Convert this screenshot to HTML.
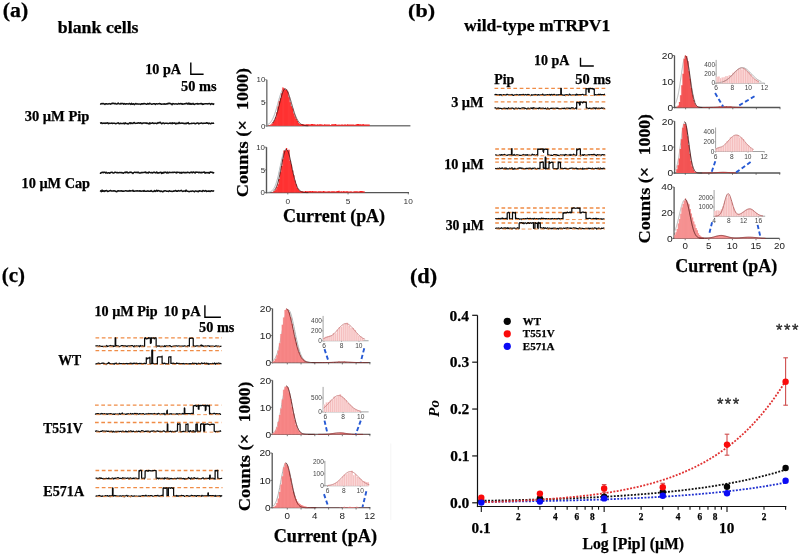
<!DOCTYPE html>
<html><head><meta charset="utf-8"><style>
html,body{margin:0;padding:0;background:#fff;}
svg{display:block;will-change:transform;}
.b{stroke:#000;stroke-width:0.25px;}
.a{stroke:#2a2a2a;stroke-width:0.35px;}
</style></head><body>
<svg width="800" height="555" viewBox="0 0 800 555">
<rect width="800" height="555" fill="#fff"/>
<text class="b" x="2.74" y="17.4" font-family='"Liberation Serif", serif' font-size="20" font-weight="bold" font-style="normal" fill="#000" textLength="25.42" lengthAdjust="spacingAndGlyphs">(a)</text>
<text class="b" x="57.87" y="32.7" font-family='"Liberation Serif", serif' font-size="17.6" font-weight="bold" font-style="normal" fill="#000" textLength="80.66" lengthAdjust="spacingAndGlyphs">blank cells</text>
<text class="b" x="145.16" y="73.5" font-family='"Liberation Serif", serif' font-size="14.2" font-weight="bold" font-style="normal" fill="#000" textLength="35.94" lengthAdjust="spacingAndGlyphs">10 pA</text>
<text class="b" x="181.02" y="91" font-family='"Liberation Serif", serif' font-size="14.2" font-weight="bold" font-style="normal" fill="#000" textLength="35.53" lengthAdjust="spacingAndGlyphs">50 ms</text>
<path d="M190.8 62.6 L190.8 74.2 L203.6 74.2" stroke="#000" stroke-width="1.4" fill="none"/>
<text class="b" x="24.65" y="120.7" font-family='"Liberation Serif", serif' font-size="14.3" font-weight="bold" font-style="normal" fill="#000" textLength="64.73" lengthAdjust="spacingAndGlyphs">30 µM Pip</text>
<text class="b" x="21.56" y="188.4" font-family='"Liberation Serif", serif' font-size="14.3" font-weight="bold" font-style="normal" fill="#000" textLength="68.52" lengthAdjust="spacingAndGlyphs">10 µM Cap</text>
<path d="M100 103.9 L100.7 104 L101.4 103.8 L102.1 103.59 L102.8 103.74 L103.5 103.55 L104.2 103.92 L104.9 104.37 L105.6 103.73 L106.3 103.68 L107 104.07 L107.7 104.02 L108.4 103.94 L109.1 103.57 L109.8 103.89 L110.5 104.14 L111.2 103.43 L111.9 103.74 L112.6 103.23 L113.3 103.45 L114 103.26 L114.7 103.82 L115.4 103.46 L116.1 103.99 L116.8 103.95 L117.5 103.83 L118.2 103.02 L118.9 103.71 L119.6 103.88 L120.3 103.94 L121 103.36 L121.7 103.73 L122.4 103.56 L123.1 103.62 L123.8 104.27 L124.5 103.62 L125.2 103.89 L125.9 104.21 L126.6 103.7 L127.3 103.86 L128 103.94 L128.7 103.92 L129.4 103.47 L130.1 103.93 L130.8 104.38 L131.5 103.36 L132.2 104.2 L132.9 103.94 L133.6 103.68 L134.3 104.6 L135 104.17 L135.7 103.48 L136.4 103.93 L137.1 104.1 L137.8 103.83 L138.5 104.14 L139.2 103.88 L139.9 104.13 L140.6 104.4 L141.3 103.66 L142 103.97 L142.7 103.74 L143.4 103.94 L144.1 103.48 L144.8 103.7 L145.5 103.83 L146.2 104.21 L146.9 104.3 L147.6 103.44 L148.3 103.62 L149 104.13 L149.7 103.2 L150.4 103.74 L151.1 103.87 L151.8 104.34 L152.5 104.14 L153.2 103.79 L153.9 103.77 L154.6 103.81 L155.3 104.43 L156 103.75 L156.7 103.79 L157.4 104.02 L158.1 103.86 L158.8 103.83 L159.5 103.51 L160.2 103.9 L160.9 103.74 L161.6 104.31 L162.3 104.13 L163 103.89 L163.7 104.13 L164.4 103.78 L165.1 104.27 L165.8 103.9 L166.5 104.1 L167.2 103.45 L167.9 104.02 L168.6 103.31 L169.3 103.19 L170 103.79 L170.7 103.59 L171.4 103.96 L172.1 104.69 L172.8 103.61 L173.5 103.68 L174.2 103.97 L174.9 104.07 L175.6 103.84 L176.3 103.83 L177 104.15 L177.7 104.08 L178.4 103.54 L179.1 103.87 L179.8 103.91 L180.5 103.53 L181.2 103.99 L181.9 103.6 L182.6 104.24 L183.3 103.97 L184 103.93 L184.7 103.69 L185.4 103.86 L186.1 103.2 L186.8 103.5 L187.5 104.03 L188.2 103.16 L188.9 104.2 L189.6 103.29 L190.3 104.16 L191 103.6 L191.7 104.17 L192.4 103.95 L193.1 103.36 L193.8 104.34 L194.5 104.4 L195.2 103.88 L195.9 103.8 L196.6 103.84 L197.3 103.56 L198 104.28 L198.7 103.71 L199.4 103.88 L200.1 103.62 L200.8 103.68 L201.5 103.45 L202.2 104.34 L202.9 103.85 L203.6 104.24 L204.3 103.9 L205 103.66 L205.7 103.79 L206.4 103.7 L207.1 103.9 L207.8 103.77 L208.5 103.8 L209.2 103.42 L209.9 103.62 L210.6 104.48 L211.3 103.67 L212 103.53 L212.7 104.02 L213.4 104.39 L214.1 103.39" stroke="#111" stroke-width="1.5" fill="none" stroke-linejoin="round"/>
<path d="M100 123.23 L100.7 123.08 L101.4 122.68 L102.1 123.56 L102.8 123.29 L103.5 123.33 L104.2 123.04 L104.9 123.46 L105.6 123.11 L106.3 123.25 L107 122.91 L107.7 122.87 L108.4 123.77 L109.1 123.12 L109.8 123.4 L110.5 123.29 L111.2 123.15 L111.9 123.12 L112.6 123.52 L113.3 123.19 L114 123.25 L114.7 123.31 L115.4 123.71 L116.1 123.54 L116.8 123.43 L117.5 123.1 L118.2 122.82 L118.9 123.63 L119.6 123.64 L120.3 123.25 L121 123.49 L121.7 123.57 L122.4 123.59 L123.1 123.62 L123.8 123.14 L124.5 123.83 L125.2 122.86 L125.9 123.6 L126.6 123.47 L127.3 123.61 L128 123.96 L128.7 123.82 L129.4 122.9 L130.1 122.71 L130.8 123.59 L131.5 122.94 L132.2 123.3 L132.9 123.59 L133.6 122.72 L134.3 122.56 L135 123.39 L135.7 123.32 L136.4 123.21 L137.1 123.31 L137.8 123 L138.5 122.77 L139.2 123.24 L139.9 122.96 L140.6 122.72 L141.3 123.48 L142 123.28 L142.7 123.44 L143.4 122.95 L144.1 123.07 L144.8 122.95 L145.5 122.99 L146.2 123.37 L146.9 123.03 L147.6 123.42 L148.3 123.42 L149 124.01 L149.7 122.81 L150.4 123.61 L151.1 123.27 L151.8 123.3 L152.5 122.79 L153.2 123.14 L153.9 123.56 L154.6 123.27 L155.3 123.33 L156 123.2 L156.7 123.7 L157.4 123.29 L158.1 122.53 L158.8 123.06 L159.5 122.61 L160.2 122.16 L160.9 123.11 L161.6 123.77 L162.3 123.32 L163 122.89 L163.7 122.97 L164.4 123.7 L165.1 123.36 L165.8 123.32 L166.5 123.28 L167.2 123.31 L167.9 123.58 L168.6 123.49 L169.3 123.38 L170 122.93 L170.7 123.48 L171.4 123.06 L172.1 123.68 L172.8 122.86 L173.5 123.25 L174.2 123.3 L174.9 122.84 L175.6 123.9 L176.3 123.81 L177 123.14 L177.7 123.57 L178.4 123.43 L179.1 122.39 L179.8 123.39 L180.5 123.28 L181.2 123.33 L181.9 122.92 L182.6 123.21 L183.3 123.24 L184 123.72 L184.7 123.42 L185.4 123.3 L186.1 123.84 L186.8 123.11 L187.5 123.16 L188.2 122.66 L188.9 123.85 L189.6 123.64 L190.3 123.62 L191 123.53 L191.7 123.34 L192.4 123.38 L193.1 123.21 L193.8 123.23 L194.5 123.32 L195.2 123.83 L195.9 123.49 L196.6 123.28 L197.3 123.1 L198 123.08 L198.7 123.86 L199.4 123.48 L200.1 123.32 L200.8 123.18 L201.5 122.91 L202.2 123.28 L202.9 123.61 L203.6 123.16 L204.3 123.22 L205 123.22 L205.7 123.34 L206.4 122.74 L207.1 123.22 L207.8 123 L208.5 123.61 L209.2 123.03 L209.9 123.5 L210.6 123.83 L211.3 123.19 L212 123.09 L212.7 123.37 L213.4 123.3 L214.1 122.95" stroke="#111" stroke-width="1.5" fill="none" stroke-linejoin="round"/>
<path d="M100 172.76 L100.7 173.31 L101.4 172.51 L102.1 172.53 L102.8 172.23 L103.5 172.71 L104.2 172.16 L104.9 172.21 L105.6 173.05 L106.3 172.28 L107 172.98 L107.7 173.13 L108.4 172.69 L109.1 172.79 L109.8 173.28 L110.5 172.53 L111.2 172.39 L111.9 172.13 L112.6 172.61 L113.3 173.12 L114 172.94 L114.7 172.27 L115.4 172.3 L116.1 172.42 L116.8 172.7 L117.5 172.53 L118.2 172.68 L118.9 172.7 L119.6 172.5 L120.3 172.59 L121 172.67 L121.7 172.57 L122.4 172.78 L123.1 173.25 L123.8 172.81 L124.5 172.62 L125.2 172.01 L125.9 172.74 L126.6 171.92 L127.3 172.11 L128 172.9 L128.7 172.85 L129.4 172.55 L130.1 172 L130.8 172.47 L131.5 172.36 L132.2 172.82 L132.9 173.39 L133.6 172.68 L134.3 172.33 L135 172.19 L135.7 172.58 L136.4 172.54 L137.1 172.2 L137.8 172.64 L138.5 172.2 L139.2 172.99 L139.9 172.97 L140.6 172.98 L141.3 172.43 L142 172.78 L142.7 172.55 L143.4 172.46 L144.1 172.48 L144.8 172.15 L145.5 172.09 L146.2 172.88 L146.9 172.53 L147.6 172.68 L148.3 172.95 L149 171.99 L149.7 172.33 L150.4 172.66 L151.1 172.74 L151.8 172.47 L152.5 172.96 L153.2 172.67 L153.9 172.18 L154.6 172.27 L155.3 172.88 L156 172.76 L156.7 171.94 L157.4 173.07 L158.1 172.81 L158.8 173.07 L159.5 172.47 L160.2 172.5 L160.9 172.21 L161.6 173.49 L162.3 172.54 L163 173.16 L163.7 172.37 L164.4 172.66 L165.1 172.02 L165.8 172.47 L166.5 172.94 L167.2 172.16 L167.9 172.98 L168.6 172.72 L169.3 172.23 L170 172.42 L170.7 172.44 L171.4 172.58 L172.1 172.41 L172.8 172.31 L173.5 172.49 L174.2 172.24 L174.9 172.15 L175.6 172.58 L176.3 172.91 L177 172.06 L177.7 172.6 L178.4 172.37 L179.1 172.26 L179.8 172.9 L180.5 172.42 L181.2 173.12 L181.9 172.33 L182.6 172.74 L183.3 172.52 L184 172.34 L184.7 172.81 L185.4 172.55 L186.1 172.81 L186.8 172.58 L187.5 172.22 L188.2 172.56 L188.9 172.62 L189.6 172.94 L190.3 172.28 L191 172.59 L191.7 172 L192.4 172.83 L193.1 172.22 L193.8 171.97 L194.5 172.58 L195.2 172.99 L195.9 172.07 L196.6 172.22 L197.3 172.34 L198 172.2 L198.7 172.73 L199.4 172.32 L200.1 172.35 L200.8 172.8 L201.5 172.34 L202.2 172.75 L202.9 172.26 L203.6 172.18 L204.3 171.96 L205 173.25 L205.7 172.49 L206.4 172.69 L207.1 172.59 L207.8 172.66 L208.5 172.62 L209.2 173.27 L209.9 172.24 L210.6 172.05 L211.3 172.25 L212 172.13 L212.7 172.86 L213.4 172.89 L214.1 172.26" stroke="#111" stroke-width="1.5" fill="none" stroke-linejoin="round"/>
<path d="M100 190.61 L100.7 190.98 L101.4 191.59 L102.1 190.11 L102.8 191.28 L103.5 190.72 L104.2 191.46 L104.9 190.72 L105.6 191 L106.3 190.57 L107 190.76 L107.7 191.59 L108.4 191.39 L109.1 190.96 L109.8 190.8 L110.5 190.44 L111.2 190.96 L111.9 191.09 L112.6 191.07 L113.3 191.07 L114 190.71 L114.7 191.08 L115.4 191.09 L116.1 191.55 L116.8 191.75 L117.5 191.05 L118.2 190.83 L118.9 191.08 L119.6 190.89 L120.3 190.84 L121 191.08 L121.7 190.73 L122.4 191.31 L123.1 191.06 L123.8 191.19 L124.5 191.04 L125.2 190.85 L125.9 190.77 L126.6 191.02 L127.3 190.91 L128 191.18 L128.7 191.1 L129.4 190.62 L130.1 191.12 L130.8 190.63 L131.5 190.88 L132.2 191 L132.9 190.37 L133.6 191.13 L134.3 191.15 L135 191.04 L135.7 190.95 L136.4 190.97 L137.1 190.76 L137.8 191.01 L138.5 190.91 L139.2 191.13 L139.9 190.68 L140.6 191.18 L141.3 191.15 L142 191.05 L142.7 190.95 L143.4 191.29 L144.1 190.52 L144.8 191.26 L145.5 191.19 L146.2 191.2 L146.9 191.23 L147.6 190.87 L148.3 191.01 L149 191.32 L149.7 191.25 L150.4 191.17 L151.1 190.57 L151.8 191.29 L152.5 191.51 L153.2 191.45 L153.9 191.18 L154.6 190.55 L155.3 191.43 L156 191.05 L156.7 190.21 L157.4 191.23 L158.1 190.58 L158.8 190.65 L159.5 190.88 L160.2 191.55 L160.9 190.97 L161.6 191.19 L162.3 191.71 L163 191.66 L163.7 191.06 L164.4 191.02 L165.1 190.66 L165.8 190.86 L166.5 191.25 L167.2 191.24 L167.9 191.14 L168.6 191.45 L169.3 190.83 L170 191.08 L170.7 191.36 L171.4 191.3 L172.1 191.47 L172.8 191.24 L173.5 190.99 L174.2 191.23 L174.9 190.75 L175.6 190.53 L176.3 191.3 L177 191.08 L177.7 191.21 L178.4 190.51 L179.1 190.97 L179.8 190.89 L180.5 190.8 L181.2 190.31 L181.9 190.98 L182.6 191.41 L183.3 191.23 L184 190.89 L184.7 191.09 L185.4 191.36 L186.1 190.13 L186.8 191.06 L187.5 191.29 L188.2 191.34 L188.9 191.7 L189.6 191.5 L190.3 191.21 L191 191.21 L191.7 191.38 L192.4 190.91 L193.1 191.09 L193.8 191.42 L194.5 191.79 L195.2 191.04 L195.9 191.08 L196.6 191.17 L197.3 191.57 L198 191.09 L198.7 191.61 L199.4 190.76 L200.1 191.03 L200.8 191.03 L201.5 191.38 L202.2 191.47 L202.9 190.57 L203.6 190.78 L204.3 191.22 L205 190.87 L205.7 190.57 L206.4 191.46 L207.1 191.27 L207.8 191.27 L208.5 190.93 L209.2 191.46 L209.9 191.02 L210.6 191.48 L211.3 190.78 L212 190.8 L212.7 191.17 L213.4 190.85 L214.1 191.34" stroke="#111" stroke-width="1.5" fill="none" stroke-linejoin="round"/>
<text class="b" transform="translate(247.9 197.29) rotate(-90)" x="0" y="0" font-family='"Liberation Serif", serif' font-size="17.5" font-weight="bold" fill="#000" textLength="77.14" lengthAdjust="spacingAndGlyphs">Counts (×</text>
<text class="b" transform="translate(247.9 110.04) rotate(-90)" x="0" y="0" font-family='"Liberation Serif", serif' font-size="17.5" font-weight="bold" fill="#000" textLength="42.03" lengthAdjust="spacingAndGlyphs">1000)</text>
<text class="b" x="283.13" y="221.8" font-family='"Liberation Serif", serif' font-size="17.8" font-weight="bold" font-style="normal" fill="#000" textLength="101.96" lengthAdjust="spacingAndGlyphs">Current (pA)</text>
<line x1="266.8" y1="79.7" x2="266.8" y2="126.55" stroke="#7a7a7a" stroke-width="1.5"/>
<line x1="266.05" y1="125.8" x2="410.4" y2="125.8" stroke="#7a7a7a" stroke-width="1.5"/>
<line x1="265" y1="79.7" x2="266.8" y2="79.7" stroke="#7a7a7a" stroke-width="0.8"/>
<text x="256.52" y="82.46" font-family='"Liberation Sans", sans-serif' font-size="7.9" font-weight="normal" font-style="normal" fill="#333">10</text>
<line x1="265" y1="102.75" x2="266.8" y2="102.75" stroke="#7a7a7a" stroke-width="0.8"/>
<text x="260.94" y="105.47" font-family='"Liberation Sans", sans-serif' font-size="7.9" font-weight="normal" font-style="normal" fill="#333">5</text>
<line x1="265" y1="125.8" x2="266.8" y2="125.8" stroke="#7a7a7a" stroke-width="0.8"/>
<text x="260.91" y="128.56" font-family='"Liberation Sans", sans-serif' font-size="7.9" font-weight="normal" font-style="normal" fill="#333">0</text>
<path d="M266.71 125.03 L266.99 124.93 L267.27 124.82 L267.55 124.7 L267.83 124.56 L268.1 124.41 L268.38 124.25 L268.66 124.06 L268.94 123.86 L269.22 123.65 L269.5 123.41 L269.78 123.15 L270.05 122.86 L270.33 122.56 L270.61 122.23 L270.89 121.87 L271.17 121.48 L271.45 121.07 L271.72 120.63 L272 120.16 L272.28 119.65 L272.56 119.12 L272.84 118.55 L273.12 117.95 L273.4 117.32 L273.67 116.66 L273.95 115.96 L274.23 115.23 L274.51 114.46 L274.79 113.67 L275.07 112.85 L275.34 112 L275.62 111.12 L275.9 110.21 L276.18 109.29 L276.46 108.34 L276.74 107.37 L277.02 106.39 L277.29 105.4 L277.57 104.4 L277.85 103.4 L278.13 102.39 L278.41 101.39 L278.69 100.39 L278.97 99.41 L279.24 98.44 L279.52 97.49 L279.8 96.57 L280.08 95.67 L280.36 94.81 L280.64 93.99 L280.91 93.21 L281.19 92.48 L281.47 91.8 L281.75 91.18 L282.03 90.61 L282.31 90.1 L282.59 89.66 L282.86 89.28 L283.14 88.97 L283.42 88.74 L283.7 88.57 L283.98 88.48 L284.26 88.46 L284.53 88.52 L284.81 88.65 L285.09 88.85 L285.37 89.12 L285.65 89.46 L285.93 89.87 L286.21 90.35 L286.48 90.89 L286.76 91.49 L287.04 92.14 L287.32 92.85 L287.6 93.61 L287.88 94.41 L288.15 95.25 L288.43 96.13 L288.71 97.03 L288.99 97.97 L289.27 98.93 L289.55 99.91 L289.83 100.9 L290.1 101.9 L290.38 102.9 L290.66 103.91 L290.94 104.91 L291.22 105.91 L291.5 106.9 L291.77 107.87 L292.05 108.82 L292.33 109.76 L292.61 110.68 L292.89 111.57 L293.17 112.43 L293.45 113.27 L293.72 114.08 L294 114.86 L294.28 115.6 L294.56 116.32 L294.84 117 L295.12 117.65 L295.39 118.26 L295.67 118.85 L295.95 119.4 L296.23 119.91 L296.51 120.4 L296.79 120.86 L297.07 121.29 L297.34 121.68 L297.62 122.05 L297.9 122.4 L298.18 122.72 L298.46 123.01 L298.74 123.28 L299.01 123.53 L299.29 123.76 L299.57 123.97 L299.85 124.16" stroke="#a9b3b8" stroke-width="1" fill="none"/>
<path d="M267.92 125.8 L267.92 125.45 L269.12 125.45 L269.12 125.16 L270.33 125.16 L270.33 124.55 L271.53 124.55 L271.53 123.65 L272.74 123.65 L272.74 121.96 L273.94 121.96 L273.94 120.14 L275.15 120.14 L275.15 117.15 L276.35 117.15 L276.35 112.34 L277.56 112.34 L277.56 106.56 L278.76 106.56 L278.76 101.15 L279.97 101.15 L279.97 98.16 L281.17 98.16 L281.17 93.28 L282.38 93.28 L282.38 87.4 L283.58 87.4 L283.58 88.47 L284.79 88.47 L284.79 90.02 L285.99 90.02 L285.99 89.39 L287.2 89.39 L287.2 91.52 L288.4 91.52 L288.4 97.17 L289.61 97.17 L289.61 102.3 L290.81 102.3 L290.81 106.18 L292.02 106.18 L292.02 108.46 L293.22 108.46 L293.22 113.47 L294.43 113.47 L294.43 116.44 L295.63 116.44 L295.63 119.06 L296.84 119.06 L296.84 121.12 L298.04 121.12 L298.04 122.88 L299.25 122.88 L299.25 123.88 L300.45 123.88 L300.45 124.71 L301.66 124.71 L301.66 125.15 L302.86 125.15 L302.86 125.45 L304.07 125.45 L304.07 125.59 L305.27 125.59 L305.27 125.7 L306.48 125.7 L306.48 125.75 L307.68 125.75 L307.68 125.78 L308.89 125.78 L308.89 125.79 L310.09 125.79 L310.09 125.79 L311.3 125.79 L311.3 125.8 L312.5 125.8 L312.5 125.8 L313.71 125.8 L313.71 125.8 L314.91 125.8 L314.91 125.8 L316.12 125.8 L316.12 125.8 L317.32 125.8 L317.32 125.8 Z" fill="#ff1f1f" fill-opacity="1" stroke="none"/>
<line x1="267.92" y1="125.8" x2="267.92" y2="125.45" stroke="#ff6a6a" stroke-width="0.35"/>
<line x1="269.12" y1="125.8" x2="269.12" y2="125.16" stroke="#ff6a6a" stroke-width="0.35"/>
<line x1="270.33" y1="125.8" x2="270.33" y2="124.55" stroke="#ff6a6a" stroke-width="0.35"/>
<line x1="271.53" y1="125.8" x2="271.53" y2="123.65" stroke="#ff6a6a" stroke-width="0.35"/>
<line x1="272.74" y1="125.8" x2="272.74" y2="121.96" stroke="#ff6a6a" stroke-width="0.35"/>
<line x1="273.94" y1="125.8" x2="273.94" y2="120.14" stroke="#ff6a6a" stroke-width="0.35"/>
<line x1="275.15" y1="125.8" x2="275.15" y2="117.15" stroke="#ff6a6a" stroke-width="0.35"/>
<line x1="276.35" y1="125.8" x2="276.35" y2="112.34" stroke="#ff6a6a" stroke-width="0.35"/>
<line x1="277.56" y1="125.8" x2="277.56" y2="106.56" stroke="#ff6a6a" stroke-width="0.35"/>
<line x1="278.76" y1="125.8" x2="278.76" y2="101.15" stroke="#ff6a6a" stroke-width="0.35"/>
<line x1="279.97" y1="125.8" x2="279.97" y2="98.16" stroke="#ff6a6a" stroke-width="0.35"/>
<line x1="281.17" y1="125.8" x2="281.17" y2="93.28" stroke="#ff6a6a" stroke-width="0.35"/>
<line x1="282.38" y1="125.8" x2="282.38" y2="87.4" stroke="#ff6a6a" stroke-width="0.35"/>
<line x1="283.58" y1="125.8" x2="283.58" y2="88.47" stroke="#ff6a6a" stroke-width="0.35"/>
<line x1="284.79" y1="125.8" x2="284.79" y2="90.02" stroke="#ff6a6a" stroke-width="0.35"/>
<line x1="285.99" y1="125.8" x2="285.99" y2="89.39" stroke="#ff6a6a" stroke-width="0.35"/>
<line x1="287.2" y1="125.8" x2="287.2" y2="91.52" stroke="#ff6a6a" stroke-width="0.35"/>
<line x1="288.4" y1="125.8" x2="288.4" y2="97.17" stroke="#ff6a6a" stroke-width="0.35"/>
<line x1="289.61" y1="125.8" x2="289.61" y2="102.3" stroke="#ff6a6a" stroke-width="0.35"/>
<line x1="290.81" y1="125.8" x2="290.81" y2="106.18" stroke="#ff6a6a" stroke-width="0.35"/>
<line x1="292.02" y1="125.8" x2="292.02" y2="108.46" stroke="#ff6a6a" stroke-width="0.35"/>
<line x1="293.22" y1="125.8" x2="293.22" y2="113.47" stroke="#ff6a6a" stroke-width="0.35"/>
<line x1="294.43" y1="125.8" x2="294.43" y2="116.44" stroke="#ff6a6a" stroke-width="0.35"/>
<line x1="295.63" y1="125.8" x2="295.63" y2="119.06" stroke="#ff6a6a" stroke-width="0.35"/>
<line x1="296.84" y1="125.8" x2="296.84" y2="121.12" stroke="#ff6a6a" stroke-width="0.35"/>
<line x1="298.04" y1="125.8" x2="298.04" y2="122.88" stroke="#ff6a6a" stroke-width="0.35"/>
<line x1="299.25" y1="125.8" x2="299.25" y2="123.88" stroke="#ff6a6a" stroke-width="0.35"/>
<line x1="300.45" y1="125.8" x2="300.45" y2="124.71" stroke="#ff6a6a" stroke-width="0.35"/>
<line x1="301.66" y1="125.8" x2="301.66" y2="125.15" stroke="#ff6a6a" stroke-width="0.35"/>
<line x1="302.86" y1="125.8" x2="302.86" y2="125.45" stroke="#ff6a6a" stroke-width="0.35"/>
<line x1="304.07" y1="125.8" x2="304.07" y2="125.59" stroke="#ff6a6a" stroke-width="0.35"/>
<line x1="305.27" y1="125.8" x2="305.27" y2="125.7" stroke="#ff6a6a" stroke-width="0.35"/>
<line x1="306.48" y1="125.8" x2="306.48" y2="125.75" stroke="#ff6a6a" stroke-width="0.35"/>
<line x1="307.68" y1="125.8" x2="307.68" y2="125.78" stroke="#ff6a6a" stroke-width="0.35"/>
<line x1="308.89" y1="125.8" x2="308.89" y2="125.79" stroke="#ff6a6a" stroke-width="0.35"/>
<line x1="310.09" y1="125.8" x2="310.09" y2="125.79" stroke="#ff6a6a" stroke-width="0.35"/>
<line x1="311.3" y1="125.8" x2="311.3" y2="125.8" stroke="#ff6a6a" stroke-width="0.35"/>
<line x1="312.5" y1="125.8" x2="312.5" y2="125.8" stroke="#ff6a6a" stroke-width="0.35"/>
<line x1="313.71" y1="125.8" x2="313.71" y2="125.8" stroke="#ff6a6a" stroke-width="0.35"/>
<line x1="314.91" y1="125.8" x2="314.91" y2="125.8" stroke="#ff6a6a" stroke-width="0.35"/>
<line x1="316.12" y1="125.8" x2="316.12" y2="125.8" stroke="#ff6a6a" stroke-width="0.35"/>
<path d="M299.85 125.8 L299.85 124.44 L301.06 124.44 L301.06 124.27 L302.26 124.27 L302.26 123.99 L303.47 123.99 L303.47 124.47 L304.67 124.47 L304.67 124.49 L305.88 124.49 L305.88 124.17 L307.08 124.17 L307.08 124.31 L308.29 124.31 L308.29 124.28 L309.49 124.28 L309.49 124.52 L310.7 124.52 L310.7 124.02 L311.9 124.02 L311.9 124.06 L313.11 124.06 L313.11 124.3 L314.31 124.3 L314.31 124.28 L315.52 124.28 L315.52 124.84 L316.72 124.84 L316.72 124.28 L317.93 124.28 L317.93 124.46 L319.13 124.46 L319.13 124.33 L320.34 124.33 L320.34 124.28 L321.54 124.28 L321.54 124.49 L322.75 124.49 L322.75 124.77 L323.95 124.77 L323.95 124.34 L325.16 124.34 L325.16 124.57 L326.36 124.57 L326.36 124.49 L327.57 124.49 L327.57 124.54 L328.77 124.54 L328.77 124.49 L329.98 124.49 L329.98 124.9 L331.18 124.9 L331.18 124.16 L332.39 124.16 L332.39 124.36 L333.59 124.36 L333.59 124.19 L334.8 124.19 L334.8 124.01 L336 124.01 L336 124.41 L337.21 124.41 L337.21 124.79 L338.41 124.79 L338.41 124.6 L339.62 124.6 L339.62 124.67 L340.82 124.67 L340.82 124.52 L342.03 124.52 L342.03 124.4 L343.23 124.4 L343.23 124.83 L344.44 124.83 L344.44 124.35 L345.64 124.35 L345.64 124.73 L346.85 124.73 L346.85 124.36 L348.05 124.36 L348.05 124.44 L349.26 124.44 L349.26 124.48 L350.46 124.48 L350.46 124.43 L351.67 124.43 L351.67 124.53 L352.87 124.53 L352.87 124.54 L354.08 124.54 L354.08 124.77 L355.28 124.77 L355.28 124.42 L356.49 124.42 L356.49 124.03 L357.69 124.03 L357.69 124.01 L358.9 124.01 L358.9 124.14 L360.1 124.14 L360.1 124.27 L361.31 124.27 L361.31 124.56 L362.51 124.56 L362.51 124.12 L363.72 124.12 L363.72 124.43 L364.92 124.43 L364.92 124.43 L366.13 124.43 L366.13 124.48 L367.33 124.48 L367.33 124.4 L368.54 124.4 L368.54 124.51 L369.74 124.51 L369.74 125.8 Z" fill="#ff1f1f" fill-opacity="1" stroke="none"/>
<path d="M272.13 123.46 L272.44 123.14 L272.74 122.79 L273.05 122.4 L273.35 121.97 L273.65 121.51 L273.96 121 L274.26 120.44 L274.57 119.84 L274.87 119.19 L275.17 118.5 L275.48 117.75 L275.78 116.96 L276.08 116.12 L276.39 115.22 L276.69 114.28 L277 113.3 L277.3 112.27 L277.6 111.2 L277.91 110.09 L278.21 108.95 L278.51 107.78 L278.82 106.59 L279.12 105.38 L279.43 104.16 L279.73 102.93 L280.03 101.71 L280.34 100.5 L280.64 99.31 L280.94 98.14 L281.25 97.01 L281.55 95.92 L281.86 94.89 L282.16 93.91 L282.46 93 L282.77 92.17 L283.07 91.42 L283.37 90.76 L283.68 90.19 L283.98 89.73 L284.29 89.36 L284.59 89.11 L284.89 88.96 L285.2 88.92 L285.5 88.98 L285.81 89.11 L286.11 89.33 L286.41 89.63 L286.72 90.01 L287.02 90.47 L287.32 91 L287.63 91.6 L287.93 92.26 L288.24 92.98 L288.54 93.77 L288.84 94.6 L289.15 95.48 L289.45 96.4 L289.75 97.36 L290.06 98.35 L290.36 99.37 L290.67 100.4 L290.97 101.45 L291.27 102.51 L291.58 103.58 L291.88 104.64 L292.18 105.7 L292.49 106.74 L292.79 107.78 L293.1 108.8 L293.4 109.79 L293.7 110.76 L294.01 111.71 L294.31 112.62 L294.61 113.5 L294.92 114.35 L295.22 115.17 L295.53 115.95 L295.83 116.69 L296.13 117.4 L296.44 118.07 L296.74 118.7 L297.05 119.29 L297.35 119.85 L297.65 120.37 L297.96 120.86 L298.26 121.32 L298.56 121.74 L298.87 122.13 L299.17 122.49 L299.48 122.82 L299.78 123.13 L300.08 123.4 L300.39 123.66 L300.69 123.89 L300.99 124.1 L301.3 124.29 L301.6 124.46 L301.91 124.62 L302.21 124.76 L302.51 124.88 L302.82 125 L303.12 125.1 L303.42 125.19 L303.73 125.26 L304.03 125.33 L304.34 125.4 L304.64 125.45 L304.94 125.5 L305.25 125.54 L305.55 125.58 L305.85 125.61 L306.16 125.64 L306.46 125.66 L306.77 125.68 L307.07 125.7 L307.37 125.71 L307.68 125.73 L307.98 125.74 L308.29 125.75" stroke="#3a1010" stroke-width="0.8" fill="none"/>
<line x1="266.5" y1="147.2" x2="266.5" y2="193.3" stroke="#555" stroke-width="1.4"/>
<line x1="265.8" y1="192.6" x2="409" y2="192.6" stroke="#555" stroke-width="1.4"/>
<line x1="264.7" y1="147.2" x2="266.5" y2="147.2" stroke="#555" stroke-width="0.8"/>
<text x="256.22" y="149.96" font-family='"Liberation Sans", sans-serif' font-size="7.9" font-weight="normal" font-style="normal" fill="#333">10</text>
<line x1="264.7" y1="169.9" x2="266.5" y2="169.9" stroke="#555" stroke-width="0.8"/>
<text x="260.64" y="172.62" font-family='"Liberation Sans", sans-serif' font-size="7.9" font-weight="normal" font-style="normal" fill="#333">5</text>
<line x1="264.7" y1="192.6" x2="266.5" y2="192.6" stroke="#555" stroke-width="0.8"/>
<text x="260.61" y="195.36" font-family='"Liberation Sans", sans-serif' font-size="7.9" font-weight="normal" font-style="normal" fill="#333">0</text>
<line x1="287.8" y1="192.6" x2="287.8" y2="194.4" stroke="#555" stroke-width="0.8"/>
<line x1="348.05" y1="192.6" x2="348.05" y2="194.4" stroke="#555" stroke-width="0.8"/>
<line x1="408.3" y1="192.6" x2="408.3" y2="194.4" stroke="#555" stroke-width="0.8"/>
<text x="285.49" y="203.76" font-family='"Liberation Sans", sans-serif' font-size="7.9" font-weight="normal" font-style="normal" fill="#333" textLength="4.61" lengthAdjust="spacingAndGlyphs">0</text>
<text x="345.75" y="203.72" font-family='"Liberation Sans", sans-serif' font-size="7.9" font-weight="normal" font-style="normal" fill="#333" textLength="4.61" lengthAdjust="spacingAndGlyphs">5</text>
<text x="403.53" y="203.76" font-family='"Liberation Sans", sans-serif' font-size="7.9" font-weight="normal" font-style="normal" fill="#333" textLength="9.23" lengthAdjust="spacingAndGlyphs">10</text>
<path d="M267.31 192.46 L267.59 192.43 L267.86 192.4 L268.14 192.36 L268.41 192.32 L268.68 192.27 L268.96 192.22 L269.23 192.16 L269.5 192.08 L269.78 192 L270.05 191.91 L270.32 191.8 L270.6 191.68 L270.87 191.54 L271.14 191.39 L271.42 191.21 L271.69 191.02 L271.96 190.8 L272.24 190.56 L272.51 190.29 L272.78 190 L273.06 189.67 L273.33 189.31 L273.6 188.92 L273.88 188.48 L274.15 188.01 L274.42 187.5 L274.7 186.95 L274.97 186.36 L275.24 185.71 L275.52 185.03 L275.79 184.29 L276.06 183.5 L276.34 182.67 L276.61 181.79 L276.88 180.86 L277.16 179.88 L277.43 178.85 L277.7 177.78 L277.98 176.67 L278.25 175.52 L278.52 174.33 L278.8 173.1 L279.07 171.85 L279.34 170.57 L279.62 169.28 L279.89 167.97 L280.16 166.65 L280.44 165.33 L280.71 164.02 L280.99 162.72 L281.26 161.44 L281.53 160.19 L281.81 158.97 L282.08 157.8 L282.35 156.68 L282.63 155.61 L282.9 154.61 L283.17 153.68 L283.45 152.83 L283.72 152.07 L283.99 151.39 L284.27 150.82 L284.54 150.34 L284.81 149.96 L285.09 149.69 L285.36 149.52 L285.63 149.47 L285.91 149.53 L286.18 149.69 L286.45 149.96 L286.73 150.34 L287 150.82 L287.27 151.4 L287.55 152.08 L287.82 152.85 L288.09 153.7 L288.37 154.63 L288.64 155.63 L288.91 156.69 L289.19 157.82 L289.46 158.99 L289.73 160.21 L290.01 161.46 L290.28 162.74 L290.55 164.04 L290.83 165.35 L291.1 166.67 L291.37 167.99 L291.65 169.3 L291.92 170.59 L292.19 171.87 L292.47 173.12 L292.74 174.34 L293.01 175.53 L293.29 176.69 L293.56 177.8 L293.84 178.87 L294.11 179.89 L294.38 180.87 L294.66 181.8 L294.93 182.68 L295.2 183.52 L295.48 184.3 L295.75 185.04 L296.02 185.72 L296.3 186.37 L296.57 186.96 L296.84 187.51 L297.12 188.02 L297.39 188.49 L297.66 188.92 L297.94 189.31 L298.21 189.67 L298.48 190 L298.76 190.3 L299.03 190.56 L299.3 190.8 L299.58 191.02 L299.85 191.21" stroke="#a9b3b8" stroke-width="1" fill="none"/>
<path d="M267.92 192.6 L267.92 192.57 L269.12 192.57 L269.12 192.53 L270.33 192.53 L270.33 192.43 L271.53 192.43 L271.53 192.16 L272.74 192.16 L272.74 191.77 L273.94 191.77 L273.94 190.96 L275.15 190.96 L275.15 189.41 L276.35 189.41 L276.35 186.98 L277.56 186.98 L277.56 184.21 L278.76 184.21 L278.76 179.12 L279.97 179.12 L279.97 172.14 L281.17 172.14 L281.17 165.95 L282.38 165.95 L282.38 159.3 L283.58 159.3 L283.58 150.56 L284.79 150.56 L284.79 151.01 L285.99 151.01 L285.99 147.92 L287.2 147.92 L287.2 150.42 L288.4 150.42 L288.4 149.69 L289.61 149.69 L289.61 161.12 L290.81 161.12 L290.81 164.7 L292.02 164.7 L292.02 170.57 L293.22 170.57 L293.22 175.24 L294.43 175.24 L294.43 180.42 L295.63 180.42 L295.63 184.17 L296.84 184.17 L296.84 188.01 L298.04 188.01 L298.04 189.51 L299.25 189.51 L299.25 190.94 L300.45 190.94 L300.45 191.72 L301.66 191.72 L301.66 192.13 L302.86 192.13 L302.86 192.39 L304.07 192.39 L304.07 192.51 L305.27 192.51 L305.27 192.56 L306.48 192.56 L306.48 192.58 L307.68 192.58 L307.68 192.59 L308.89 192.59 L308.89 192.6 L310.09 192.6 L310.09 192.6 L311.3 192.6 L311.3 192.6 L312.5 192.6 L312.5 192.6 L313.71 192.6 L313.71 192.6 L314.91 192.6 L314.91 192.6 L316.12 192.6 L316.12 192.6 L317.32 192.6 L317.32 192.6 Z" fill="#ff1f1f" fill-opacity="1" stroke="none"/>
<line x1="267.92" y1="192.6" x2="267.92" y2="192.57" stroke="#ff6a6a" stroke-width="0.35"/>
<line x1="269.12" y1="192.6" x2="269.12" y2="192.53" stroke="#ff6a6a" stroke-width="0.35"/>
<line x1="270.33" y1="192.6" x2="270.33" y2="192.43" stroke="#ff6a6a" stroke-width="0.35"/>
<line x1="271.53" y1="192.6" x2="271.53" y2="192.16" stroke="#ff6a6a" stroke-width="0.35"/>
<line x1="272.74" y1="192.6" x2="272.74" y2="191.77" stroke="#ff6a6a" stroke-width="0.35"/>
<line x1="273.94" y1="192.6" x2="273.94" y2="190.96" stroke="#ff6a6a" stroke-width="0.35"/>
<line x1="275.15" y1="192.6" x2="275.15" y2="189.41" stroke="#ff6a6a" stroke-width="0.35"/>
<line x1="276.35" y1="192.6" x2="276.35" y2="186.98" stroke="#ff6a6a" stroke-width="0.35"/>
<line x1="277.56" y1="192.6" x2="277.56" y2="184.21" stroke="#ff6a6a" stroke-width="0.35"/>
<line x1="278.76" y1="192.6" x2="278.76" y2="179.12" stroke="#ff6a6a" stroke-width="0.35"/>
<line x1="279.97" y1="192.6" x2="279.97" y2="172.14" stroke="#ff6a6a" stroke-width="0.35"/>
<line x1="281.17" y1="192.6" x2="281.17" y2="165.95" stroke="#ff6a6a" stroke-width="0.35"/>
<line x1="282.38" y1="192.6" x2="282.38" y2="159.3" stroke="#ff6a6a" stroke-width="0.35"/>
<line x1="283.58" y1="192.6" x2="283.58" y2="150.56" stroke="#ff6a6a" stroke-width="0.35"/>
<line x1="284.79" y1="192.6" x2="284.79" y2="151.01" stroke="#ff6a6a" stroke-width="0.35"/>
<line x1="285.99" y1="192.6" x2="285.99" y2="147.92" stroke="#ff6a6a" stroke-width="0.35"/>
<line x1="287.2" y1="192.6" x2="287.2" y2="150.42" stroke="#ff6a6a" stroke-width="0.35"/>
<line x1="288.4" y1="192.6" x2="288.4" y2="149.69" stroke="#ff6a6a" stroke-width="0.35"/>
<line x1="289.61" y1="192.6" x2="289.61" y2="161.12" stroke="#ff6a6a" stroke-width="0.35"/>
<line x1="290.81" y1="192.6" x2="290.81" y2="164.7" stroke="#ff6a6a" stroke-width="0.35"/>
<line x1="292.02" y1="192.6" x2="292.02" y2="170.57" stroke="#ff6a6a" stroke-width="0.35"/>
<line x1="293.22" y1="192.6" x2="293.22" y2="175.24" stroke="#ff6a6a" stroke-width="0.35"/>
<line x1="294.43" y1="192.6" x2="294.43" y2="180.42" stroke="#ff6a6a" stroke-width="0.35"/>
<line x1="295.63" y1="192.6" x2="295.63" y2="184.17" stroke="#ff6a6a" stroke-width="0.35"/>
<line x1="296.84" y1="192.6" x2="296.84" y2="188.01" stroke="#ff6a6a" stroke-width="0.35"/>
<line x1="298.04" y1="192.6" x2="298.04" y2="189.51" stroke="#ff6a6a" stroke-width="0.35"/>
<line x1="299.25" y1="192.6" x2="299.25" y2="190.94" stroke="#ff6a6a" stroke-width="0.35"/>
<line x1="300.45" y1="192.6" x2="300.45" y2="191.72" stroke="#ff6a6a" stroke-width="0.35"/>
<line x1="301.66" y1="192.6" x2="301.66" y2="192.13" stroke="#ff6a6a" stroke-width="0.35"/>
<line x1="302.86" y1="192.6" x2="302.86" y2="192.39" stroke="#ff6a6a" stroke-width="0.35"/>
<line x1="304.07" y1="192.6" x2="304.07" y2="192.51" stroke="#ff6a6a" stroke-width="0.35"/>
<line x1="305.27" y1="192.6" x2="305.27" y2="192.56" stroke="#ff6a6a" stroke-width="0.35"/>
<line x1="306.48" y1="192.6" x2="306.48" y2="192.58" stroke="#ff6a6a" stroke-width="0.35"/>
<line x1="307.68" y1="192.6" x2="307.68" y2="192.59" stroke="#ff6a6a" stroke-width="0.35"/>
<line x1="308.89" y1="192.6" x2="308.89" y2="192.6" stroke="#ff6a6a" stroke-width="0.35"/>
<line x1="310.09" y1="192.6" x2="310.09" y2="192.6" stroke="#ff6a6a" stroke-width="0.35"/>
<line x1="311.3" y1="192.6" x2="311.3" y2="192.6" stroke="#ff6a6a" stroke-width="0.35"/>
<line x1="312.5" y1="192.6" x2="312.5" y2="192.6" stroke="#ff6a6a" stroke-width="0.35"/>
<line x1="313.71" y1="192.6" x2="313.71" y2="192.6" stroke="#ff6a6a" stroke-width="0.35"/>
<line x1="314.91" y1="192.6" x2="314.91" y2="192.6" stroke="#ff6a6a" stroke-width="0.35"/>
<line x1="316.12" y1="192.6" x2="316.12" y2="192.6" stroke="#ff6a6a" stroke-width="0.35"/>
<path d="M299.85 192.6 L299.85 191.49 L301.06 191.49 L301.06 191.15 L302.26 191.15 L302.26 191.37 L303.47 191.37 L303.47 191.64 L304.67 191.64 L304.67 191.1 L305.88 191.1 L305.88 191.26 L307.08 191.26 L307.08 191.17 L308.29 191.17 L308.29 191.22 L309.49 191.22 L309.49 191.11 L310.7 191.11 L310.7 191.23 L311.9 191.23 L311.9 190.99 L313.11 190.99 L313.11 191.15 L314.31 191.15 L314.31 191.16 L315.52 191.16 L315.52 191.15 L316.72 191.15 L316.72 191.54 L317.93 191.54 L317.93 191.27 L319.13 191.27 L319.13 191.29 L320.34 191.29 L320.34 191.2 L321.54 191.2 L321.54 191.52 L322.75 191.52 L322.75 190.9 L323.95 190.9 L323.95 191.22 L325.16 191.22 L325.16 191.49 L326.36 191.49 L326.36 191.59 L327.57 191.59 L327.57 191.3 L328.77 191.3 L328.77 191.26 L329.98 191.26 L329.98 191.38 L331.18 191.38 L331.18 191.22 L332.39 191.22 L332.39 191.37 L333.59 191.37 L333.59 191.13 L334.8 191.13 L334.8 191.39 L336 191.39 L336 191.25 L337.21 191.25 L337.21 191.04 L338.41 191.04 L338.41 190.71 L339.62 190.71 L339.62 191.44 L340.82 191.44 L340.82 191.33 L342.03 191.33 L342.03 191.41 L343.23 191.41 L343.23 191.08 L344.44 191.08 L344.44 191.47 L345.64 191.47 L345.64 191.34 L346.85 191.34 L346.85 191.24 L348.05 191.24 L348.05 191.44 L349.26 191.44 L349.26 191.43 L350.46 191.43 L350.46 191.34 L351.67 191.34 L351.67 191.67 L352.87 191.67 L352.87 191.53 L354.08 191.53 L354.08 191.32 L355.28 191.32 L355.28 191.21 L356.49 191.21 L356.49 191.28 L357.69 191.28 L357.69 191.6 L358.9 191.6 L358.9 191.33 L360.1 191.33 L360.1 191.07 L361.31 191.07 L361.31 191.12 L362.51 191.12 L362.51 191.25 L363.72 191.25 L363.72 191.42 L364.92 191.42 L364.92 192.6 Z" fill="#ff1f1f" fill-opacity="1" stroke="none"/>
<path d="M273.34 191.26 L273.63 191.03 L273.93 190.78 L274.22 190.49 L274.51 190.16 L274.81 189.79 L275.1 189.38 L275.4 188.91 L275.69 188.4 L275.98 187.84 L276.28 187.21 L276.57 186.53 L276.86 185.78 L277.16 184.97 L277.45 184.1 L277.74 183.15 L278.04 182.14 L278.33 181.06 L278.63 179.91 L278.92 178.7 L279.21 177.42 L279.51 176.09 L279.8 174.71 L280.09 173.27 L280.39 171.8 L280.68 170.29 L280.98 168.76 L281.27 167.21 L281.56 165.65 L281.86 164.1 L282.15 162.57 L282.44 161.07 L282.74 159.61 L283.03 158.2 L283.32 156.86 L283.62 155.6 L283.91 154.43 L284.21 153.36 L284.5 152.41 L284.79 151.57 L285.09 150.87 L285.38 150.3 L285.67 149.88 L285.97 149.6 L286.26 149.48 L286.55 149.5 L286.85 149.65 L287.14 149.92 L287.44 150.32 L287.73 150.83 L288.02 151.46 L288.32 152.2 L288.61 153.05 L288.9 153.98 L289.2 155.01 L289.49 156.12 L289.78 157.29 L290.08 158.53 L290.37 159.82 L290.67 161.16 L290.96 162.53 L291.25 163.92 L291.55 165.33 L291.84 166.75 L292.13 168.16 L292.43 169.57 L292.72 170.95 L293.01 172.32 L293.31 173.65 L293.6 174.95 L293.9 176.2 L294.19 177.42 L294.48 178.58 L294.78 179.69 L295.07 180.75 L295.36 181.75 L295.66 182.7 L295.95 183.59 L296.25 184.43 L296.54 185.21 L296.83 185.93 L297.13 186.6 L297.42 187.22 L297.71 187.79 L298.01 188.32 L298.3 188.79 L298.59 189.22 L298.89 189.62 L299.18 189.97 L299.48 190.29 L299.77 190.58 L300.06 190.83 L300.36 191.06 L300.65 191.27 L300.94 191.44 L301.24 191.6 L301.53 191.74 L301.82 191.86 L302.12 191.97 L302.41 192.06 L302.71 192.14 L303 192.21 L303.29 192.27 L303.59 192.32 L303.88 192.37 L304.17 192.41 L304.47 192.44 L304.76 192.46 L305.05 192.49 L305.35 192.51 L305.64 192.52 L305.94 192.54 L306.23 192.55 L306.52 192.56 L306.82 192.57 L307.11 192.57 L307.4 192.58 L307.7 192.58 L307.99 192.58 L308.29 192.59" stroke="#3a1010" stroke-width="0.8" fill="none"/>
<text class="b" x="408.13" y="16.8" font-family='"Liberation Serif", serif' font-size="19.8" font-weight="bold" font-style="normal" fill="#000" textLength="26.94" lengthAdjust="spacingAndGlyphs">(b)</text>
<text class="b" x="464.05" y="31" font-family='"Liberation Serif", serif' font-size="17.6" font-weight="bold" font-style="normal" fill="#000" textLength="146.26" lengthAdjust="spacingAndGlyphs">wild-type mTRPV1</text>
<text class="b" x="533.88" y="64.5" font-family='"Liberation Serif", serif' font-size="14.2" font-weight="bold" font-style="normal" fill="#000" textLength="35.42" lengthAdjust="spacingAndGlyphs">10 pA</text>
<path d="M580.5 57.8 L580.5 66 L593.8 66" stroke="#000" stroke-width="1.4" fill="none"/>
<text class="b" x="494.26" y="83.8" font-family='"Liberation Serif", serif' font-size="14.2" font-weight="bold" font-style="normal" fill="#000" textLength="20" lengthAdjust="spacingAndGlyphs">Pip</text>
<text class="b" x="575.22" y="83.8" font-family='"Liberation Serif", serif' font-size="14.2" font-weight="bold" font-style="normal" fill="#000" textLength="35.53" lengthAdjust="spacingAndGlyphs">50 ms</text>
<text class="b" x="451.16" y="107.2" font-family='"Liberation Serif", serif' font-size="14.3" font-weight="bold" font-style="normal" fill="#000" textLength="32.45" lengthAdjust="spacingAndGlyphs">3 µM</text>
<text class="b" x="444.26" y="168.6" font-family='"Liberation Serif", serif' font-size="14.3" font-weight="bold" font-style="normal" fill="#000" textLength="39.45" lengthAdjust="spacingAndGlyphs">10 µM</text>
<text class="b" x="445.68" y="229.8" font-family='"Liberation Serif", serif' font-size="14.3" font-weight="bold" font-style="normal" fill="#000" textLength="38.01" lengthAdjust="spacingAndGlyphs">30 µM</text>
<line x1="494.5" y1="88.4" x2="605.5" y2="88.4" stroke="#F08C46" stroke-width="1.3" stroke-dasharray="3.7 2.6"/>
<line x1="494.5" y1="101.9" x2="605.5" y2="101.9" stroke="#F08C46" stroke-width="1.3" stroke-dasharray="3.7 2.6"/>
<path d="M494.5 95 L495.2 94.61 L495.9 94.43 L496.6 94.54 L497.3 95.26 L498 94.87 L498.7 95.17 L499.4 94.65 L500.1 95.1 L500.8 94.61 L501.5 94.75 L502.2 95.6 L502.9 95.05 L503.6 94.64 L504.3 94.77 L505 94.9 L505.7 95.19 L506.4 94.64 L507.1 94.24 L507.8 94.71 L508.5 94.8 L509.2 94.84 L509.9 95.22 L510.6 94.9 L511.3 95.06 L512 94.45 L512.7 95.08 L513.4 95.47 L514.1 95.05 L514.8 94.88 L515.5 94.85 L516.2 95.37 L516.9 94.5 L517.6 94.76 L518.3 94.95 L519 95.04 L519.7 94.66 L520.4 94.9 L521.1 94.71 L521.8 94.84 L522.5 94.76 L523.2 94.43 L523.9 94.79 L524.6 95.08 L525.3 94.49 L526 94.72 L526.7 95.01 L527.4 94.46 L528.1 94.86 L528.8 94.46 L529.5 95.16 L530.2 95.54 L530.9 95.45 L531.6 94.73 L532.3 95.04 L533 94.84 L533.7 94.83 L534.4 95.3 L535.1 94.38 L535.8 95.14 L536.5 94.78 L537.2 95.25 L537.9 94.86 L538.6 94.58 L539.3 94.89 L540 95.04 L540.7 94.81 L541.4 94.96 L542.1 94.63 L542.8 94.12 L543.5 95.09 L544.2 95.02 L544.9 94.85 L545.6 94.82 L546.3 95.13 L547 94.65 L547.7 94.57 L548.4 94.74 L549.1 95.18 L549.8 94.36 L550.5 95.18 L551.2 94.6 L551.9 94.45 L552.6 95.2 L553.3 94.77 L554 94.38 L554.7 94.69 L555.4 95.1 L556.1 95.18 L556.8 94.66 L557.5 94.93 L558.2 95.03 L558.9 94.59 L559.6 94.91 L560.3 94.79 L560.79 94.63 L560.81 88.44 L561 88.62 L561.05 88.61 L561.29 88.42 L561.31 94.66 L561.7 95.16 L562.4 94.87 L563.1 95.08 L563.8 95.18 L564.5 94.99 L565.2 95.53 L565.9 94.54 L566.6 95.06 L567.3 94.7 L568 95.39 L568.7 95.34 L569.4 94.17 L570.1 94.49 L570.8 95.01 L571.5 95.05 L572.2 95.04 L572.9 94.78 L573.6 94.95 L574.3 95.01 L575 94.78 L575.7 95.13 L576.4 94.08 L577.1 95 L577.8 94.47 L578.5 95.11 L579.2 94.73 L579.9 94.52 L580.6 94.92 L581.3 94.51 L582 94.51 L582.7 94.3 L583.4 94.79 L584.1 94.96 L584.8 95.13 L585.5 94.75 L585.99 95.14 L586.01 88.61 L586.2 88.57 L586.9 88.78 L587.6 88.94 L588.3 88.49 L588.49 88.52 L588.51 91.95 L588.85 92.03 L589 91.71 L589.19 92.33 L589.21 88.47 L589.7 88.75 L590.4 88.34 L591.1 88.71 L591.8 88.73 L592.5 88.47 L593.2 89.25 L593.9 88.72 L594.29 89.17 L594.31 95.11 L594.6 94.59 L595.3 94.68 L596 94.94 L596.7 94.82 L597.4 94.82 L598.1 94.71 L598.8 94.22 L599.5 94.73 L600.2 94.09 L600.9 94.92 L601.6 94.57 L602.3 94.57 L603 94.73 L603.7 94.89 L604.4 94.34 L605.1 94.24" stroke="#0a0a0a" stroke-width="1.25" fill="none" stroke-linejoin="round"/>
<path d="M494.5 108.06 L495.2 107.75 L495.9 108.09 L496.6 108.91 L497.3 108.06 L498 108.61 L498.7 107.96 L499.4 108.5 L500.1 108.3 L500.8 108.38 L501.5 108.58 L502.2 108.96 L502.9 108.46 L503.6 108.44 L504.3 108.09 L505 108.59 L505.7 108.32 L506.4 108.67 L507.1 108.39 L507.8 108.96 L508.5 107.77 L509.2 108.31 L509.9 108.68 L510.6 108.29 L511.3 108.15 L512 108.31 L512.7 107.96 L513.4 108.44 L514.1 109.18 L514.8 108.77 L515.5 108.05 L516.2 108.12 L516.9 108.27 L517.6 108.72 L518.3 108.14 L519 108.18 L519.7 108.68 L520.4 108.68 L521.1 108.28 L521.8 108.04 L522.5 107.9 L523.2 108.18 L523.9 107.69 L524.6 108.64 L525.3 108.2 L526 108.55 L526.7 109 L527.4 108.78 L528.1 108.03 L528.8 108.68 L529.5 108.77 L530.2 108.16 L530.9 108.09 L531.6 108.36 L532.3 107.89 L533 108.87 L533.7 107.63 L534.4 108.05 L535.1 108.31 L535.8 108.33 L536.5 108.45 L537.2 108.49 L537.9 108.33 L538.6 108.76 L539.3 107.72 L540 108.4 L540.7 108.17 L541.4 108.44 L542.1 108.47 L542.8 108.11 L543.5 108.19 L544.2 108.65 L544.9 108.51 L545.6 108.18 L546.3 109.05 L547 109.14 L547.7 107.93 L548.4 108.5 L549.1 109.2 L549.8 108.65 L550.5 108.47 L551.2 108.33 L551.9 108.23 L552.6 108.33 L553.3 108.22 L554 108.64 L554.7 108.27 L555.4 108.26 L556.1 108.02 L556.8 108.38 L557.5 108.11 L558.2 108.34 L558.9 108.73 L559.6 108.52 L560.3 108.56 L561 108.51 L561.7 108.42 L562.4 108.36 L563.1 108.3 L563.8 108.64 L564.5 108.05 L565.2 108.83 L565.9 108.41 L566.6 108.16 L567.3 108.24 L568 108.18 L568.7 108.45 L569.4 108.17 L570.1 108.77 L570.8 108.15 L571.5 107.67 L572.2 108.17 L572.9 107.76 L573.6 108.39 L574.3 108.74 L575 108.61 L575.7 107.97 L576.4 108.16 L576.69 108.97 L576.71 102.3 L577.1 102.2 L577.8 102.54 L578.5 102.98 L579.2 102.61 L579.49 102.24 L579.51 105.11 L579.85 105.2 L579.9 104.8 L580.19 104.66 L580.21 102.22 L580.6 101.9 L581.3 102.18 L582 102.23 L582.7 102.95 L583.4 101.93 L584.1 102.16 L584.8 102.15 L585.5 102.34 L586.2 102.53 L586.29 102.04 L586.31 108.14 L586.9 107.87 L587.6 108.1 L588.3 108.57 L589 108.41 L589.7 108.08 L590.4 108.28 L591.1 108.41 L591.8 108.56 L592.5 108.21 L593.2 108.32 L593.9 107.82 L594.6 108.03 L595.3 108.92 L596 107.7 L596.7 108.29 L597.4 108.47 L598.1 108.28 L598.8 108.14 L599.5 108.38 L600.2 108.4 L600.9 108.37 L601.6 107.8 L602.3 108.35 L603 108.13 L603.7 108.22 L604.4 108.47 L605.1 108.61" stroke="#0a0a0a" stroke-width="1.25" fill="none" stroke-linejoin="round"/>
<line x1="495.7" y1="95.55" x2="605.5" y2="95.55" stroke="#F08C46" stroke-width="0.9" stroke-dasharray="3.7 2.6"/>
<line x1="495.7" y1="109.15" x2="605.5" y2="109.15" stroke="#F08C46" stroke-width="0.9" stroke-dasharray="3.7 2.6"/>
<line x1="495.2" y1="149" x2="605.5" y2="149" stroke="#F08C46" stroke-width="1.3" stroke-dasharray="3.7 2.6"/>
<line x1="495.2" y1="158.75" x2="605.5" y2="158.75" stroke="#F08C46" stroke-width="1.3" stroke-dasharray="3.7 2.6"/>
<line x1="495.2" y1="162.2" x2="605.5" y2="162.2" stroke="#F08C46" stroke-width="1.3" stroke-dasharray="3.7 2.6"/>
<path d="M495.2 155.29 L495.9 154.84 L496.6 155.3 L497.3 155.38 L498 155.36 L498.7 155.44 L499.4 154.95 L500.1 154.94 L500.8 155.26 L501.5 154.56 L502.2 155.07 L502.9 154.83 L503.6 154.88 L504.3 154.44 L505 154.72 L505.7 154.99 L506.4 155.28 L507.1 155.32 L507.8 154.97 L508.5 154.94 L509.2 154.73 L509.9 155.13 L510.6 154.92 L511.3 155.19 L511.49 155.56 L511.51 149.19 L511.75 148.72 L511.99 148.92 L512 148.73 L512.01 154.62 L512.7 155.42 L513.4 155.07 L514.1 154.51 L514.8 155.21 L515.5 155.4 L516.2 154.88 L516.9 154.78 L517.6 154.89 L518.3 155.09 L519 155.2 L519.7 155.38 L520.4 155.39 L521.1 155.38 L521.8 155.44 L522.5 155.21 L523.2 154.51 L523.9 154.96 L524.6 155.1 L525.3 154.88 L526 155.29 L526.7 154.88 L527.4 154.7 L528.1 155.46 L528.8 155.21 L529.5 155.07 L530.2 155.3 L530.9 155.34 L531.6 155.11 L532.3 154.21 L533 154.78 L533.7 154.85 L534.4 154.69 L535.1 155.06 L535.8 155.38 L536.5 154.84 L537.2 154.64 L537.69 155.65 L537.71 149.06 L537.9 148.81 L538.6 149.28 L539.3 149.34 L540 148.97 L540.7 149.45 L541.4 149.04 L542.1 148.9 L542.8 149.26 L542.99 149.45 L543.01 151.3 L543.3 151.61 L543.5 151.47 L543.59 152.4 L543.61 148.97 L544.2 149.64 L544.9 149.18 L545.6 149.16 L546.3 149.43 L547 149.49 L547.7 149.61 L547.74 149.31 L547.76 154.81 L548.4 154.83 L549.1 155.16 L549.8 155.19 L550.5 155.45 L551.2 155.13 L551.9 155.34 L552.6 155.49 L553.3 155.05 L554 154.52 L554.7 154.62 L555.4 154.54 L556.1 155.51 L556.8 154.73 L557.5 155.39 L558.2 155.19 L558.9 155.55 L559.6 155.32 L560.3 154.97 L561 154.94 L561.7 155.03 L562.4 155.06 L563.1 154.83 L563.8 154.99 L564.5 155.51 L565.2 154.46 L565.9 155.08 L566.6 154.71 L567.3 155.06 L568 155.27 L568.7 154.98 L569.4 155.25 L570.1 154.49 L570.8 155.35 L571.5 154.81 L572.2 155.2 L572.9 155.06 L573.6 154.17 L574.3 154.76 L575 155.07 L575.7 155.5 L576.4 155.09 L576.69 155.08 L576.71 148.75 L577.1 149.66 L577.8 149.78 L578.5 149.21 L579.2 149.13 L579.9 148.68 L580.39 149.48 L580.41 155.86 L580.6 155.23 L581.3 155.4 L582 155.17 L582.7 154.68 L583.4 155.43 L584.1 154.6 L584.8 154.93 L585.5 155.09 L586.2 155.28 L586.9 155.13 L587.6 155.12 L588.3 154.76 L589 154.59 L589.7 155.02 L590.4 154.77 L591.1 154.58 L591.8 154.59 L592.5 154.84 L593.2 154.41 L593.9 154.57 L594.6 154.48 L595.3 155.06 L596 155.13 L596.7 155.64 L597.4 154.52 L598.1 154.78 L598.8 155.29 L599.5 154.93 L600.2 154.9 L600.9 155.55 L601.6 154.89 L602.3 154.63 L603 154.58 L603.7 155.11 L604.4 155.1 L605.1 154.56" stroke="#0a0a0a" stroke-width="1.25" fill="none" stroke-linejoin="round"/>
<path d="M495.2 168.18 L495.9 168.67 L496.6 168.68 L497.3 168.29 L498 168.7 L498.7 168.68 L499.4 167.93 L500.1 168.4 L500.8 168.63 L501.5 168.32 L502.2 167.82 L502.9 168.41 L503.6 168.74 L504.3 169.01 L505 167.8 L505.7 169.34 L506.4 168.14 L507.1 168.81 L507.8 168.89 L508.5 168.81 L509.2 168.55 L509.9 168.13 L510.6 168.7 L511.3 168.27 L512 167.69 L512.7 169.41 L513.4 168.73 L514.1 169.08 L514.8 168.21 L515.5 168.97 L516.2 169.01 L516.9 169 L517.6 168.49 L518.3 168.12 L519 168.44 L519.7 167.8 L520.4 167.96 L521.1 168.53 L521.8 168.18 L522.5 168.45 L523.2 168.47 L523.9 169.12 L524.6 168.92 L525.3 168.49 L526 168.89 L526.7 168.25 L527.4 168.39 L528.1 168.79 L528.8 168.1 L529.5 168.41 L530.2 168.08 L530.9 168.54 L531.6 169.02 L532.3 168.26 L533 168.57 L533.7 168.21 L534.4 168.13 L535.1 168.1 L535.8 168.97 L536.5 169.26 L537.2 168.65 L537.9 168.27 L538.6 168.73 L539.3 168.39 L539.99 168.76 L540 162.49 L540.01 162.49 L540.7 162.59 L541.4 162.21 L542.1 162.27 L542.8 161.85 L543.29 162.26 L543.31 168.04 L543.5 168.45 L544.2 168.19 L544.9 168.53 L545.19 168.65 L545.21 157.05 L545.55 157.24 L545.6 157.2 L545.89 157.74 L545.91 169.05 L546.3 168.77 L547 168.39 L547.7 168.97 L548.4 168.02 L548.99 168.98 L549.01 162.19 L549.1 161.51 L549.8 163.25 L550.5 162.9 L551.2 162.07 L551.9 162.45 L552.6 162.33 L552.99 162.43 L553.01 168.03 L553.3 168.28 L554 168.65 L554.7 168.57 L555.4 168.88 L556.1 168.53 L556.8 169.25 L557.5 168.27 L558.19 168.58 L558.2 161.79 L558.21 162 L558.9 162.83 L559.6 162.1 L560.3 162.57 L560.49 162.38 L560.51 168.17 L561 168.39 L561.7 168.34 L562.4 168.34 L563.1 168.74 L563.8 168.71 L564.5 168.32 L565.2 168.21 L565.9 168.59 L566.6 168.47 L567.3 168.83 L568 169.35 L568.7 168.77 L569.4 168.49 L570.1 168.44 L570.8 168.23 L571.5 168.21 L572.2 168.18 L572.9 168.37 L573.6 168.36 L574.3 168.74 L575 168.37 L575.7 168.44 L576.4 168.11 L577.1 169.03 L577.8 168.66 L578.5 169.07 L579.2 168.76 L579.9 168.98 L580.6 168.42 L581.3 168.73 L582 169.37 L582.7 168.11 L583.4 168.88 L584.1 169.04 L584.8 168.63 L585.5 168.74 L586.2 168.91 L586.9 168.29 L587.6 168.63 L588.3 168.22 L589 168.28 L589.7 168.3 L590.4 168.45 L591.1 168.55 L591.8 168.65 L592.5 168.04 L593.2 169.15 L593.9 168.88 L594.6 168.74 L595.3 168.38 L596 168.47 L596.7 168.68 L597.4 168.63 L598.1 167.95 L598.8 168.74 L599.5 169.46 L600.2 167.89 L600.9 168.83 L601.6 168.62 L602.3 168.46 L603 168.95 L603.7 168.11 L604.4 168.55 L605.1 168.98" stroke="#0a0a0a" stroke-width="1.25" fill="none" stroke-linejoin="round"/>
<line x1="496.4" y1="155.75" x2="605.5" y2="155.75" stroke="#F08C46" stroke-width="0.9" stroke-dasharray="3.7 2.6"/>
<line x1="496.4" y1="169.25" x2="605.5" y2="169.25" stroke="#F08C46" stroke-width="0.9" stroke-dasharray="3.7 2.6"/>
<line x1="495.2" y1="208" x2="605" y2="208" stroke="#F08C46" stroke-width="1.3" stroke-dasharray="3.7 2.6"/>
<line x1="495.2" y1="212.5" x2="605" y2="212.5" stroke="#F08C46" stroke-width="1.3" stroke-dasharray="3.7 2.6"/>
<line x1="495.2" y1="223" x2="605" y2="223" stroke="#F08C46" stroke-width="1.3" stroke-dasharray="3.7 2.6"/>
<path d="M495.2 218.74 L495.9 218.66 L496.6 218.84 L497.3 218.65 L498 219.31 L498.7 218.5 L499.4 219.09 L500.1 218.39 L500.8 219.02 L501.5 218.77 L502.2 217.95 L502.9 218.8 L503.6 218.45 L504.3 218.65 L505 219.31 L505.7 218.43 L506.4 218.45 L507.1 219.27 L507.19 218.84 L507.21 213.11 L507.8 212.71 L508.5 212.31 L509.2 212.58 L509.49 213 L509.51 219.11 L509.9 218.8 L510.6 218.82 L511.3 218.76 L512 218.61 L512.49 219.44 L512.51 212.6 L512.7 212.23 L513.4 212.44 L514.1 212.84 L514.8 212.81 L515.49 212.55 L515.5 212.38 L515.51 218.81 L516.2 218.25 L516.9 218.37 L517.6 219.06 L518.3 218.64 L519 218.92 L519.7 219.2 L520.4 219.01 L521.1 218.81 L521.8 219.5 L522.5 219.02 L523.2 218.68 L523.9 219.04 L524.6 218.93 L525.3 218.52 L526 218.82 L526.7 218.75 L527.4 218.15 L528.1 218.74 L528.8 218.71 L529.5 218.66 L530.2 218.26 L530.9 218.68 L531.6 218.79 L532.3 218.83 L533 218.43 L533.7 219.01 L534.4 218.4 L535.1 218.73 L535.8 219.23 L536.5 218.57 L537.2 218.63 L537.9 219.15 L538.6 218.67 L539.3 218.7 L540 218.87 L540.7 219.15 L541.4 218.08 L542.1 218.53 L542.8 218.47 L543.5 218.44 L544.2 218.52 L544.9 218.52 L545.6 218.9 L546.3 218.51 L547 218.84 L547.7 218.93 L548.4 218.56 L549.1 218.84 L549.8 219.34 L550.5 218.91 L551.2 218.59 L551.9 218.78 L552.6 218.5 L553.3 218.89 L554 219.08 L554.7 218.53 L555.4 218.73 L556.1 219.16 L556.8 218.64 L557.5 218.86 L558.2 218.47 L558.9 218.53 L559.6 218.63 L560.3 219.5 L561 218.67 L561.7 218.63 L562.4 218.62 L562.99 218.75 L563.01 212.81 L563.1 212.66 L563.8 213.26 L564.5 212.67 L565.2 213.06 L565.9 212.69 L566.6 212.79 L567.3 212.14 L568 212.56 L568.7 212.58 L569.4 212.52 L570.1 211.91 L570.8 212.88 L571.5 212.48 L571.79 212.46 L571.81 208.12 L572.2 208.13 L572.9 208.33 L573.6 207.79 L574.3 207.9 L575 208.29 L575.7 208.25 L576.4 208.08 L577.1 208.02 L577.8 207.93 L578.5 208.18 L579.2 208.58 L579.9 207.86 L579.99 208.69 L580.01 212.87 L580.6 212.46 L581.3 212.85 L582 212.13 L582.7 212.05 L583.4 212.19 L584.1 212.47 L584.8 212.5 L585.5 212.44 L585.99 212.63 L586.01 218.12 L586.2 218.96 L586.9 218.35 L587.6 218.59 L588.3 218.67 L589 218.43 L589.7 218.36 L590.4 218.48 L591.1 218.8 L591.8 218.99 L592.5 218.98 L593.2 218.48 L593.9 218.55 L594.6 218.51 L595.3 218.94 L596 218.15 L596.7 219.2 L597.4 218.64 L598.1 218.55 L598.8 218.91 L599.5 219.13 L600.2 218.91 L600.9 219.14 L601.6 218.84 L602.3 219.19 L603 219.2 L603.7 218.77 L604.4 219.26" stroke="#0a0a0a" stroke-width="1.25" fill="none" stroke-linejoin="round"/>
<path d="M495.2 228.35 L495.9 228.33 L496.6 228.01 L497.3 228.21 L498 228.55 L498.7 227.88 L499.4 228.51 L500.1 228.41 L500.8 228.39 L501.5 227.59 L502.2 228.27 L502.9 228.51 L503.6 228.06 L504.3 228.33 L505 227.54 L505.7 228.51 L506.4 228.09 L507.1 228.58 L507.8 227.71 L508.5 228.52 L509.2 228.22 L509.9 228.56 L510.6 228 L511.3 228.1 L512 229.02 L512.7 228.03 L513.4 228.07 L514.1 228.21 L514.8 227.97 L515.5 228.68 L516.2 228.85 L516.9 228.07 L517.6 227.75 L518.3 228.68 L519 228.65 L519.19 228.56 L519.21 223.37 L519.7 222.72 L520.4 222.95 L521.1 222.56 L521.8 222.55 L522.5 223.31 L523.2 222.78 L523.9 223.73 L524.6 223.02 L525.3 222.8 L526 223.26 L526.7 223.58 L527.4 223.16 L528.1 222.61 L528.8 223.12 L529.5 223.44 L530.2 222.84 L530.9 222.75 L531.6 223.33 L532.3 223.04 L533 222.65 L533.49 222.88 L533.51 228.06 L533.7 228.39 L534.4 228.34 L534.99 228.67 L535.01 223.23 L535.1 222.5 L535.8 223.13 L536.5 223.29 L537.2 223.15 L537.49 223.33 L537.51 228.12 L537.9 228 L538.19 228.6 L538.21 222.66 L538.6 222.31 L539.3 223.33 L540 222.77 L540.29 222.9 L540.31 227.85 L540.7 227.88 L541.4 227.93 L542.1 228.18 L542.8 228.42 L543.5 227.56 L544.2 228.54 L544.9 227.92 L545.6 227.96 L546.3 228.52 L547 228.28 L547.7 227.81 L548.4 228.89 L549.1 228.02 L549.8 228.38 L550.5 228.36 L551.2 228.75 L551.9 228.15 L552.6 228.62 L553.3 228.06 L554 228.66 L554.7 228.06 L555.4 228.18 L556.1 228.91 L556.8 228.4 L557.5 228.34 L558.2 229.02 L558.9 228.42 L559.6 228.04 L560.3 228.54 L561 227.92 L561.7 228.66 L562.4 228.69 L563.1 228.12 L563.8 228.1 L564.5 228.36 L565.2 228.3 L565.9 227.99 L566.6 228.48 L567.3 227.65 L568 228.16 L568.7 228.17 L569.4 228.21 L570.1 228.4 L570.8 227.91 L571.5 228.49 L572.2 228.24 L572.9 228.09 L573.6 227.86 L574.3 227.92 L575 228.42 L575.7 227.99 L576.4 228.32 L577.1 228.64 L577.8 228.63 L578.5 228.8 L579.2 228.21 L579.9 227.95 L580.6 228.63 L581.3 228.4 L582 228.66 L582.7 228.3 L583.4 228.68 L584.1 228.57 L584.8 228.53 L585.5 228.46 L586.2 228.43 L586.9 228.37 L587.6 228.37 L588.3 228.62 L589 228.14 L589.7 228.86 L590.4 228.27 L591.1 228.62 L591.8 228.27 L592.5 228.22 L593.2 228.95 L593.9 228.2 L594.6 227.89 L595.3 228.07 L596 228.2 L596.7 228.99 L597.4 228.37 L598.1 228.6 L598.8 227.98 L599.5 228.41 L600.2 228.51 L600.9 228.88 L601.6 228.08 L602.3 228.49 L603 228.4 L603.7 227.97 L604.4 228.29" stroke="#0a0a0a" stroke-width="1.25" fill="none" stroke-linejoin="round"/>
<line x1="496.4" y1="219.55" x2="605" y2="219.55" stroke="#F08C46" stroke-width="0.9" stroke-dasharray="3.7 2.6"/>
<line x1="496.4" y1="229.05" x2="605" y2="229.05" stroke="#F08C46" stroke-width="0.9" stroke-dasharray="3.7 2.6"/>
<text class="b" transform="translate(650.3 243.39) rotate(-90)" x="0" y="0" font-family='"Liberation Serif", serif' font-size="17.4" font-weight="bold" fill="#000" textLength="76.63" lengthAdjust="spacingAndGlyphs">Counts (×</text>
<text class="b" transform="translate(650.3 155.21) rotate(-90)" x="0" y="0" font-family='"Liberation Serif", serif' font-size="17.4" font-weight="bold" fill="#000" textLength="41.19" lengthAdjust="spacingAndGlyphs">1000)</text>
<text class="b" x="675.23" y="272.3" font-family='"Liberation Serif", serif' font-size="17.8" font-weight="bold" font-style="normal" fill="#000" textLength="101.96" lengthAdjust="spacingAndGlyphs">Current (pA)</text>
<line x1="674.5" y1="55.5" x2="674.5" y2="108.15" stroke="#555" stroke-width="1.3"/>
<line x1="673.85" y1="107.5" x2="780.3" y2="107.5" stroke="#555" stroke-width="1.3"/>
<line x1="672.7" y1="55.5" x2="674.5" y2="55.5" stroke="#555" stroke-width="0.8"/>
<text x="661.76" y="58.92" font-family='"Liberation Sans", sans-serif' font-size="9.8" font-weight="normal" font-style="normal" fill="#1a1a1a" textLength="11.34" lengthAdjust="spacingAndGlyphs">20</text>
<line x1="672.7" y1="81.5" x2="674.5" y2="81.5" stroke="#555" stroke-width="0.8"/>
<text x="661.76" y="84.92" font-family='"Liberation Sans", sans-serif' font-size="9.8" font-weight="normal" font-style="normal" fill="#1a1a1a" textLength="11.34" lengthAdjust="spacingAndGlyphs">10</text>
<line x1="672.7" y1="107.5" x2="674.5" y2="107.5" stroke="#555" stroke-width="0.8"/>
<text x="667.43" y="110.92" font-family='"Liberation Sans", sans-serif' font-size="9.8" font-weight="normal" font-style="normal" fill="#1a1a1a" textLength="5.67" lengthAdjust="spacingAndGlyphs">0</text>
<line x1="685.6" y1="107.5" x2="685.6" y2="109.3" stroke="#555" stroke-width="0.8"/>
<line x1="709.2" y1="107.5" x2="709.2" y2="109.3" stroke="#555" stroke-width="0.8"/>
<line x1="732.8" y1="107.5" x2="732.8" y2="109.3" stroke="#555" stroke-width="0.8"/>
<line x1="756.4" y1="107.5" x2="756.4" y2="109.3" stroke="#555" stroke-width="0.8"/>
<line x1="780" y1="107.5" x2="780" y2="109.3" stroke="#555" stroke-width="0.8"/>
<path d="M675.45 103.52 L675.62 103.18 L675.78 102.82 L675.95 102.43 L676.11 102.02 L676.28 101.58 L676.44 101.11 L676.6 100.62 L676.77 100.1 L676.93 99.55 L677.1 98.97 L677.26 98.36 L677.43 97.72 L677.59 97.05 L677.76 96.35 L677.92 95.62 L678.09 94.86 L678.25 94.06 L678.41 93.24 L678.58 92.39 L678.74 91.5 L678.91 90.59 L679.07 89.65 L679.24 88.69 L679.4 87.69 L679.57 86.68 L679.73 85.64 L679.9 84.58 L680.06 83.5 L680.23 82.4 L680.39 81.29 L680.55 80.16 L680.72 79.03 L680.88 77.89 L681.05 76.75 L681.21 75.6 L681.38 74.45 L681.54 73.32 L681.71 72.18 L681.87 71.07 L682.04 69.96 L682.2 68.88 L682.37 67.81 L682.53 66.78 L682.69 65.77 L682.86 64.79 L683.02 63.85 L683.19 62.95 L683.35 62.09 L683.52 61.28 L683.68 60.52 L683.85 59.81 L684.01 59.15 L684.18 58.55 L684.34 58.01 L684.51 57.53 L684.67 57.12 L684.83 56.76 L685 56.48 L685.16 56.26 L685.33 56.11 L685.49 56.03 L685.66 56.02 L685.82 56.08 L685.99 56.21 L686.15 56.41 L686.32 56.67 L686.48 57 L686.65 57.4 L686.81 57.86 L686.97 58.38 L687.14 58.96 L687.3 59.6 L687.47 60.3 L687.63 61.05 L687.8 61.84 L687.96 62.69 L688.13 63.58 L688.29 64.5 L688.46 65.47 L688.62 66.47 L688.79 67.5 L688.95 68.55 L689.11 69.63 L689.28 70.73 L689.44 71.85 L689.61 72.97 L689.77 74.11 L689.94 75.25 L690.1 76.4 L690.27 77.55 L690.43 78.69 L690.6 79.82 L690.76 80.95 L690.92 82.07 L691.09 83.17 L691.25 84.25 L691.42 85.32 L691.58 86.37 L691.75 87.39 L691.91 88.39 L692.08 89.36 L692.24 90.31 L692.41 91.23 L692.57 92.12 L692.74 92.99 L692.9 93.82 L693.06 94.62 L693.23 95.39 L693.39 96.13 L693.56 96.84 L693.72 97.52 L693.89 98.17 L694.05 98.79 L694.22 99.38 L694.38 99.94 L694.55 100.46 L694.71 100.97 L694.88 101.44 L695.04 101.89" stroke="#b0b0b0" stroke-width="0.9" fill="none"/>
<path d="M676.63 107.5 L676.63 106.85 L677.81 106.85 L677.81 105.6 L678.99 105.6 L678.99 101.99 L680.17 101.99 L680.17 95.28 L681.35 95.28 L681.35 85.33 L682.53 85.33 L682.53 73.63 L683.71 73.63 L683.71 58.85 L684.89 58.85 L684.89 55.39 L686.07 55.39 L686.07 55.9 L687.25 55.9 L687.25 60.88 L688.43 60.88 L688.43 71.23 L689.61 71.23 L689.61 78.81 L690.79 78.81 L690.79 88.01 L691.97 88.01 L691.97 94.82 L693.15 94.82 L693.15 99.94 L694.33 99.94 L694.33 103.33 L695.51 103.33 L695.51 105.31 L696.69 105.31 L696.69 106.51 L697.87 106.51 L697.87 107.07 L699.05 107.07 L699.05 107.33 L700.23 107.33 L700.23 107.44 L701.41 107.44 L701.41 107.48 L702.59 107.48 L702.59 107.5 Z" fill="#ef4848" fill-opacity="1" stroke="none"/>
<line x1="676.63" y1="107.5" x2="676.63" y2="106.85" stroke="#f77" stroke-width="0.35"/>
<line x1="677.81" y1="107.5" x2="677.81" y2="105.6" stroke="#f77" stroke-width="0.35"/>
<line x1="678.99" y1="107.5" x2="678.99" y2="101.99" stroke="#f77" stroke-width="0.35"/>
<line x1="680.17" y1="107.5" x2="680.17" y2="95.28" stroke="#f77" stroke-width="0.35"/>
<line x1="681.35" y1="107.5" x2="681.35" y2="85.33" stroke="#f77" stroke-width="0.35"/>
<line x1="682.53" y1="107.5" x2="682.53" y2="73.63" stroke="#f77" stroke-width="0.35"/>
<line x1="683.71" y1="107.5" x2="683.71" y2="58.85" stroke="#f77" stroke-width="0.35"/>
<line x1="684.89" y1="107.5" x2="684.89" y2="55.39" stroke="#f77" stroke-width="0.35"/>
<line x1="686.07" y1="107.5" x2="686.07" y2="55.9" stroke="#f77" stroke-width="0.35"/>
<line x1="687.25" y1="107.5" x2="687.25" y2="60.88" stroke="#f77" stroke-width="0.35"/>
<line x1="688.43" y1="107.5" x2="688.43" y2="71.23" stroke="#f77" stroke-width="0.35"/>
<line x1="689.61" y1="107.5" x2="689.61" y2="78.81" stroke="#f77" stroke-width="0.35"/>
<line x1="690.79" y1="107.5" x2="690.79" y2="88.01" stroke="#f77" stroke-width="0.35"/>
<line x1="691.97" y1="107.5" x2="691.97" y2="94.82" stroke="#f77" stroke-width="0.35"/>
<line x1="693.15" y1="107.5" x2="693.15" y2="99.94" stroke="#f77" stroke-width="0.35"/>
<line x1="694.33" y1="107.5" x2="694.33" y2="103.33" stroke="#f77" stroke-width="0.35"/>
<line x1="695.51" y1="107.5" x2="695.51" y2="105.31" stroke="#f77" stroke-width="0.35"/>
<line x1="696.69" y1="107.5" x2="696.69" y2="106.51" stroke="#f77" stroke-width="0.35"/>
<line x1="697.87" y1="107.5" x2="697.87" y2="107.07" stroke="#f77" stroke-width="0.35"/>
<line x1="699.05" y1="107.5" x2="699.05" y2="107.33" stroke="#f77" stroke-width="0.35"/>
<line x1="700.23" y1="107.5" x2="700.23" y2="107.44" stroke="#f77" stroke-width="0.35"/>
<line x1="701.41" y1="107.5" x2="701.41" y2="107.48" stroke="#f77" stroke-width="0.35"/>
<path d="M702.12 107.5 L702.12 107.32 L703.3 107.32 L703.3 107.29 L704.48 107.29 L704.48 107.32 L705.66 107.32 L705.66 107.29 L706.84 107.29 L706.84 107.31 L708.02 107.31 L708.02 107.11 L709.2 107.11 L709.2 107.14 L710.38 107.14 L710.38 107.18 L711.56 107.18 L711.56 107.19 L712.74 107.19 L712.74 106.92 L713.92 106.92 L713.92 107.07 L715.1 107.07 L715.1 107.07 L716.28 107.07 L716.28 106.95 L717.46 106.95 L717.46 106.88 L718.64 106.88 L718.64 106.6 L719.82 106.6 L719.82 106.81 L721 106.81 L721 106.27 L722.18 106.27 L722.18 106.91 L723.36 106.91 L723.36 106.49 L724.54 106.49 L724.54 106.9 L725.72 106.9 L725.72 106.18 L726.9 106.18 L726.9 106.75 L728.08 106.75 L728.08 106.71 L729.26 106.71 L729.26 106.53 L730.44 106.53 L730.44 106.54 L731.62 106.54 L731.62 107.08 L732.8 107.08 L732.8 106.99 L733.98 106.99 L733.98 107.21 L735.16 107.21 L735.16 107.04 L736.34 107.04 L736.34 107.12 L737.52 107.12 L737.52 107.19 L738.7 107.19 L738.7 107.25 L739.88 107.25 L739.88 107.25 L741.06 107.25 L741.06 107.3 L742.24 107.3 L742.24 107.5 Z" fill="#ef4848" fill-opacity="1" stroke="none"/>
<path d="M685.6 56.02 L685.74 56.05 L685.89 56.14 L686.03 56.28 L686.17 56.48 L686.31 56.74 L686.46 57.06 L686.6 57.43 L686.74 57.85 L686.89 58.32 L687.03 58.85 L687.17 59.42 L687.31 60.04 L687.46 60.71 L687.6 61.42 L687.74 62.16 L687.88 62.95 L688.03 63.77 L688.17 64.63 L688.31 65.52 L688.46 66.43 L688.6 67.37 L688.74 68.34 L688.88 69.32 L689.03 70.32 L689.17 71.33 L689.31 72.36 L689.46 73.4 L689.6 74.44 L689.74 75.49 L689.88 76.54 L690.03 77.59 L690.17 78.63 L690.31 79.67 L690.45 80.71 L690.6 81.73 L690.74 82.74 L690.88 83.74 L691.03 84.73 L691.17 85.7 L691.31 86.65 L691.45 87.58 L691.6 88.5 L691.74 89.39 L691.88 90.26 L692.03 91.1 L692.17 91.92 L692.31 92.72 L692.45 93.49 L692.6 94.24 L692.74 94.96 L692.88 95.66 L693.03 96.33 L693.17 96.97 L693.31 97.59 L693.45 98.18 L693.6 98.75 L693.74 99.29 L693.88 99.8 L694.02 100.3 L694.17 100.76 L694.31 101.21 L694.45 101.63 L694.6 102.03 L694.74 102.41 L694.88 102.77 L695.02 103.11 L695.17 103.42 L695.31 103.72 L695.45 104 L695.6 104.27 L695.74 104.52 L695.88 104.75 L696.02 104.96 L696.17 105.17 L696.31 105.35 L696.45 105.53 L696.59 105.69 L696.74 105.84 L696.88 105.98 L697.02 106.12 L697.17 106.24 L697.31 106.35 L697.45 106.45 L697.59 106.54 L697.74 106.63 L697.88 106.71 L698.02 106.78 L698.17 106.85 L698.31 106.91 L698.45 106.97 L698.59 107.02 L698.74 107.07 L698.88 107.11 L699.02 107.15 L699.17 107.19 L699.31 107.22 L699.45 107.25 L699.59 107.27 L699.74 107.3 L699.88 107.32 L700.02 107.34 L700.16 107.36 L700.31 107.37 L700.45 107.39 L700.59 107.4 L700.74 107.41 L700.88 107.42 L701.02 107.43 L701.16 107.44 L701.31 107.44 L701.45 107.45 L701.59 107.46 L701.74 107.46 L701.88 107.47 L702.02 107.47 L702.16 107.47 L702.31 107.48 L702.45 107.48 L702.59 107.48" stroke="#4a1818" stroke-width="0.9" fill="none"/>
<path d="M702.59 107.5 L702.93 107.5 L703.26 107.5 L703.59 107.49 L703.92 107.49 L704.26 107.49 L704.59 107.49 L704.92 107.49 L705.26 107.49 L705.59 107.49 L705.92 107.49 L706.26 107.48 L706.59 107.48 L706.92 107.48 L707.26 107.48 L707.59 107.47 L707.92 107.47 L708.26 107.47 L708.59 107.46 L708.92 107.46 L709.26 107.45 L709.59 107.45 L709.92 107.44 L710.26 107.43 L710.59 107.43 L710.92 107.42 L711.25 107.41 L711.59 107.4 L711.92 107.39 L712.25 107.38 L712.59 107.37 L712.92 107.36 L713.25 107.35 L713.59 107.33 L713.92 107.32 L714.25 107.3 L714.59 107.29 L714.92 107.27 L715.25 107.26 L715.59 107.24 L715.92 107.22 L716.25 107.2 L716.59 107.18 L716.92 107.16 L717.25 107.14 L717.58 107.12 L717.92 107.1 L718.25 107.08 L718.58 107.06 L718.92 107.04 L719.25 107.02 L719.58 107 L719.92 106.98 L720.25 106.96 L720.58 106.94 L720.92 106.92 L721.25 106.9 L721.58 106.89 L721.92 106.87 L722.25 106.85 L722.58 106.84 L722.92 106.83 L723.25 106.82 L723.58 106.8 L723.92 106.8 L724.25 106.79 L724.58 106.78 L724.91 106.78 L725.25 106.77 L725.58 106.77 L725.91 106.77 L726.25 106.77 L726.58 106.78 L726.91 106.78 L727.25 106.79 L727.58 106.8 L727.91 106.81 L728.25 106.82 L728.58 106.83 L728.91 106.84 L729.25 106.86 L729.58 106.87 L729.91 106.89 L730.25 106.91 L730.58 106.92 L730.91 106.94 L731.25 106.96 L731.58 106.98 L731.91 107 L732.24 107.02 L732.58 107.04 L732.91 107.07 L733.24 107.09 L733.58 107.11 L733.91 107.13 L734.24 107.15 L734.58 107.17 L734.91 107.19 L735.24 107.21 L735.58 107.22 L735.91 107.24 L736.24 107.26 L736.58 107.28 L736.91 107.29 L737.24 107.31 L737.58 107.32 L737.91 107.33 L738.24 107.35 L738.58 107.36 L738.91 107.37 L739.24 107.38 L739.57 107.39 L739.91 107.4 L740.24 107.41 L740.57 107.42 L740.91 107.43 L741.24 107.43 L741.57 107.44 L741.91 107.45 L742.24 107.45" stroke="#8a2a2a" stroke-width="0.8" fill="none"/>
<line x1="716.15" y1="59.9" x2="716.15" y2="83.6" stroke="#999" stroke-width="0.9"/>
<line x1="715.7" y1="83.15" x2="764.6" y2="83.15" stroke="#999" stroke-width="0.9"/>
<line x1="714.95" y1="65.09" x2="716.15" y2="65.09" stroke="#999" stroke-width="0.8"/>
<text x="704.16" y="67.36" font-family='"Liberation Sans", sans-serif' font-size="6.5" font-weight="normal" font-style="normal" fill="#444">400</text>
<line x1="714.95" y1="74.12" x2="716.15" y2="74.12" stroke="#999" stroke-width="0.8"/>
<text x="704.16" y="76.39" font-family='"Liberation Sans", sans-serif' font-size="6.5" font-weight="normal" font-style="normal" fill="#444">200</text>
<line x1="714.95" y1="83.15" x2="716.15" y2="83.15" stroke="#999" stroke-width="0.8"/>
<text x="711.39" y="85.42" font-family='"Liberation Sans", sans-serif' font-size="6.5" font-weight="normal" font-style="normal" fill="#444">0</text>
<line x1="716.15" y1="83.15" x2="716.15" y2="84.35" stroke="#999" stroke-width="0.8"/>
<line x1="732.29" y1="83.15" x2="732.29" y2="84.35" stroke="#999" stroke-width="0.8"/>
<line x1="748.43" y1="83.15" x2="748.43" y2="84.35" stroke="#999" stroke-width="0.8"/>
<line x1="764.57" y1="83.15" x2="764.57" y2="84.35" stroke="#999" stroke-width="0.8"/>
<text x="714.29" y="90" font-family='"Liberation Sans", sans-serif' font-size="6.6" font-weight="normal" font-style="normal" fill="#444">6</text>
<text x="730.45" y="90" font-family='"Liberation Sans", sans-serif' font-size="6.6" font-weight="normal" font-style="normal" fill="#444">8</text>
<text x="744.64" y="90" font-family='"Liberation Sans", sans-serif' font-size="6.6" font-weight="normal" font-style="normal" fill="#444">10</text>
<text x="760.81" y="90" font-family='"Liberation Sans", sans-serif' font-size="6.6" font-weight="normal" font-style="normal" fill="#444">12</text>
<path d="M716.15 83.15 L716.15 76.76 L717.93 76.76 L717.93 76.4 L719.7 76.4 L719.7 78.15 L721.48 78.15 L721.48 77.56 L723.25 77.56 L723.25 77.23 L725.03 77.23 L725.03 76.31 L726.8 76.31 L726.8 76.35 L728.58 76.35 L728.58 75.33 L730.35 75.33 L730.35 74.92 L732.13 74.92 L732.13 72.82 L733.9 72.82 L733.9 71.82 L735.68 71.82 L735.68 70.61 L737.45 70.61 L737.45 68.94 L739.23 68.94 L739.23 68.63 L741.01 68.63 L741.01 69.54 L742.78 69.54 L742.78 68 L744.56 68 L744.56 69.31 L746.33 69.31 L746.33 71.19 L748.11 71.19 L748.11 72.34 L749.88 72.34 L749.88 74.32 L751.66 74.32 L751.66 77.25 L753.43 77.25 L753.43 78.74 L755.21 78.74 L755.21 79.63 L756.98 79.63 L756.98 80.83 L758.76 80.83 L758.76 83.15 Z" fill="#f4b8b8" fill-opacity="1" stroke="none"/>
<line x1="716.15" y1="83.15" x2="716.15" y2="76.76" stroke="#fff4f4" stroke-width="0.55"/>
<line x1="717.93" y1="83.15" x2="717.93" y2="76.4" stroke="#fff4f4" stroke-width="0.55"/>
<line x1="719.7" y1="83.15" x2="719.7" y2="78.15" stroke="#fff4f4" stroke-width="0.55"/>
<line x1="721.48" y1="83.15" x2="721.48" y2="77.56" stroke="#fff4f4" stroke-width="0.55"/>
<line x1="723.25" y1="83.15" x2="723.25" y2="77.23" stroke="#fff4f4" stroke-width="0.55"/>
<line x1="725.03" y1="83.15" x2="725.03" y2="76.31" stroke="#fff4f4" stroke-width="0.55"/>
<line x1="726.8" y1="83.15" x2="726.8" y2="76.35" stroke="#fff4f4" stroke-width="0.55"/>
<line x1="728.58" y1="83.15" x2="728.58" y2="75.33" stroke="#fff4f4" stroke-width="0.55"/>
<line x1="730.35" y1="83.15" x2="730.35" y2="74.92" stroke="#fff4f4" stroke-width="0.55"/>
<line x1="732.13" y1="83.15" x2="732.13" y2="72.82" stroke="#fff4f4" stroke-width="0.55"/>
<line x1="733.9" y1="83.15" x2="733.9" y2="71.82" stroke="#fff4f4" stroke-width="0.55"/>
<line x1="735.68" y1="83.15" x2="735.68" y2="70.61" stroke="#fff4f4" stroke-width="0.55"/>
<line x1="737.45" y1="83.15" x2="737.45" y2="68.94" stroke="#fff4f4" stroke-width="0.55"/>
<line x1="739.23" y1="83.15" x2="739.23" y2="68.63" stroke="#fff4f4" stroke-width="0.55"/>
<line x1="741.01" y1="83.15" x2="741.01" y2="69.54" stroke="#fff4f4" stroke-width="0.55"/>
<line x1="742.78" y1="83.15" x2="742.78" y2="68" stroke="#fff4f4" stroke-width="0.55"/>
<line x1="744.56" y1="83.15" x2="744.56" y2="69.31" stroke="#fff4f4" stroke-width="0.55"/>
<line x1="746.33" y1="83.15" x2="746.33" y2="71.19" stroke="#fff4f4" stroke-width="0.55"/>
<line x1="748.11" y1="83.15" x2="748.11" y2="72.34" stroke="#fff4f4" stroke-width="0.55"/>
<line x1="749.88" y1="83.15" x2="749.88" y2="74.32" stroke="#fff4f4" stroke-width="0.55"/>
<line x1="751.66" y1="83.15" x2="751.66" y2="77.25" stroke="#fff4f4" stroke-width="0.55"/>
<line x1="753.43" y1="83.15" x2="753.43" y2="78.74" stroke="#fff4f4" stroke-width="0.55"/>
<line x1="755.21" y1="83.15" x2="755.21" y2="79.63" stroke="#fff4f4" stroke-width="0.55"/>
<line x1="756.98" y1="83.15" x2="756.98" y2="80.83" stroke="#fff4f4" stroke-width="0.55"/>
<path d="M716.15 82.95 L716.53 82.93 L716.91 82.9 L717.29 82.86 L717.67 82.83 L718.05 82.79 L718.43 82.74 L718.81 82.69 L719.19 82.64 L719.57 82.58 L719.95 82.51 L720.33 82.44 L720.71 82.36 L721.09 82.27 L721.47 82.18 L721.85 82.08 L722.23 81.97 L722.61 81.85 L722.99 81.72 L723.37 81.58 L723.75 81.43 L724.13 81.27 L724.5 81.1 L724.88 80.92 L725.26 80.72 L725.64 80.51 L726.02 80.3 L726.4 80.06 L726.78 79.82 L727.16 79.56 L727.54 79.3 L727.92 79.01 L728.3 78.72 L728.68 78.41 L729.06 78.09 L729.44 77.76 L729.82 77.42 L730.2 77.07 L730.58 76.71 L730.96 76.34 L731.34 75.96 L731.72 75.57 L732.1 75.18 L732.48 74.78 L732.86 74.38 L733.24 73.98 L733.62 73.58 L734 73.17 L734.38 72.77 L734.76 72.37 L735.14 71.98 L735.52 71.59 L735.9 71.22 L736.28 70.85 L736.66 70.49 L737.04 70.15 L737.42 69.83 L737.8 69.52 L738.18 69.22 L738.56 68.95 L738.94 68.7 L739.32 68.47 L739.7 68.27 L740.08 68.09 L740.45 67.94 L740.83 67.81 L741.21 67.71 L741.59 67.64 L741.97 67.59 L742.35 67.57 L742.73 67.59 L743.11 67.63 L743.49 67.7 L743.87 67.79 L744.25 67.92 L744.63 68.07 L745.01 68.25 L745.39 68.45 L745.77 68.67 L746.15 68.92 L746.53 69.19 L746.91 69.48 L747.29 69.79 L747.67 70.11 L748.05 70.45 L748.43 70.81 L748.81 71.17 L749.19 71.55 L749.57 71.93 L749.95 72.32 L750.33 72.72 L750.71 73.12 L751.09 73.53 L751.47 73.93 L751.85 74.33 L752.23 74.73 L752.61 75.13 L752.99 75.52 L753.37 75.91 L753.75 76.29 L754.13 76.66 L754.51 77.03 L754.89 77.38 L755.27 77.72 L755.65 78.05 L756.03 78.37 L756.41 78.68 L756.78 78.98 L757.16 79.26 L757.54 79.53 L757.92 79.79 L758.3 80.03 L758.68 80.27 L759.06 80.49 L759.44 80.7 L759.82 80.89 L760.2 81.08 L760.58 81.25 L760.96 81.41 L761.34 81.56" stroke="#9a9a9a" stroke-width="0.8" fill="none"/>
<path d="M722.61 81.91 L722.91 81.81 L723.22 81.7 L723.52 81.59 L723.83 81.46 L724.13 81.33 L724.44 81.19 L724.74 81.05 L725.05 80.89 L725.35 80.73 L725.66 80.56 L725.96 80.38 L726.27 80.19 L726.57 79.99 L726.88 79.79 L727.18 79.57 L727.49 79.35 L727.79 79.12 L728.1 78.88 L728.4 78.63 L728.71 78.37 L729.01 78.1 L729.32 77.83 L729.62 77.55 L729.93 77.26 L730.24 76.97 L730.54 76.67 L730.85 76.36 L731.15 76.05 L731.46 75.73 L731.76 75.41 L732.07 75.09 L732.37 74.76 L732.68 74.43 L732.98 74.1 L733.29 73.77 L733.59 73.44 L733.9 73.11 L734.2 72.79 L734.51 72.46 L734.81 72.15 L735.12 71.83 L735.42 71.53 L735.73 71.23 L736.03 70.93 L736.34 70.65 L736.64 70.38 L736.95 70.12 L737.25 69.87 L737.56 69.63 L737.86 69.41 L738.17 69.2 L738.47 69 L738.78 68.82 L739.09 68.66 L739.39 68.52 L739.7 68.39 L740 68.28 L740.31 68.19 L740.61 68.12 L740.92 68.07 L741.22 68.04 L741.53 68.03 L741.83 68.03 L742.14 68.06 L742.44 68.11 L742.75 68.19 L743.05 68.28 L743.36 68.39 L743.66 68.53 L743.97 68.68 L744.27 68.85 L744.58 69.04 L744.88 69.25 L745.19 69.47 L745.49 69.71 L745.8 69.97 L746.1 70.23 L746.41 70.51 L746.71 70.81 L747.02 71.11 L747.32 71.42 L747.63 71.74 L747.93 72.07 L748.24 72.4 L748.55 72.74 L748.85 73.08 L749.16 73.43 L749.46 73.77 L749.77 74.12 L750.07 74.47 L750.38 74.81 L750.68 75.15 L750.99 75.49 L751.29 75.83 L751.6 76.16 L751.9 76.49 L752.21 76.81 L752.51 77.12 L752.82 77.42 L753.12 77.72 L753.43 78.01 L753.73 78.29 L754.04 78.56 L754.34 78.83 L754.65 79.08 L754.95 79.33 L755.26 79.56 L755.56 79.79 L755.87 80 L756.17 80.21 L756.48 80.41 L756.78 80.59 L757.09 80.77 L757.4 80.94 L757.7 81.1 L758.01 81.25 L758.31 81.39 L758.62 81.52 L758.92 81.65" stroke="#c07070" stroke-width="0.7" fill="none"/>
<line x1="715.1" y1="93.1" x2="723.15" y2="106.6" stroke="#2659d4" stroke-width="1.9" stroke-dasharray="4.2 2.6"/>
<line x1="739.25" y1="105.4" x2="756.75" y2="94.9" stroke="#2659d4" stroke-width="1.9" stroke-dasharray="4.2 2.6"/>
<line x1="674.6" y1="121.2" x2="674.6" y2="173.65" stroke="#555" stroke-width="1.3"/>
<line x1="673.95" y1="173" x2="780.3" y2="173" stroke="#555" stroke-width="1.3"/>
<line x1="672.8" y1="121.2" x2="674.6" y2="121.2" stroke="#555" stroke-width="0.8"/>
<text x="661.86" y="124.62" font-family='"Liberation Sans", sans-serif' font-size="9.8" font-weight="normal" font-style="normal" fill="#1a1a1a" textLength="11.34" lengthAdjust="spacingAndGlyphs">20</text>
<line x1="672.8" y1="147.1" x2="674.6" y2="147.1" stroke="#555" stroke-width="0.8"/>
<text x="661.86" y="150.52" font-family='"Liberation Sans", sans-serif' font-size="9.8" font-weight="normal" font-style="normal" fill="#1a1a1a" textLength="11.34" lengthAdjust="spacingAndGlyphs">10</text>
<line x1="672.8" y1="173" x2="674.6" y2="173" stroke="#555" stroke-width="0.8"/>
<text x="667.53" y="176.42" font-family='"Liberation Sans", sans-serif' font-size="9.8" font-weight="normal" font-style="normal" fill="#1a1a1a" textLength="5.67" lengthAdjust="spacingAndGlyphs">0</text>
<line x1="685.3" y1="173" x2="685.3" y2="174.8" stroke="#555" stroke-width="0.8"/>
<line x1="708.9" y1="173" x2="708.9" y2="174.8" stroke="#555" stroke-width="0.8"/>
<line x1="732.5" y1="173" x2="732.5" y2="174.8" stroke="#555" stroke-width="0.8"/>
<line x1="756.1" y1="173" x2="756.1" y2="174.8" stroke="#555" stroke-width="0.8"/>
<line x1="779.7" y1="173" x2="779.7" y2="174.8" stroke="#555" stroke-width="0.8"/>
<path d="M675.15 170.23 L675.32 169.94 L675.48 169.64 L675.65 169.3 L675.81 168.94 L675.98 168.55 L676.14 168.13 L676.3 167.69 L676.47 167.21 L676.63 166.7 L676.8 166.15 L676.96 165.57 L677.13 164.95 L677.29 164.3 L677.46 163.61 L677.62 162.89 L677.79 162.12 L677.95 161.32 L678.11 160.48 L678.28 159.6 L678.44 158.69 L678.61 157.73 L678.77 156.74 L678.94 155.72 L679.1 154.66 L679.27 153.57 L679.43 152.45 L679.6 151.31 L679.76 150.13 L679.93 148.94 L680.09 147.72 L680.25 146.49 L680.42 145.24 L680.58 143.99 L680.75 142.73 L680.91 141.46 L681.08 140.2 L681.24 138.95 L681.41 137.71 L681.57 136.48 L681.74 135.28 L681.9 134.1 L682.07 132.95 L682.23 131.84 L682.39 130.76 L682.56 129.74 L682.72 128.76 L682.89 127.83 L683.05 126.97 L683.22 126.16 L683.38 125.43 L683.55 124.76 L683.71 124.16 L683.88 123.65 L684.04 123.2 L684.21 122.84 L684.37 122.57 L684.53 122.37 L684.7 122.26 L684.86 122.24 L685.03 122.3 L685.19 122.45 L685.36 122.68 L685.52 122.99 L685.69 123.39 L685.85 123.86 L686.02 124.41 L686.18 125.04 L686.35 125.74 L686.51 126.51 L686.67 127.34 L686.84 128.23 L687 129.18 L687.17 130.18 L687.33 131.22 L687.5 132.32 L687.66 133.44 L687.83 134.61 L687.99 135.8 L688.16 137.01 L688.32 138.25 L688.49 139.49 L688.65 140.75 L688.81 142.01 L688.98 143.28 L689.14 144.53 L689.31 145.79 L689.47 147.03 L689.64 148.25 L689.8 149.46 L689.97 150.65 L690.13 151.81 L690.3 152.94 L690.46 154.05 L690.62 155.13 L690.79 156.17 L690.95 157.18 L691.12 158.15 L691.28 159.09 L691.45 159.99 L691.61 160.85 L691.78 161.67 L691.94 162.46 L692.11 163.21 L692.27 163.92 L692.44 164.59 L692.6 165.23 L692.76 165.83 L692.93 166.39 L693.09 166.92 L693.26 167.42 L693.42 167.88 L693.59 168.32 L693.75 168.72 L693.92 169.1 L694.08 169.45 L694.25 169.77 L694.41 170.07 L694.58 170.35 L694.74 170.6" stroke="#b0b0b0" stroke-width="0.9" fill="none"/>
<path d="M676.33 173 L676.33 169.36 L677.51 169.36 L677.51 165.36 L678.69 165.36 L678.69 158.46 L679.87 158.46 L679.87 148.92 L681.05 148.92 L681.05 139.21 L682.23 139.21 L682.23 127.64 L683.41 127.64 L683.41 123.99 L684.59 123.99 L684.59 124.12 L685.77 124.12 L685.77 125.98 L686.95 125.98 L686.95 136.23 L688.13 136.23 L688.13 145.07 L689.31 145.07 L689.31 153.66 L690.49 153.66 L690.49 161.02 L691.67 161.02 L691.67 166.51 L692.85 166.51 L692.85 169.66 L694.03 169.66 L694.03 171.49 L695.21 171.49 L695.21 172.31 L696.39 172.31 L696.39 172.75 L697.57 172.75 L697.57 172.92 L698.75 172.92 L698.75 172.97 L699.93 172.97 L699.93 172.99 L701.11 172.99 L701.11 173 L702.29 173 L702.29 173 Z" fill="#ef4848" fill-opacity="1" stroke="none"/>
<line x1="676.33" y1="173" x2="676.33" y2="169.36" stroke="#f77" stroke-width="0.35"/>
<line x1="677.51" y1="173" x2="677.51" y2="165.36" stroke="#f77" stroke-width="0.35"/>
<line x1="678.69" y1="173" x2="678.69" y2="158.46" stroke="#f77" stroke-width="0.35"/>
<line x1="679.87" y1="173" x2="679.87" y2="148.92" stroke="#f77" stroke-width="0.35"/>
<line x1="681.05" y1="173" x2="681.05" y2="139.21" stroke="#f77" stroke-width="0.35"/>
<line x1="682.23" y1="173" x2="682.23" y2="127.64" stroke="#f77" stroke-width="0.35"/>
<line x1="683.41" y1="173" x2="683.41" y2="123.99" stroke="#f77" stroke-width="0.35"/>
<line x1="684.59" y1="173" x2="684.59" y2="124.12" stroke="#f77" stroke-width="0.35"/>
<line x1="685.77" y1="173" x2="685.77" y2="125.98" stroke="#f77" stroke-width="0.35"/>
<line x1="686.95" y1="173" x2="686.95" y2="136.23" stroke="#f77" stroke-width="0.35"/>
<line x1="688.13" y1="173" x2="688.13" y2="145.07" stroke="#f77" stroke-width="0.35"/>
<line x1="689.31" y1="173" x2="689.31" y2="153.66" stroke="#f77" stroke-width="0.35"/>
<line x1="690.49" y1="173" x2="690.49" y2="161.02" stroke="#f77" stroke-width="0.35"/>
<line x1="691.67" y1="173" x2="691.67" y2="166.51" stroke="#f77" stroke-width="0.35"/>
<line x1="692.85" y1="173" x2="692.85" y2="169.66" stroke="#f77" stroke-width="0.35"/>
<line x1="694.03" y1="173" x2="694.03" y2="171.49" stroke="#f77" stroke-width="0.35"/>
<line x1="695.21" y1="173" x2="695.21" y2="172.31" stroke="#f77" stroke-width="0.35"/>
<line x1="696.39" y1="173" x2="696.39" y2="172.75" stroke="#f77" stroke-width="0.35"/>
<line x1="697.57" y1="173" x2="697.57" y2="172.92" stroke="#f77" stroke-width="0.35"/>
<line x1="698.75" y1="173" x2="698.75" y2="172.97" stroke="#f77" stroke-width="0.35"/>
<line x1="699.93" y1="173" x2="699.93" y2="172.99" stroke="#f77" stroke-width="0.35"/>
<line x1="701.11" y1="173" x2="701.11" y2="173" stroke="#f77" stroke-width="0.35"/>
<path d="M701.82 173 L701.82 172.68 L703 172.68 L703 172.71 L704.18 172.71 L704.18 172.82 L705.36 172.82 L705.36 172.79 L706.54 172.79 L706.54 172.86 L707.72 172.86 L707.72 172.75 L708.9 172.75 L708.9 172.75 L710.08 172.75 L710.08 172.52 L711.26 172.52 L711.26 172.69 L712.44 172.69 L712.44 172.87 L713.62 172.87 L713.62 172.68 L714.8 172.68 L714.8 172.52 L715.98 172.52 L715.98 172.66 L717.16 172.66 L717.16 172.54 L718.34 172.54 L718.34 172.37 L719.52 172.37 L719.52 172.15 L720.7 172.15 L720.7 172.22 L721.88 172.22 L721.88 172.38 L723.06 172.38 L723.06 171.95 L724.24 171.95 L724.24 172.31 L725.42 172.31 L725.42 172.34 L726.6 172.34 L726.6 172.59 L727.78 172.59 L727.78 172.52 L728.96 172.52 L728.96 172.35 L730.14 172.35 L730.14 172.76 L731.32 172.76 L731.32 172.61 L732.5 172.61 L732.5 172.58 L733.68 172.58 L733.68 172.74 L734.86 172.74 L734.86 172.71 L736.04 172.71 L736.04 172.84 L737.22 172.84 L737.22 173 Z" fill="#ef4848" fill-opacity="1" stroke="none"/>
<path d="M684.59 121.72 L684.74 121.75 L684.89 121.86 L685.04 122.03 L685.19 122.28 L685.34 122.59 L685.48 122.97 L685.63 123.42 L685.78 123.92 L685.93 124.49 L686.08 125.12 L686.23 125.81 L686.38 126.55 L686.53 127.34 L686.67 128.18 L686.82 129.06 L686.97 129.99 L687.12 130.96 L687.27 131.95 L687.42 132.99 L687.57 134.04 L687.72 135.13 L687.86 136.23 L688.01 137.35 L688.16 138.48 L688.31 139.62 L688.46 140.77 L688.61 141.93 L688.76 143.08 L688.91 144.23 L689.05 145.37 L689.2 146.51 L689.35 147.63 L689.5 148.74 L689.65 149.83 L689.8 150.9 L689.95 151.95 L690.1 152.98 L690.24 153.99 L690.39 154.97 L690.54 155.92 L690.69 156.85 L690.84 157.74 L690.99 158.61 L691.14 159.44 L691.29 160.25 L691.43 161.02 L691.58 161.76 L691.73 162.47 L691.88 163.15 L692.03 163.8 L692.18 164.42 L692.33 165 L692.48 165.56 L692.62 166.09 L692.77 166.59 L692.92 167.06 L693.07 167.5 L693.22 167.92 L693.37 168.31 L693.52 168.68 L693.67 169.02 L693.81 169.35 L693.96 169.65 L694.11 169.93 L694.26 170.19 L694.41 170.43 L694.56 170.65 L694.71 170.86 L694.86 171.05 L695 171.23 L695.15 171.4 L695.3 171.55 L695.45 171.68 L695.6 171.81 L695.75 171.93 L695.9 172.03 L696.04 172.13 L696.19 172.22 L696.34 172.3 L696.49 172.37 L696.64 172.44 L696.79 172.5 L696.94 172.55 L697.09 172.6 L697.23 172.64 L697.38 172.68 L697.53 172.72 L697.68 172.75 L697.83 172.78 L697.98 172.8 L698.13 172.83 L698.28 172.85 L698.42 172.87 L698.57 172.88 L698.72 172.9 L698.87 172.91 L699.02 172.92 L699.17 172.93 L699.32 172.94 L699.47 172.95 L699.61 172.95 L699.76 172.96 L699.91 172.97 L700.06 172.97 L700.21 172.97 L700.36 172.98 L700.51 172.98 L700.66 172.98 L700.8 172.99 L700.95 172.99 L701.1 172.99 L701.25 172.99 L701.4 172.99 L701.55 172.99 L701.7 172.99 L701.85 173 L701.99 173 L702.14 173 L702.29 173" stroke="#4a1818" stroke-width="0.9" fill="none"/>
<path d="M702.29 173 L702.59 173 L702.88 173 L703.17 173 L703.47 173 L703.76 173 L704.05 173 L704.35 173 L704.64 173 L704.93 173 L705.23 172.99 L705.52 172.99 L705.81 172.99 L706.11 172.99 L706.4 172.99 L706.69 172.99 L706.99 172.99 L707.28 172.99 L707.58 172.98 L707.87 172.98 L708.16 172.98 L708.46 172.97 L708.75 172.97 L709.04 172.97 L709.34 172.96 L709.63 172.96 L709.92 172.95 L710.22 172.94 L710.51 172.94 L710.8 172.93 L711.1 172.92 L711.39 172.91 L711.68 172.9 L711.98 172.89 L712.27 172.88 L712.56 172.87 L712.86 172.86 L713.15 172.84 L713.45 172.83 L713.74 172.81 L714.03 172.8 L714.33 172.78 L714.62 172.76 L714.91 172.74 L715.21 172.72 L715.5 172.7 L715.79 172.68 L716.09 172.66 L716.38 172.64 L716.67 172.62 L716.97 172.59 L717.26 172.57 L717.55 172.55 L717.85 172.53 L718.14 172.5 L718.44 172.48 L718.73 172.46 L719.02 172.44 L719.32 172.42 L719.61 172.4 L719.9 172.38 L720.2 172.36 L720.49 172.35 L720.78 172.33 L721.08 172.32 L721.37 172.31 L721.66 172.3 L721.96 172.29 L722.25 172.28 L722.54 172.28 L722.84 172.28 L723.13 172.27 L723.42 172.28 L723.72 172.28 L724.01 172.28 L724.31 172.29 L724.6 172.3 L724.89 172.31 L725.19 172.32 L725.48 172.34 L725.77 172.35 L726.07 172.37 L726.36 172.39 L726.65 172.41 L726.95 172.43 L727.24 172.45 L727.53 172.47 L727.83 172.49 L728.12 172.51 L728.41 172.54 L728.71 172.56 L729 172.58 L729.3 172.6 L729.59 172.63 L729.88 172.65 L730.18 172.67 L730.47 172.69 L730.76 172.71 L731.06 172.73 L731.35 172.75 L731.64 172.77 L731.94 172.79 L732.23 172.8 L732.52 172.82 L732.82 172.84 L733.11 172.85 L733.4 172.86 L733.7 172.88 L733.99 172.89 L734.28 172.9 L734.58 172.91 L734.87 172.92 L735.17 172.93 L735.46 172.93 L735.75 172.94 L736.05 172.95 L736.34 172.95 L736.63 172.96 L736.93 172.96 L737.22 172.97" stroke="#8a2a2a" stroke-width="0.8" fill="none"/>
<line x1="715.6" y1="127.5" x2="715.6" y2="151.95" stroke="#999" stroke-width="0.9"/>
<line x1="715.15" y1="151.5" x2="764.6" y2="151.5" stroke="#999" stroke-width="0.9"/>
<line x1="714.4" y1="132.11" x2="715.6" y2="132.11" stroke="#999" stroke-width="0.8"/>
<text x="703.61" y="134.38" font-family='"Liberation Sans", sans-serif' font-size="6.5" font-weight="normal" font-style="normal" fill="#444">400</text>
<line x1="714.4" y1="141.8" x2="715.6" y2="141.8" stroke="#999" stroke-width="0.8"/>
<text x="703.61" y="144.07" font-family='"Liberation Sans", sans-serif' font-size="6.5" font-weight="normal" font-style="normal" fill="#444">200</text>
<line x1="714.4" y1="151.5" x2="715.6" y2="151.5" stroke="#999" stroke-width="0.8"/>
<text x="710.84" y="153.77" font-family='"Liberation Sans", sans-serif' font-size="6.5" font-weight="normal" font-style="normal" fill="#444">0</text>
<line x1="715.6" y1="151.5" x2="715.6" y2="152.7" stroke="#999" stroke-width="0.8"/>
<line x1="731.8" y1="151.5" x2="731.8" y2="152.7" stroke="#999" stroke-width="0.8"/>
<line x1="748" y1="151.5" x2="748" y2="152.7" stroke="#999" stroke-width="0.8"/>
<line x1="764.2" y1="151.5" x2="764.2" y2="152.7" stroke="#999" stroke-width="0.8"/>
<text x="713.74" y="158.7" font-family='"Liberation Sans", sans-serif' font-size="6.6" font-weight="normal" font-style="normal" fill="#444">6</text>
<text x="729.96" y="158.7" font-family='"Liberation Sans", sans-serif' font-size="6.6" font-weight="normal" font-style="normal" fill="#444">8</text>
<text x="744.21" y="158.7" font-family='"Liberation Sans", sans-serif' font-size="6.6" font-weight="normal" font-style="normal" fill="#444">10</text>
<text x="760.44" y="158.7" font-family='"Liberation Sans", sans-serif' font-size="6.6" font-weight="normal" font-style="normal" fill="#444">12</text>
<path d="M715.6 151.5 L715.6 148.47 L717.38 148.47 L717.38 147.6 L719.16 147.6 L719.16 147.17 L720.95 147.17 L720.95 147.04 L722.73 147.04 L722.73 145.9 L724.51 145.9 L724.51 143.69 L726.29 143.69 L726.29 141.33 L728.07 141.33 L728.07 139.91 L729.86 139.91 L729.86 137.3 L731.64 137.3 L731.64 136.98 L733.42 136.98 L733.42 135.59 L735.2 135.59 L735.2 135.02 L736.98 135.02 L736.98 134.97 L738.77 134.97 L738.77 137.45 L740.55 137.45 L740.55 137.17 L742.33 137.17 L742.33 138.93 L744.11 138.93 L744.11 142.34 L745.89 142.34 L745.89 144.36 L747.68 144.36 L747.68 145.62 L749.46 145.62 L749.46 147.46 L751.24 147.46 L751.24 148.96 L753.02 148.96 L753.02 151.5 Z" fill="#f4b8b8" fill-opacity="1" stroke="none"/>
<line x1="715.6" y1="151.5" x2="715.6" y2="148.47" stroke="#fff4f4" stroke-width="0.55"/>
<line x1="717.38" y1="151.5" x2="717.38" y2="147.6" stroke="#fff4f4" stroke-width="0.55"/>
<line x1="719.16" y1="151.5" x2="719.16" y2="147.17" stroke="#fff4f4" stroke-width="0.55"/>
<line x1="720.95" y1="151.5" x2="720.95" y2="147.04" stroke="#fff4f4" stroke-width="0.55"/>
<line x1="722.73" y1="151.5" x2="722.73" y2="145.9" stroke="#fff4f4" stroke-width="0.55"/>
<line x1="724.51" y1="151.5" x2="724.51" y2="143.69" stroke="#fff4f4" stroke-width="0.55"/>
<line x1="726.29" y1="151.5" x2="726.29" y2="141.33" stroke="#fff4f4" stroke-width="0.55"/>
<line x1="728.07" y1="151.5" x2="728.07" y2="139.91" stroke="#fff4f4" stroke-width="0.55"/>
<line x1="729.86" y1="151.5" x2="729.86" y2="137.3" stroke="#fff4f4" stroke-width="0.55"/>
<line x1="731.64" y1="151.5" x2="731.64" y2="136.98" stroke="#fff4f4" stroke-width="0.55"/>
<line x1="733.42" y1="151.5" x2="733.42" y2="135.59" stroke="#fff4f4" stroke-width="0.55"/>
<line x1="735.2" y1="151.5" x2="735.2" y2="135.02" stroke="#fff4f4" stroke-width="0.55"/>
<line x1="736.98" y1="151.5" x2="736.98" y2="134.97" stroke="#fff4f4" stroke-width="0.55"/>
<line x1="738.77" y1="151.5" x2="738.77" y2="137.45" stroke="#fff4f4" stroke-width="0.55"/>
<line x1="740.55" y1="151.5" x2="740.55" y2="137.17" stroke="#fff4f4" stroke-width="0.55"/>
<line x1="742.33" y1="151.5" x2="742.33" y2="138.93" stroke="#fff4f4" stroke-width="0.55"/>
<line x1="744.11" y1="151.5" x2="744.11" y2="142.34" stroke="#fff4f4" stroke-width="0.55"/>
<line x1="745.89" y1="151.5" x2="745.89" y2="144.36" stroke="#fff4f4" stroke-width="0.55"/>
<line x1="747.68" y1="151.5" x2="747.68" y2="145.62" stroke="#fff4f4" stroke-width="0.55"/>
<line x1="749.46" y1="151.5" x2="749.46" y2="147.46" stroke="#fff4f4" stroke-width="0.55"/>
<line x1="751.24" y1="151.5" x2="751.24" y2="148.96" stroke="#fff4f4" stroke-width="0.55"/>
<path d="M715.6 149.17 L715.92 148.99 L716.24 148.8 L716.56 148.62 L716.88 148.45 L717.2 148.28 L717.52 148.13 L717.84 147.98 L718.16 147.85 L718.48 147.72 L718.8 147.61 L719.12 147.5 L719.44 147.4 L719.76 147.3 L720.08 147.21 L720.4 147.12 L720.72 147.02 L721.04 146.91 L721.36 146.8 L721.68 146.68 L722 146.54 L722.32 146.39 L722.64 146.22 L722.96 146.03 L723.28 145.83 L723.6 145.61 L723.92 145.37 L724.24 145.12 L724.56 144.84 L724.88 144.55 L725.2 144.25 L725.52 143.94 L725.84 143.61 L726.16 143.27 L726.48 142.92 L726.8 142.57 L727.12 142.21 L727.44 141.84 L727.76 141.47 L728.08 141.1 L728.4 140.73 L728.72 140.36 L729.04 139.99 L729.36 139.63 L729.68 139.27 L730 138.92 L730.32 138.58 L730.64 138.25 L730.96 137.92 L731.28 137.61 L731.6 137.31 L731.92 137.03 L732.24 136.76 L732.56 136.5 L732.88 136.27 L733.2 136.05 L733.52 135.85 L733.84 135.67 L734.16 135.51 L734.48 135.37 L734.79 135.26 L735.11 135.16 L735.43 135.09 L735.75 135.04 L736.07 135.02 L736.39 135.02 L736.71 135.04 L737.03 135.08 L737.35 135.15 L737.67 135.24 L737.99 135.36 L738.31 135.49 L738.63 135.65 L738.95 135.82 L739.27 136.02 L739.59 136.24 L739.91 136.47 L740.23 136.72 L740.55 136.99 L740.87 137.27 L741.19 137.57 L741.51 137.88 L741.83 138.21 L742.15 138.54 L742.47 138.88 L742.79 139.23 L743.11 139.59 L743.43 139.95 L743.75 140.32 L744.07 140.7 L744.39 141.07 L744.71 141.45 L745.03 141.82 L745.35 142.2 L745.67 142.57 L745.99 142.94 L746.31 143.31 L746.63 143.67 L746.95 144.03 L747.27 144.38 L747.59 144.72 L747.91 145.06 L748.23 145.38 L748.55 145.7 L748.87 146.01 L749.19 146.32 L749.51 146.61 L749.83 146.89 L750.15 147.16 L750.47 147.42 L750.79 147.67 L751.11 147.91 L751.43 148.14 L751.75 148.36 L752.07 148.57 L752.39 148.77 L752.71 148.96 L753.03 149.14 L753.35 149.31 L753.67 149.47" stroke="#c07070" stroke-width="0.8" fill="none"/>
<line x1="715.3" y1="161.3" x2="711.6" y2="172.1" stroke="#2659d4" stroke-width="1.9" stroke-dasharray="4.2 2.6"/>
<line x1="750.6" y1="162" x2="735.75" y2="172.65" stroke="#2659d4" stroke-width="1.9" stroke-dasharray="4.2 2.6"/>
<line x1="674.1" y1="187" x2="674.1" y2="239.05" stroke="#555" stroke-width="1.3"/>
<line x1="673.45" y1="238.4" x2="779.5" y2="238.4" stroke="#555" stroke-width="1.3"/>
<line x1="672.3" y1="187" x2="674.1" y2="187" stroke="#555" stroke-width="0.8"/>
<text x="661.36" y="190.42" font-family='"Liberation Sans", sans-serif' font-size="9.8" font-weight="normal" font-style="normal" fill="#1a1a1a" textLength="11.34" lengthAdjust="spacingAndGlyphs">40</text>
<line x1="672.3" y1="212.7" x2="674.1" y2="212.7" stroke="#555" stroke-width="0.8"/>
<text x="661.36" y="216.12" font-family='"Liberation Sans", sans-serif' font-size="9.8" font-weight="normal" font-style="normal" fill="#1a1a1a" textLength="11.34" lengthAdjust="spacingAndGlyphs">20</text>
<line x1="672.3" y1="238.4" x2="674.1" y2="238.4" stroke="#555" stroke-width="0.8"/>
<text x="667.03" y="241.82" font-family='"Liberation Sans", sans-serif' font-size="9.8" font-weight="normal" font-style="normal" fill="#1a1a1a" textLength="5.67" lengthAdjust="spacingAndGlyphs">0</text>
<line x1="685.2" y1="238.4" x2="685.2" y2="240.2" stroke="#555" stroke-width="0.8"/>
<line x1="708.8" y1="238.4" x2="708.8" y2="240.2" stroke="#555" stroke-width="0.8"/>
<line x1="732.4" y1="238.4" x2="732.4" y2="240.2" stroke="#555" stroke-width="0.8"/>
<line x1="756" y1="238.4" x2="756" y2="240.2" stroke="#555" stroke-width="0.8"/>
<line x1="779.6" y1="238.4" x2="779.6" y2="240.2" stroke="#555" stroke-width="0.8"/>
<text x="682.48" y="249.28" font-family='"Liberation Sans", sans-serif' font-size="9.4" font-weight="normal" font-style="normal" fill="#1a1a1a" textLength="5.44" lengthAdjust="spacingAndGlyphs">0</text>
<text x="706.09" y="249.23" font-family='"Liberation Sans", sans-serif' font-size="9.4" font-weight="normal" font-style="normal" fill="#1a1a1a" textLength="5.44" lengthAdjust="spacingAndGlyphs">5</text>
<text x="726.78" y="249.28" font-family='"Liberation Sans", sans-serif' font-size="9.4" font-weight="normal" font-style="normal" fill="#1a1a1a" textLength="10.87" lengthAdjust="spacingAndGlyphs">10</text>
<text x="750.4" y="249.23" font-family='"Liberation Sans", sans-serif' font-size="9.4" font-weight="normal" font-style="normal" fill="#1a1a1a" textLength="10.87" lengthAdjust="spacingAndGlyphs">15</text>
<text x="774.11" y="249.28" font-family='"Liberation Sans", sans-serif' font-size="9.4" font-weight="normal" font-style="normal" fill="#1a1a1a" textLength="10.87" lengthAdjust="spacingAndGlyphs">20</text>
<path d="M673.87 233.18 L674.05 232.84 L674.22 232.48 L674.4 232.1 L674.57 231.71 L674.74 231.3 L674.92 230.87 L675.09 230.42 L675.27 229.96 L675.44 229.48 L675.62 228.98 L675.79 228.46 L675.97 227.92 L676.14 227.37 L676.32 226.8 L676.49 226.21 L676.66 225.61 L676.84 224.99 L677.01 224.36 L677.19 223.71 L677.36 223.05 L677.54 222.37 L677.71 221.68 L677.89 220.98 L678.06 220.27 L678.24 219.55 L678.41 218.82 L678.58 218.08 L678.76 217.34 L678.93 216.6 L679.11 215.85 L679.28 215.1 L679.46 214.34 L679.63 213.59 L679.81 212.85 L679.98 212.1 L680.15 211.37 L680.33 210.64 L680.5 209.92 L680.68 209.22 L680.85 208.52 L681.03 207.84 L681.2 207.18 L681.38 206.54 L681.55 205.92 L681.73 205.32 L681.9 204.74 L682.07 204.19 L682.25 203.67 L682.42 203.17 L682.6 202.71 L682.77 202.27 L682.95 201.87 L683.12 201.5 L683.3 201.17 L683.47 200.87 L683.65 200.61 L683.82 200.39 L683.99 200.2 L684.17 200.05 L684.34 199.95 L684.52 199.88 L684.69 199.85 L684.87 199.86 L685.04 199.91 L685.22 200.01 L685.39 200.14 L685.56 200.31 L685.74 200.51 L685.91 200.76 L686.09 201.04 L686.26 201.36 L686.44 201.72 L686.61 202.1 L686.79 202.52 L686.96 202.98 L687.14 203.46 L687.31 203.97 L687.48 204.51 L687.66 205.08 L687.83 205.67 L688.01 206.28 L688.18 206.92 L688.36 207.57 L688.53 208.24 L688.71 208.93 L688.88 209.63 L689.06 210.34 L689.23 211.07 L689.4 211.8 L689.58 212.54 L689.75 213.29 L689.93 214.04 L690.1 214.79 L690.28 215.54 L690.45 216.29 L690.63 217.04 L690.8 217.78 L690.98 218.52 L691.15 219.25 L691.32 219.98 L691.5 220.69 L691.67 221.4 L691.85 222.09 L692.02 222.77 L692.2 223.44 L692.37 224.1 L692.55 224.74 L692.72 225.36 L692.89 225.97 L693.07 226.56 L693.24 227.14 L693.42 227.7 L693.59 228.24 L693.77 228.77 L693.94 229.27 L694.12 229.76 L694.29 230.23 L694.47 230.69 L694.64 231.12" stroke="#b0b0b0" stroke-width="0.9" fill="none"/>
<path d="M674.34 238.4 L674.34 234.69 L675.52 234.69 L675.52 232.33 L676.7 232.33 L676.7 229.05 L677.88 229.05 L677.88 223.54 L679.06 223.54 L679.06 218.97 L680.24 218.97 L680.24 213.79 L681.42 213.79 L681.42 207.49 L682.6 207.49 L682.6 204.03 L683.78 204.03 L683.78 200.82 L684.96 200.82 L684.96 198.58 L686.14 198.58 L686.14 200.61 L687.32 200.61 L687.32 202.87 L688.5 202.87 L688.5 204.21 L689.68 204.21 L689.68 209.11 L690.86 209.11 L690.86 213.39 L692.04 213.39 L692.04 217.62 L693.22 217.62 L693.22 221.38 L694.4 221.38 L694.4 224.39 L695.58 224.39 L695.58 228.04 L696.76 228.04 L696.76 230.33 L697.94 230.33 L697.94 233.21 L699.12 233.21 L699.12 234.93 L700.3 234.93 L700.3 236.34 L701.48 236.34 L701.48 237.18 L702.66 237.18 L702.66 237.71 L703.84 237.71 L703.84 238 L705.02 238 L705.02 238.15 L706.2 238.15 L706.2 238.15 L707.38 238.15 L707.38 238.09 L708.56 238.09 L708.56 237.97 L709.74 237.97 L709.74 237.81 L710.92 237.81 L710.92 237.56 L712.1 237.56 L712.1 237.34 L713.28 237.34 L713.28 236.97 L714.46 236.97 L714.46 236.65 L715.64 236.65 L715.64 236.37 L716.82 236.37 L716.82 236.1 L718 236.1 L718 235.9 L719.18 235.9 L719.18 235.48 L720.36 235.48 L720.36 235.69 L721.54 235.69 L721.54 235.48 L722.72 235.48 L722.72 235.71 L723.9 235.71 L723.9 236 L725.08 236 L725.08 236.34 L726.26 236.34 L726.26 236.52 L727.44 236.52 L727.44 236.82 L728.62 236.82 L728.62 237.24 L729.8 237.24 L729.8 237.48 L730.98 237.48 L730.98 237.67 L732.16 237.67 L732.16 237.85 L733.34 237.85 L733.34 237.94 L734.52 237.94 L734.52 238.03 L735.7 238.03 L735.7 238.03 L736.88 238.03 L736.88 238.02 L738.06 238.02 L738.06 237.92 L739.24 237.92 L739.24 237.88 L740.42 237.88 L740.42 237.81 L741.6 237.81 L741.6 237.66 L742.78 237.66 L742.78 237.55 L743.96 237.55 L743.96 237.39 L745.14 237.39 L745.14 237.36 L746.32 237.36 L746.32 237.29 L747.5 237.29 L747.5 237.23 L748.68 237.23 L748.68 237.19 L749.86 237.19 L749.86 237.27 L751.04 237.27 L751.04 237.29 L752.22 237.29 L752.22 237.39 L753.4 237.39 L753.4 237.51 L754.58 237.51 L754.58 237.62 L755.76 237.62 L755.76 237.73 L756.94 237.73 L756.94 237.86 L758.12 237.86 L758.12 237.94 L759.3 237.94 L759.3 238.07 L760.48 238.07 L760.48 238.13 L761.66 238.13 L761.66 238.2 L762.84 238.2 L762.84 238.26 L764.02 238.26 L764.02 238.3 L765.2 238.3 L765.2 238.4 Z" fill="#f48c8c" fill-opacity="1" stroke="none"/>
<line x1="674.34" y1="238.4" x2="674.34" y2="234.69" stroke="#f8a0a0" stroke-width="0.35"/>
<line x1="675.52" y1="238.4" x2="675.52" y2="232.33" stroke="#f8a0a0" stroke-width="0.35"/>
<line x1="676.7" y1="238.4" x2="676.7" y2="229.05" stroke="#f8a0a0" stroke-width="0.35"/>
<line x1="677.88" y1="238.4" x2="677.88" y2="223.54" stroke="#f8a0a0" stroke-width="0.35"/>
<line x1="679.06" y1="238.4" x2="679.06" y2="218.97" stroke="#f8a0a0" stroke-width="0.35"/>
<line x1="680.24" y1="238.4" x2="680.24" y2="213.79" stroke="#f8a0a0" stroke-width="0.35"/>
<line x1="681.42" y1="238.4" x2="681.42" y2="207.49" stroke="#f8a0a0" stroke-width="0.35"/>
<line x1="682.6" y1="238.4" x2="682.6" y2="204.03" stroke="#f8a0a0" stroke-width="0.35"/>
<line x1="683.78" y1="238.4" x2="683.78" y2="200.82" stroke="#f8a0a0" stroke-width="0.35"/>
<line x1="684.96" y1="238.4" x2="684.96" y2="198.58" stroke="#f8a0a0" stroke-width="0.35"/>
<line x1="686.14" y1="238.4" x2="686.14" y2="200.61" stroke="#f8a0a0" stroke-width="0.35"/>
<line x1="687.32" y1="238.4" x2="687.32" y2="202.87" stroke="#f8a0a0" stroke-width="0.35"/>
<line x1="688.5" y1="238.4" x2="688.5" y2="204.21" stroke="#f8a0a0" stroke-width="0.35"/>
<line x1="689.68" y1="238.4" x2="689.68" y2="209.11" stroke="#f8a0a0" stroke-width="0.35"/>
<line x1="690.86" y1="238.4" x2="690.86" y2="213.39" stroke="#f8a0a0" stroke-width="0.35"/>
<line x1="692.04" y1="238.4" x2="692.04" y2="217.62" stroke="#f8a0a0" stroke-width="0.35"/>
<line x1="693.22" y1="238.4" x2="693.22" y2="221.38" stroke="#f8a0a0" stroke-width="0.35"/>
<line x1="694.4" y1="238.4" x2="694.4" y2="224.39" stroke="#f8a0a0" stroke-width="0.35"/>
<line x1="695.58" y1="238.4" x2="695.58" y2="228.04" stroke="#f8a0a0" stroke-width="0.35"/>
<line x1="696.76" y1="238.4" x2="696.76" y2="230.33" stroke="#f8a0a0" stroke-width="0.35"/>
<line x1="697.94" y1="238.4" x2="697.94" y2="233.21" stroke="#f8a0a0" stroke-width="0.35"/>
<line x1="699.12" y1="238.4" x2="699.12" y2="234.93" stroke="#f8a0a0" stroke-width="0.35"/>
<line x1="700.3" y1="238.4" x2="700.3" y2="236.34" stroke="#f8a0a0" stroke-width="0.35"/>
<line x1="701.48" y1="238.4" x2="701.48" y2="237.18" stroke="#f8a0a0" stroke-width="0.35"/>
<line x1="702.66" y1="238.4" x2="702.66" y2="237.71" stroke="#f8a0a0" stroke-width="0.35"/>
<line x1="703.84" y1="238.4" x2="703.84" y2="238" stroke="#f8a0a0" stroke-width="0.35"/>
<line x1="705.02" y1="238.4" x2="705.02" y2="238.15" stroke="#f8a0a0" stroke-width="0.35"/>
<line x1="706.2" y1="238.4" x2="706.2" y2="238.15" stroke="#f8a0a0" stroke-width="0.35"/>
<line x1="707.38" y1="238.4" x2="707.38" y2="238.09" stroke="#f8a0a0" stroke-width="0.35"/>
<line x1="708.56" y1="238.4" x2="708.56" y2="237.97" stroke="#f8a0a0" stroke-width="0.35"/>
<line x1="709.74" y1="238.4" x2="709.74" y2="237.81" stroke="#f8a0a0" stroke-width="0.35"/>
<line x1="710.92" y1="238.4" x2="710.92" y2="237.56" stroke="#f8a0a0" stroke-width="0.35"/>
<line x1="712.1" y1="238.4" x2="712.1" y2="237.34" stroke="#f8a0a0" stroke-width="0.35"/>
<line x1="713.28" y1="238.4" x2="713.28" y2="236.97" stroke="#f8a0a0" stroke-width="0.35"/>
<line x1="714.46" y1="238.4" x2="714.46" y2="236.65" stroke="#f8a0a0" stroke-width="0.35"/>
<line x1="715.64" y1="238.4" x2="715.64" y2="236.37" stroke="#f8a0a0" stroke-width="0.35"/>
<line x1="716.82" y1="238.4" x2="716.82" y2="236.1" stroke="#f8a0a0" stroke-width="0.35"/>
<line x1="718" y1="238.4" x2="718" y2="235.9" stroke="#f8a0a0" stroke-width="0.35"/>
<line x1="719.18" y1="238.4" x2="719.18" y2="235.48" stroke="#f8a0a0" stroke-width="0.35"/>
<line x1="720.36" y1="238.4" x2="720.36" y2="235.69" stroke="#f8a0a0" stroke-width="0.35"/>
<line x1="721.54" y1="238.4" x2="721.54" y2="235.48" stroke="#f8a0a0" stroke-width="0.35"/>
<line x1="722.72" y1="238.4" x2="722.72" y2="235.71" stroke="#f8a0a0" stroke-width="0.35"/>
<line x1="723.9" y1="238.4" x2="723.9" y2="236" stroke="#f8a0a0" stroke-width="0.35"/>
<line x1="725.08" y1="238.4" x2="725.08" y2="236.34" stroke="#f8a0a0" stroke-width="0.35"/>
<line x1="726.26" y1="238.4" x2="726.26" y2="236.52" stroke="#f8a0a0" stroke-width="0.35"/>
<line x1="727.44" y1="238.4" x2="727.44" y2="236.82" stroke="#f8a0a0" stroke-width="0.35"/>
<line x1="728.62" y1="238.4" x2="728.62" y2="237.24" stroke="#f8a0a0" stroke-width="0.35"/>
<line x1="729.8" y1="238.4" x2="729.8" y2="237.48" stroke="#f8a0a0" stroke-width="0.35"/>
<line x1="730.98" y1="238.4" x2="730.98" y2="237.67" stroke="#f8a0a0" stroke-width="0.35"/>
<line x1="732.16" y1="238.4" x2="732.16" y2="237.85" stroke="#f8a0a0" stroke-width="0.35"/>
<line x1="733.34" y1="238.4" x2="733.34" y2="237.94" stroke="#f8a0a0" stroke-width="0.35"/>
<line x1="734.52" y1="238.4" x2="734.52" y2="238.03" stroke="#f8a0a0" stroke-width="0.35"/>
<line x1="735.7" y1="238.4" x2="735.7" y2="238.03" stroke="#f8a0a0" stroke-width="0.35"/>
<line x1="736.88" y1="238.4" x2="736.88" y2="238.02" stroke="#f8a0a0" stroke-width="0.35"/>
<line x1="738.06" y1="238.4" x2="738.06" y2="237.92" stroke="#f8a0a0" stroke-width="0.35"/>
<line x1="739.24" y1="238.4" x2="739.24" y2="237.88" stroke="#f8a0a0" stroke-width="0.35"/>
<line x1="740.42" y1="238.4" x2="740.42" y2="237.81" stroke="#f8a0a0" stroke-width="0.35"/>
<line x1="741.6" y1="238.4" x2="741.6" y2="237.66" stroke="#f8a0a0" stroke-width="0.35"/>
<line x1="742.78" y1="238.4" x2="742.78" y2="237.55" stroke="#f8a0a0" stroke-width="0.35"/>
<line x1="743.96" y1="238.4" x2="743.96" y2="237.39" stroke="#f8a0a0" stroke-width="0.35"/>
<line x1="745.14" y1="238.4" x2="745.14" y2="237.36" stroke="#f8a0a0" stroke-width="0.35"/>
<line x1="746.32" y1="238.4" x2="746.32" y2="237.29" stroke="#f8a0a0" stroke-width="0.35"/>
<line x1="747.5" y1="238.4" x2="747.5" y2="237.23" stroke="#f8a0a0" stroke-width="0.35"/>
<line x1="748.68" y1="238.4" x2="748.68" y2="237.19" stroke="#f8a0a0" stroke-width="0.35"/>
<line x1="749.86" y1="238.4" x2="749.86" y2="237.27" stroke="#f8a0a0" stroke-width="0.35"/>
<line x1="751.04" y1="238.4" x2="751.04" y2="237.29" stroke="#f8a0a0" stroke-width="0.35"/>
<line x1="752.22" y1="238.4" x2="752.22" y2="237.39" stroke="#f8a0a0" stroke-width="0.35"/>
<line x1="753.4" y1="238.4" x2="753.4" y2="237.51" stroke="#f8a0a0" stroke-width="0.35"/>
<line x1="754.58" y1="238.4" x2="754.58" y2="237.62" stroke="#f8a0a0" stroke-width="0.35"/>
<line x1="755.76" y1="238.4" x2="755.76" y2="237.73" stroke="#f8a0a0" stroke-width="0.35"/>
<line x1="756.94" y1="238.4" x2="756.94" y2="237.86" stroke="#f8a0a0" stroke-width="0.35"/>
<line x1="758.12" y1="238.4" x2="758.12" y2="237.94" stroke="#f8a0a0" stroke-width="0.35"/>
<line x1="759.3" y1="238.4" x2="759.3" y2="238.07" stroke="#f8a0a0" stroke-width="0.35"/>
<line x1="760.48" y1="238.4" x2="760.48" y2="238.13" stroke="#f8a0a0" stroke-width="0.35"/>
<line x1="761.66" y1="238.4" x2="761.66" y2="238.2" stroke="#f8a0a0" stroke-width="0.35"/>
<line x1="762.84" y1="238.4" x2="762.84" y2="238.26" stroke="#f8a0a0" stroke-width="0.35"/>
<line x1="764.02" y1="238.4" x2="764.02" y2="238.3" stroke="#f8a0a0" stroke-width="0.35"/>
<path d="M685.2 199.21 L685.36 199.23 L685.52 199.3 L685.68 199.41 L685.83 199.56 L685.99 199.76 L686.15 200 L686.31 200.28 L686.47 200.6 L686.63 200.96 L686.79 201.36 L686.95 201.8 L687.1 202.27 L687.26 202.78 L687.42 203.32 L687.58 203.89 L687.74 204.48 L687.9 205.11 L688.06 205.76 L688.21 206.44 L688.37 207.13 L688.53 207.85 L688.69 208.58 L688.85 209.33 L689.01 210.09 L689.17 210.87 L689.33 211.65 L689.48 212.44 L689.64 213.23 L689.8 214.03 L689.96 214.83 L690.12 215.63 L690.28 216.42 L690.44 217.22 L690.59 218 L690.75 218.78 L690.91 219.55 L691.07 220.31 L691.23 221.07 L691.39 221.8 L691.55 222.53 L691.7 223.24 L691.86 223.93 L692.02 224.61 L692.18 225.27 L692.34 225.92 L692.5 226.54 L692.66 227.15 L692.82 227.74 L692.97 228.3 L693.13 228.85 L693.29 229.38 L693.45 229.89 L693.61 230.38 L693.77 230.85 L693.93 231.3 L694.08 231.74 L694.24 232.15 L694.4 232.54 L694.56 232.92 L694.72 233.27 L694.88 233.61 L695.04 233.93 L695.2 234.24 L695.35 234.53 L695.51 234.8 L695.67 235.05 L695.83 235.3 L695.99 235.52 L696.15 235.74 L696.31 235.94 L696.46 236.13 L696.62 236.3 L696.78 236.47 L696.94 236.62 L697.1 236.77 L697.26 236.9 L697.42 237.02 L697.58 237.14 L697.73 237.25 L697.89 237.35 L698.05 237.44 L698.21 237.52 L698.37 237.6 L698.53 237.67 L698.69 237.74 L698.84 237.8 L699 237.86 L699.16 237.91 L699.32 237.95 L699.48 238 L699.64 238.04 L699.8 238.07 L699.95 238.1 L700.11 238.13 L700.27 238.16 L700.43 238.19 L700.59 238.21 L700.75 238.23 L700.91 238.25 L701.07 238.26 L701.22 238.28 L701.38 238.29 L701.54 238.3 L701.7 238.31 L701.86 238.32 L702.02 238.33 L702.18 238.34 L702.33 238.35 L702.49 238.35 L702.65 238.36 L702.81 238.36 L702.97 238.37 L703.13 238.37 L703.29 238.37 L703.45 238.38 L703.6 238.38 L703.76 238.38 L703.92 238.38 L704.08 238.39" stroke="#5a1e1e" stroke-width="0.9" fill="none"/>
<path d="M699.36 238.01 L699.92 238.01 L700.47 238.01 L701.03 238.02 L701.58 238.04 L702.14 238.05 L702.69 238.07 L703.25 238.08 L703.8 238.1 L704.36 238.11 L704.91 238.11 L705.47 238.12 L706.02 238.11 L706.58 238.1 L707.13 238.08 L707.69 238.04 L708.24 238 L708.8 237.95 L709.36 237.88 L709.91 237.8 L710.47 237.71 L711.02 237.61 L711.58 237.49 L712.13 237.37 L712.69 237.23 L713.24 237.09 L713.8 236.93 L714.35 236.77 L714.91 236.61 L715.46 236.45 L716.02 236.29 L716.57 236.14 L717.13 236 L717.68 235.86 L718.24 235.74 L718.8 235.64 L719.35 235.56 L719.91 235.5 L720.46 235.46 L721.02 235.44 L721.57 235.45 L722.13 235.49 L722.68 235.54 L723.24 235.62 L723.79 235.72 L724.35 235.83 L724.9 235.96 L725.46 236.1 L726.01 236.25 L726.57 236.41 L727.12 236.56 L727.68 236.72 L728.24 236.88 L728.79 237.03 L729.35 237.17 L729.9 237.3 L730.46 237.42 L731.01 237.53 L731.57 237.63 L732.12 237.71 L732.68 237.79 L733.23 237.84 L733.79 237.89 L734.34 237.93 L734.9 237.95 L735.45 237.96 L736.01 237.96 L736.56 237.96 L737.12 237.94 L737.68 237.92 L738.23 237.89 L738.79 237.86 L739.34 237.82 L739.9 237.78 L740.45 237.73 L741.01 237.68 L741.56 237.63 L742.12 237.58 L742.67 237.53 L743.23 237.48 L743.78 237.43 L744.34 237.38 L744.89 237.34 L745.45 237.3 L746 237.27 L746.56 237.24 L747.12 237.21 L747.67 237.2 L748.23 237.18 L748.78 237.18 L749.34 237.18 L749.89 237.19 L750.45 237.2 L751 237.22 L751.56 237.25 L752.11 237.28 L752.67 237.32 L753.22 237.36 L753.78 237.41 L754.33 237.46 L754.89 237.51 L755.44 237.56 L756 237.61 L756.56 237.67 L757.11 237.72 L757.67 237.78 L758.22 237.83 L758.78 237.88 L759.33 237.93 L759.89 237.97 L760.44 238.02 L761 238.06 L761.55 238.1 L762.11 238.13 L762.66 238.17 L763.22 238.2 L763.77 238.22 L764.33 238.25 L764.88 238.27 L765.44 238.29" stroke="#8a2a2a" stroke-width="0.9" fill="none"/>
<line x1="714.1" y1="190" x2="714.1" y2="216.65" stroke="#999" stroke-width="0.9"/>
<line x1="713.65" y1="216.2" x2="765.2" y2="216.2" stroke="#999" stroke-width="0.9"/>
<line x1="712.9" y1="197.81" x2="714.1" y2="197.81" stroke="#999" stroke-width="0.8"/>
<text x="698.49" y="200.08" font-family='"Liberation Sans", sans-serif' font-size="6.5" font-weight="normal" font-style="normal" fill="#444">2000</text>
<line x1="712.9" y1="207.01" x2="714.1" y2="207.01" stroke="#999" stroke-width="0.8"/>
<text x="698.49" y="209.28" font-family='"Liberation Sans", sans-serif' font-size="6.5" font-weight="normal" font-style="normal" fill="#444">1000</text>
<line x1="714.1" y1="216.2" x2="714.1" y2="217.4" stroke="#999" stroke-width="0.8"/>
<line x1="728.9" y1="216.2" x2="728.9" y2="217.4" stroke="#999" stroke-width="0.8"/>
<line x1="743.7" y1="216.2" x2="743.7" y2="217.4" stroke="#999" stroke-width="0.8"/>
<line x1="758.5" y1="216.2" x2="758.5" y2="217.4" stroke="#999" stroke-width="0.8"/>
<text x="712.29" y="223.17" font-family='"Liberation Sans", sans-serif' font-size="6.6" font-weight="normal" font-style="normal" fill="#444">4</text>
<text x="727.06" y="223.2" font-family='"Liberation Sans", sans-serif' font-size="6.6" font-weight="normal" font-style="normal" fill="#444">8</text>
<text x="739.94" y="223.2" font-family='"Liberation Sans", sans-serif' font-size="6.6" font-weight="normal" font-style="normal" fill="#444">12</text>
<text x="754.72" y="223.2" font-family='"Liberation Sans", sans-serif' font-size="6.6" font-weight="normal" font-style="normal" fill="#444">16</text>
<path d="M714.1 216.2 L714.1 211.08 L715.77 211.08 L715.77 210.52 L717.43 210.52 L717.43 210.6 L719.1 210.6 L719.1 210.66 L720.76 210.66 L720.76 209.37 L722.43 209.37 L722.43 206.59 L724.09 206.59 L724.09 201.45 L725.76 201.45 L725.76 197.82 L727.42 197.82 L727.42 194.78 L729.09 194.78 L729.09 197.31 L730.75 197.31 L730.75 202.24 L732.42 202.24 L732.42 206.94 L734.08 206.94 L734.08 211.19 L735.75 211.19 L735.75 213.79 L737.41 213.79 L737.41 214.32 L739.08 214.32 L739.08 214.16 L740.74 214.16 L740.74 213.13 L742.41 213.13 L742.41 211.77 L744.07 211.77 L744.07 210.93 L745.74 210.93 L745.74 209.75 L747.4 209.75 L747.4 209.1 L749.07 209.1 L749.07 208.78 L750.73 208.78 L750.73 209.21 L752.4 209.21 L752.4 210.21 L754.06 210.21 L754.06 211.95 L755.73 211.95 L755.73 213.06 L757.39 213.06 L757.39 214.4 L759.06 214.4 L759.06 215.16 L760.72 215.16 L760.72 215.66 L762.39 215.66 L762.39 216.2 Z" fill="#f4b4b4" fill-opacity="1" stroke="none"/>
<line x1="714.1" y1="216.2" x2="714.1" y2="211.08" stroke="#fff4f4" stroke-width="0.55"/>
<line x1="715.77" y1="216.2" x2="715.77" y2="210.52" stroke="#fff4f4" stroke-width="0.55"/>
<line x1="717.43" y1="216.2" x2="717.43" y2="210.6" stroke="#fff4f4" stroke-width="0.55"/>
<line x1="719.1" y1="216.2" x2="719.1" y2="210.66" stroke="#fff4f4" stroke-width="0.55"/>
<line x1="720.76" y1="216.2" x2="720.76" y2="209.37" stroke="#fff4f4" stroke-width="0.55"/>
<line x1="722.43" y1="216.2" x2="722.43" y2="206.59" stroke="#fff4f4" stroke-width="0.55"/>
<line x1="724.09" y1="216.2" x2="724.09" y2="201.45" stroke="#fff4f4" stroke-width="0.55"/>
<line x1="725.76" y1="216.2" x2="725.76" y2="197.82" stroke="#fff4f4" stroke-width="0.55"/>
<line x1="727.42" y1="216.2" x2="727.42" y2="194.78" stroke="#fff4f4" stroke-width="0.55"/>
<line x1="729.09" y1="216.2" x2="729.09" y2="197.31" stroke="#fff4f4" stroke-width="0.55"/>
<line x1="730.75" y1="216.2" x2="730.75" y2="202.24" stroke="#fff4f4" stroke-width="0.55"/>
<line x1="732.42" y1="216.2" x2="732.42" y2="206.94" stroke="#fff4f4" stroke-width="0.55"/>
<line x1="734.08" y1="216.2" x2="734.08" y2="211.19" stroke="#fff4f4" stroke-width="0.55"/>
<line x1="735.75" y1="216.2" x2="735.75" y2="213.79" stroke="#fff4f4" stroke-width="0.55"/>
<line x1="737.41" y1="216.2" x2="737.41" y2="214.32" stroke="#fff4f4" stroke-width="0.55"/>
<line x1="739.08" y1="216.2" x2="739.08" y2="214.16" stroke="#fff4f4" stroke-width="0.55"/>
<line x1="740.74" y1="216.2" x2="740.74" y2="213.13" stroke="#fff4f4" stroke-width="0.55"/>
<line x1="742.41" y1="216.2" x2="742.41" y2="211.77" stroke="#fff4f4" stroke-width="0.55"/>
<line x1="744.07" y1="216.2" x2="744.07" y2="210.93" stroke="#fff4f4" stroke-width="0.55"/>
<line x1="745.74" y1="216.2" x2="745.74" y2="209.75" stroke="#fff4f4" stroke-width="0.55"/>
<line x1="747.4" y1="216.2" x2="747.4" y2="209.1" stroke="#fff4f4" stroke-width="0.55"/>
<line x1="749.07" y1="216.2" x2="749.07" y2="208.78" stroke="#fff4f4" stroke-width="0.55"/>
<line x1="750.73" y1="216.2" x2="750.73" y2="209.21" stroke="#fff4f4" stroke-width="0.55"/>
<line x1="752.4" y1="216.2" x2="752.4" y2="210.21" stroke="#fff4f4" stroke-width="0.55"/>
<line x1="754.06" y1="216.2" x2="754.06" y2="211.95" stroke="#fff4f4" stroke-width="0.55"/>
<line x1="755.73" y1="216.2" x2="755.73" y2="213.06" stroke="#fff4f4" stroke-width="0.55"/>
<line x1="757.39" y1="216.2" x2="757.39" y2="214.4" stroke="#fff4f4" stroke-width="0.55"/>
<line x1="759.06" y1="216.2" x2="759.06" y2="215.16" stroke="#fff4f4" stroke-width="0.55"/>
<line x1="760.72" y1="216.2" x2="760.72" y2="215.66" stroke="#fff4f4" stroke-width="0.55"/>
<path d="M715.21 216.15 L715.61 216.13 L716.01 216.1 L716.41 216.05 L716.81 216 L717.22 215.92 L717.62 215.81 L718.02 215.67 L718.42 215.5 L718.82 215.27 L719.22 214.98 L719.62 214.63 L720.02 214.19 L720.42 213.67 L720.83 213.04 L721.23 212.31 L721.63 211.46 L722.03 210.49 L722.43 209.41 L722.83 208.22 L723.23 206.92 L723.63 205.54 L724.03 204.1 L724.44 202.63 L724.84 201.15 L725.24 199.71 L725.64 198.34 L726.04 197.09 L726.44 195.98 L726.84 195.06 L727.24 194.35 L727.64 193.89 L728.04 193.68 L728.45 193.73 L728.85 194.01 L729.25 194.52 L729.65 195.25 L730.05 196.16 L730.45 197.23 L730.85 198.44 L731.25 199.74 L731.65 201.1 L732.06 202.49 L732.46 203.87 L732.86 205.23 L733.26 206.52 L733.66 207.74 L734.06 208.86 L734.46 209.88 L734.86 210.79 L735.26 211.58 L735.67 212.26 L736.07 212.83 L736.47 213.29 L736.87 213.65 L737.27 213.92 L737.67 214.12 L738.07 214.23 L738.47 214.29 L738.87 214.28 L739.28 214.23 L739.68 214.13 L740.08 213.99 L740.48 213.82 L740.88 213.62 L741.28 213.4 L741.68 213.15 L742.08 212.89 L742.48 212.62 L742.89 212.33 L743.29 212.04 L743.69 211.74 L744.09 211.44 L744.49 211.14 L744.89 210.85 L745.29 210.57 L745.69 210.3 L746.09 210.04 L746.5 209.8 L746.9 209.58 L747.3 209.39 L747.7 209.22 L748.1 209.08 L748.5 208.98 L748.9 208.9 L749.3 208.86 L749.7 208.85 L750.11 208.88 L750.51 208.95 L750.91 209.07 L751.31 209.23 L751.71 209.42 L752.11 209.65 L752.51 209.91 L752.91 210.19 L753.31 210.5 L753.71 210.82 L754.12 211.15 L754.52 211.5 L754.92 211.84 L755.32 212.19 L755.72 212.52 L756.12 212.85 L756.52 213.17 L756.92 213.48 L757.32 213.77 L757.73 214.04 L758.13 214.29 L758.53 214.52 L758.93 214.74 L759.33 214.93 L759.73 215.11 L760.13 215.26 L760.53 215.4 L760.93 215.52 L761.34 215.63 L761.74 215.72 L762.14 215.8 L762.54 215.87 L762.94 215.93" stroke="#b05858" stroke-width="0.9" fill="none"/>
<line x1="712.1" y1="222.25" x2="709.5" y2="232.75" stroke="#2659d4" stroke-width="1.9" stroke-dasharray="4.2 2.6"/>
<line x1="757.6" y1="224.9" x2="760.25" y2="236.25" stroke="#2659d4" stroke-width="1.9" stroke-dasharray="4.2 2.6"/>
<text class="b" x="1.68" y="282.4" font-family='"Liberation Serif", serif' font-size="20" font-weight="bold" font-style="normal" fill="#000" textLength="23.24" lengthAdjust="spacingAndGlyphs">(c)</text>
<text class="b" x="94.47" y="316.2" font-family='"Liberation Serif", serif' font-size="14" font-weight="bold" font-style="normal" fill="#000" textLength="63.21" lengthAdjust="spacingAndGlyphs">10 µM Pip</text>
<text class="b" x="163.83" y="316.2" font-family='"Liberation Serif", serif' font-size="14" font-weight="bold" font-style="normal" fill="#000" textLength="36.87" lengthAdjust="spacingAndGlyphs">10 pA</text>
<path d="M204.9 305.3 L204.9 317.2 L220.9 317.2" stroke="#000" stroke-width="1.4" fill="none"/>
<text class="b" x="199.13" y="332.2" font-family='"Liberation Serif", serif' font-size="14" font-weight="bold" font-style="normal" fill="#000" textLength="35.22" lengthAdjust="spacingAndGlyphs">50 ms</text>
<text class="b" x="58.31" y="365" font-family='"Liberation Serif", serif' font-size="14.3" font-weight="bold" font-style="normal" fill="#000" textLength="22.9" lengthAdjust="spacingAndGlyphs">WT</text>
<text class="b" x="43.29" y="432.9" font-family='"Liberation Serif", serif' font-size="14.3" font-weight="bold" font-style="normal" fill="#000" textLength="39.37" lengthAdjust="spacingAndGlyphs">T551V</text>
<text class="b" x="43.26" y="495.6" font-family='"Liberation Serif", serif' font-size="14.3" font-weight="bold" font-style="normal" fill="#000" textLength="40.85" lengthAdjust="spacingAndGlyphs">E571A</text>
<line x1="95.5" y1="337.9" x2="222" y2="337.9" stroke="#F08C46" stroke-width="1.3" stroke-dasharray="3.7 2.6"/>
<line x1="95.5" y1="350.65" x2="222" y2="350.65" stroke="#F08C46" stroke-width="1.3" stroke-dasharray="3.7 2.6"/>
<path d="M95.5 346.33 L96.2 345.8 L96.9 345.88 L97.6 345.95 L98.3 346.08 L99 346.47 L99.7 345.69 L100.4 346.25 L101.1 346.3 L101.8 346.28 L102.5 346.25 L103.2 346.59 L103.9 346.26 L104.6 346.37 L105.3 346.28 L106 346.67 L106.7 345.49 L107.4 346.51 L108.1 346.02 L108.8 346.01 L109.5 345.79 L110.2 345.5 L110.9 345.98 L111.6 345.88 L112.3 346.26 L113 345.63 L113.7 346.56 L114.4 346.19 L115.1 346.02 L115.19 345.87 L115.21 337.95 L115.45 337.84 L115.69 338.03 L115.71 346.1 L115.8 346.04 L116.5 345.65 L117.2 346.01 L117.9 345.81 L118.6 346.15 L119.3 346.7 L120 346.3 L120.7 346 L121.4 345.58 L122.1 345.65 L122.8 345.56 L123.5 346.33 L124.2 345.86 L124.9 346.12 L125.6 345.9 L126.3 346.13 L127 346.55 L127.7 345.88 L128.4 345.99 L129.1 345.84 L129.8 346.38 L130.5 345.77 L131.2 345.74 L131.9 345.66 L132.6 345.65 L133.3 346.25 L134 346.92 L134.7 345.78 L135.4 346.4 L136.1 346.18 L136.8 345.75 L137.5 346.01 L138.2 346.03 L138.9 345.88 L139.6 346.72 L140.3 345.49 L141 346.22 L141.7 346.21 L142.4 345.91 L143.1 346.15 L143.8 346.38 L144.5 346.15 L144.59 346.23 L144.61 338.42 L145.2 337.55 L145.9 338.67 L146.6 338.93 L147.3 338.51 L148 338.52 L148.7 337.75 L149.4 338.16 L150.1 337.94 L150.39 338.01 L150.41 343.31 L150.8 342.74 L151.29 342.96 L151.31 337.59 L151.5 338.15 L152.2 338.23 L152.9 337.97 L153.6 337.97 L154.3 338.8 L155 337.81 L155.7 337.86 L156.14 337.94 L156.16 346.48 L156.4 346.77 L157.1 346.21 L157.8 345.87 L158.5 345.96 L159.2 346.44 L159.9 345.81 L160.6 346.56 L161.3 346.55 L162 346.12 L162.7 346.31 L163.4 346.34 L164.1 346.6 L164.8 345.76 L165.5 346.48 L166.2 345.98 L166.9 345.85 L167.6 346.13 L168.3 346.03 L169 345.78 L169.7 345.59 L170.4 345.8 L171.1 346.56 L171.8 346.73 L172.5 346.31 L173.2 346.48 L173.9 345.93 L174.6 346.08 L175.3 346.19 L176 345.75 L176.7 345.78 L177.4 346.13 L178.1 346 L178.8 345.76 L179.5 346.22 L180.2 346.02 L180.9 346.43 L181.6 346.1 L182.3 346 L183 346.14 L183.7 346.04 L184.4 345.89 L185.1 345.97 L185.8 346.34 L186.5 346.31 L187.2 346.51 L187.9 345.56 L188.6 345.97 L189.3 345.97 L189.39 346.15 L189.41 338.06 L190 338.04 L190.7 338.45 L191.4 338.26 L192.1 337.83 L192.8 338.63 L193.24 338.52 L193.26 345.92 L193.5 346.37 L194.2 345.86 L194.9 346.46 L195.6 346.03 L196.3 345.84 L197 345.98 L197.7 345.85 L198.4 346.16 L199.1 346.16 L199.8 346.11 L200.5 345.92 L201.2 344.93 L201.9 346.13 L202.6 345.49 L203.3 346.18 L204 346.46 L204.7 346.19 L205.4 345.98 L206.1 346.04 L206.8 346.06 L207.5 345.92 L208.2 345.91 L208.9 345.8 L209.6 346.48 L210.3 346.1 L211 346.41 L211.7 346.02 L212.4 346.12 L213.1 346.05 L213.8 346.25 L214.5 346.36 L215.2 346.18 L215.9 345.88 L216.6 345.85 L217.3 346.63 L218 346.01 L218.7 346.01 L219.4 346.57 L220.1 346.45 L220.8 346.27 L221.5 345.97" stroke="#0a0a0a" stroke-width="1.25" fill="none" stroke-linejoin="round"/>
<path d="M95.5 364.35 L96.2 363.73 L96.9 363.78 L97.6 363.55 L98.3 363.15 L99 363.17 L99.7 363.73 L100.4 363.73 L101.1 363.52 L101.8 363.23 L102.5 363.14 L103.2 363.5 L103.9 363.13 L104.6 363.89 L105.3 363.97 L106 364.51 L106.7 363.88 L107.4 363.41 L108.1 363.32 L108.8 362.5 L109.5 363.41 L110.2 363.54 L110.9 363.91 L111.6 363.8 L112.3 363.79 L113 363.67 L113.7 363.81 L114.4 364.06 L115.1 363.26 L115.8 363.45 L116.5 363.16 L117.2 364.12 L117.9 364.01 L118.6 363.84 L119.3 363.22 L120 363.66 L120.7 363.52 L121.4 363.63 L122.1 363.54 L122.8 363.77 L123.5 363.47 L124.2 363.87 L124.9 363.68 L125.6 363.51 L126.3 363.56 L127 363.46 L127.7 363.86 L128.4 363.51 L129.1 363.69 L129.8 363.47 L130.5 363.12 L131.2 363.89 L131.9 363.26 L132.6 363.82 L133.3 363.73 L134 363.07 L134.7 363.3 L135.4 363.44 L136.1 363.34 L136.8 363.22 L137.5 363.84 L138.2 363.52 L138.9 363.72 L139.6 363.46 L140.3 363.7 L141 363.36 L141.7 363.59 L142.4 363.79 L143.1 363.61 L143.8 363.45 L144.5 363.25 L145.2 363.65 L145.9 363.71 L146.29 363.52 L146.31 357.75 L146.6 358.17 L147.3 358.79 L148 357.9 L148.7 358.11 L149.4 358.12 L149.99 357.18 L150.01 363.64 L150.1 363.37 L150.8 364.04 L151.5 363.52 L151.79 363.35 L151.81 350.23 L152.2 350.35 L152.59 350.12 L152.61 363.58 L152.9 363.17 L153.6 363.53 L154.3 363.85 L155 364.23 L155.7 363.83 L156.4 363.69 L157.1 363.98 L157.39 363.93 L157.41 357.33 L157.8 357.15 L158.5 356.76 L159.2 356.88 L159.9 356.86 L160.6 356.9 L161.3 356.86 L162 356.55 L162.09 356.13 L162.11 363.39 L162.7 362.95 L163.4 363.62 L164.1 363.6 L164.8 363.06 L165.5 363.82 L166.2 363.88 L166.9 363.63 L167.6 364.13 L168.3 364.2 L168.69 363.21 L168.71 357.13 L169 356.94 L169.7 356.93 L170.4 357.1 L170.89 356.57 L170.91 363.41 L171.1 363.34 L171.8 363.36 L172.5 363.57 L173.2 363.14 L173.9 363.27 L174.6 363.78 L175.3 363.58 L176 363.72 L176.7 363 L177.4 363.35 L178.1 363.42 L178.8 363.61 L179.5 363.41 L180.2 363.9 L180.9 363.58 L181.6 363.61 L182.3 363.6 L183 363.83 L183.7 363.45 L184.4 363.96 L185.1 363.75 L185.8 363.65 L186.5 363.61 L187.2 363.77 L187.9 363.92 L188.6 363.9 L189.3 363.72 L190 363.88 L190.7 363.64 L191.4 364 L192.1 363.59 L192.8 362.94 L193.5 364.03 L194.2 363.63 L194.9 363.23 L195.6 363.54 L196.3 363.32 L197 364.27 L197.7 363.76 L198.4 363.1 L199.1 363.77 L199.8 363.47 L200.5 364.21 L201.2 363.26 L201.9 362.88 L202.6 363.62 L203.3 363.49 L204 363.47 L204.7 362.91 L205.4 363.74 L206.1 364.14 L206.8 362.99 L207.5 363.97 L208.2 363.42 L208.9 364.35 L209.6 363.74 L210.3 363.54 L211 363.95 L211.7 363.77 L212.4 363.41 L213.1 363.83 L213.8 363.44 L214.5 363.03 L215.2 364.25 L215.9 363.49 L216.6 363.41 L217.3 363.71 L218 363.1 L218.7 363.17 L219.4 363.44 L220.1 363.43 L220.8 363.62 L221.5 363.96" stroke="#0a0a0a" stroke-width="1.25" fill="none" stroke-linejoin="round"/>
<line x1="96.7" y1="346.85" x2="222" y2="346.85" stroke="#F08C46" stroke-width="0.9" stroke-dasharray="3.7 2.6"/>
<line x1="96.7" y1="364.35" x2="222" y2="364.35" stroke="#F08C46" stroke-width="0.9" stroke-dasharray="3.7 2.6"/>
<line x1="95" y1="405.15" x2="221.3" y2="405.15" stroke="#F08C46" stroke-width="1.3" stroke-dasharray="3.7 2.6"/>
<line x1="95" y1="422.5" x2="221.3" y2="422.5" stroke="#F08C46" stroke-width="1.3" stroke-dasharray="3.7 2.6"/>
<path d="M95 413.75 L95.7 414.06 L96.4 414.09 L97.1 413.55 L97.8 413.97 L98.5 413.6 L99.2 414.24 L99.9 414.05 L100.6 413.91 L101.3 413.47 L102 413.94 L102.7 413.65 L103.4 414.13 L104.1 413.86 L104.8 413.64 L105.5 414.2 L106.2 414.13 L106.9 413.71 L107.6 414.27 L108.3 413.8 L109 413.8 L109.7 413.94 L110.4 413.66 L111.1 413.76 L111.8 413.85 L112.5 414.39 L113.2 414.38 L113.9 413.82 L114.6 414.42 L115.3 413.89 L116 414.02 L116.7 414.18 L117.4 413.99 L118.1 414.67 L118.8 413.98 L119.5 413.52 L120.2 414.32 L120.9 413.77 L121.6 413.8 L122.3 412.94 L123 414.22 L123.7 414.16 L124.4 414.16 L125.1 414.21 L125.8 414.44 L126.5 413.89 L127.2 414.2 L127.9 413.66 L128.6 413.79 L129.3 414.24 L130 414.03 L130.7 413.47 L131.4 414.02 L132.1 413.84 L132.8 413.64 L133.5 414.04 L134.2 413.77 L134.9 413.4 L135.6 413.54 L136.3 414.47 L137 413.42 L137.7 413.97 L138.4 414.1 L139.1 414.1 L139.8 413.51 L140.5 413.8 L141.2 413.95 L141.9 414.16 L142.6 413.69 L143.3 413.53 L144 414.22 L144.7 414.25 L145.4 414.02 L146.1 413.71 L146.8 414.03 L147.5 413.93 L148.2 414.17 L148.9 413.5 L149.6 413.94 L150.3 413.85 L151 413.54 L151.7 413.97 L152.4 413.91 L153.1 413.77 L153.8 414.03 L154.5 413.45 L155.2 413.88 L155.9 414.04 L156.6 413.99 L157.3 414.24 L158 413.52 L158.7 413.42 L159.4 413.98 L160.1 414.05 L160.8 414.58 L161.5 414.1 L162.2 413.62 L162.9 414.16 L163.6 413.63 L164.3 413.42 L165 414.73 L165.7 414 L166.4 414.13 L166.79 414.08 L166.81 410.98 L167.05 410.49 L167.1 410.79 L167.29 410.07 L167.31 413.45 L167.8 414.36 L168.5 414.37 L169.2 414.06 L169.9 413.97 L170.6 413.95 L171.3 413.68 L172 414.39 L172.7 414.11 L173.4 414.06 L174.1 414.02 L174.8 414.24 L175.5 414.06 L176.2 414.14 L176.9 413.53 L177.6 414.06 L178.3 414.6 L179 413.73 L179.7 413.86 L180.4 414.19 L181.1 414.21 L181.8 414.1 L182.5 413.38 L183.2 414.06 L183.9 413.52 L184.29 413.64 L184.31 408.18 L184.55 407.91 L184.6 408.26 L184.79 409.01 L184.81 414.15 L185.3 414.13 L186 413.61 L186.7 413.69 L187.4 413.56 L188.1 413.73 L188.8 413.55 L189.5 413.69 L190.2 413.83 L190.9 413.58 L191.6 413.45 L192.3 413.46 L193 414.05 L193.29 413.92 L193.31 405.93 L193.7 405.93 L194.4 405.49 L195.1 405.81 L195.8 405.14 L196.5 406.33 L197.2 405.98 L197.9 405.53 L198.29 405.23 L198.31 409.12 L198.6 408.4 L198.65 408.75 L198.99 409.24 L199.01 405.62 L199.3 405.44 L200 405.9 L200.7 405.27 L201.4 405.69 L202.1 405.44 L202.8 405.33 L203.5 405.75 L204.2 405.28 L204.9 406.21 L205.29 405.41 L205.31 410.64 L205.6 409.65 L205.65 410.19 L205.99 409.62 L206.01 405.17 L206.3 405.65 L207 405.82 L207.7 405.19 L208.4 405.98 L209.1 405.34 L209.49 405.64 L209.51 414.02 L209.8 414.09 L210.5 413.32 L211.2 414.42 L211.9 414.08 L212.6 413.76 L213.3 413.57 L214 413.36 L214.7 413.46 L215.4 414.07 L216.1 413.79 L216.8 413.54 L217.5 413.73 L218.2 414.4 L218.9 413.79 L219.6 413.71 L220.3 414.33 L221 414.05" stroke="#0a0a0a" stroke-width="1.25" fill="none" stroke-linejoin="round"/>
<path d="M95 431.41 L95.7 431.21 L96.4 430.9 L97.1 431.03 L97.8 431.25 L98.5 431.33 L99.2 431.51 L99.9 431.58 L100.6 431.47 L101.3 431.47 L102 431.08 L102.7 430.71 L103.4 431.23 L104.1 431.09 L104.8 431.19 L105.5 431.31 L106.2 431 L106.9 431.04 L107.6 431.37 L108.3 431.44 L109 431.19 L109.7 431.56 L110.4 431.33 L111.1 431.07 L111.8 431.41 L112.5 432 L113.2 431.18 L113.9 431.77 L114.6 431.84 L115.3 431.88 L116 431.14 L116.7 432.04 L117.4 431.44 L118.1 431.32 L118.8 431.33 L119.5 431.59 L120.2 431.42 L120.9 431.34 L121.6 431.81 L122.3 431.17 L123 431.07 L123.7 431.65 L124.4 431.63 L125.1 431.75 L125.8 431.06 L126.5 431.75 L127.2 431.55 L127.9 431.96 L128.6 431 L129.3 431.47 L130 431.31 L130.7 430.89 L131.4 431.17 L132.1 431.76 L132.8 431.25 L133.5 431.17 L134.2 431.68 L134.9 431.72 L135.6 431.72 L136.3 431.15 L137 431.38 L137.7 431.73 L138.4 431.19 L139.1 431.16 L139.8 431.67 L140.5 431.9 L141.2 431.03 L141.9 430.57 L142.6 430.94 L143.3 431.08 L144 431.36 L144.7 431.6 L145.4 431.35 L146.1 431.18 L146.8 431.45 L147.5 431.09 L148.2 431.38 L148.9 431.19 L149.6 432.26 L150.3 431.66 L151 431.13 L151.7 431.08 L152.4 431.26 L153.1 430.87 L153.8 431.17 L154.5 431.16 L155.2 431.68 L155.9 431.26 L156.6 431.15 L157.3 430.97 L158 431.02 L158.7 431.38 L159.4 431.33 L160.1 431.76 L160.8 431.2 L161.5 431.74 L162.2 431.48 L162.9 431.4 L163.6 430.76 L164.3 430.99 L165 431.64 L165.7 431.85 L166.4 431.47 L167.1 431.64 L167.29 431.27 L167.31 423.88 L167.55 423.79 L167.79 424.31 L167.8 424.11 L167.81 431.33 L168.5 431.29 L169.2 431.58 L169.9 431.5 L170.6 431.13 L171.3 431.95 L172 431.48 L172.7 431.4 L173.4 431.87 L174.1 431.73 L174.8 431.37 L175.5 431.57 L176.2 431.06 L176.9 431.19 L177.49 430.68 L177.51 424.59 L177.6 423.59 L178.3 424.42 L179 423.93 L179.7 423.89 L180.09 424.14 L180.11 431.49 L180.4 431.6 L181.1 431.97 L181.8 431.51 L182.5 431.68 L183.2 431.21 L183.9 431.63 L184.6 431.45 L185.3 431.25 L185.89 431.37 L185.91 424.18 L186 424.26 L186.7 424.33 L187.4 424.04 L187.99 423.96 L188.01 431.64 L188.1 430.86 L188.8 431.2 L189.5 431.9 L190.2 430.53 L190.9 431.18 L191.6 431.62 L192.3 430.87 L193 432.23 L193.7 430.57 L194.4 431.86 L195.1 431.9 L195.8 431.69 L195.89 431.33 L195.91 424.31 L196.5 423.91 L197.2 424.46 L197.29 423.84 L197.31 431.31 L197.9 431.72 L198.6 431.04 L199.3 431.28 L200 431.45 L200.59 430.97 L200.61 424.57 L200.7 424.31 L201.4 423.72 L202.1 424.18 L202.8 423.95 L203.5 423.99 L203.69 424.22 L203.71 431.17 L204.2 431.71 L204.59 431.17 L204.61 424.51 L204.9 424.19 L205.6 424.47 L206.3 424.03 L207 424.04 L207.7 423.83 L208.4 424.38 L209.1 424.5 L209.8 424.88 L210.5 424.61 L211.2 424.28 L211.9 424.13 L212.6 424.32 L213.3 424.19 L214 424.67 L214.19 424.5 L214.21 431.13 L214.7 431.18 L215.4 431.84 L216.1 431.5 L216.8 431.33 L217.5 431.78 L218.2 431.28 L218.9 431.31 L219.6 431.25 L220.3 430.77 L221 431.68" stroke="#0a0a0a" stroke-width="1.25" fill="none" stroke-linejoin="round"/>
<line x1="96.2" y1="414.65" x2="221.3" y2="414.65" stroke="#F08C46" stroke-width="0.9" stroke-dasharray="3.7 2.6"/>
<line x1="96.2" y1="432.15" x2="221.3" y2="432.15" stroke="#F08C46" stroke-width="0.9" stroke-dasharray="3.7 2.6"/>
<line x1="95.5" y1="470.5" x2="222.5" y2="470.5" stroke="#F08C46" stroke-width="1.3" stroke-dasharray="3.7 2.6"/>
<line x1="95.5" y1="487.65" x2="222.5" y2="487.65" stroke="#F08C46" stroke-width="1.3" stroke-dasharray="3.7 2.6"/>
<path d="M95.5 478.01 L96.2 478.22 L96.9 478.16 L97.6 478.63 L98.3 478.38 L99 478.4 L99.7 477.86 L100.4 478.37 L101.1 477.93 L101.8 478.5 L102.5 478.52 L103.2 478.39 L103.9 479.05 L104.6 478.57 L105.3 478.59 L106 478.45 L106.7 478.34 L107.4 478.71 L108.1 478.75 L108.8 477.98 L109.5 478.74 L110.2 478.56 L110.9 478.71 L111.6 478.55 L112.3 478 L113 478.02 L113.7 478.98 L114.4 478.48 L115.1 477.95 L115.8 478.51 L116.5 478.28 L117.2 477.81 L117.9 477.67 L118.6 477.89 L119.3 478.49 L120 478.38 L120.7 478.32 L121.4 478.49 L122.1 478.59 L122.8 477.73 L123.5 478.3 L124.2 478.14 L124.9 478.01 L125.6 478.22 L126.3 478.36 L127 478.31 L127.7 477.93 L128.4 478.25 L129.1 479.05 L129.8 478.06 L130.5 477.86 L131.2 478.49 L131.9 478.59 L132.6 478.55 L133.3 478.04 L134 478.72 L134.7 478.15 L135.4 478.04 L136.1 478.21 L136.8 478.37 L137.5 478.63 L138.2 478.6 L138.9 478.39 L138.99 478.7 L139.01 470.73 L139.6 470.99 L140.3 470.25 L141 470.2 L141.59 470.95 L141.61 477.96 L141.7 478.3 L142.4 478.37 L143.1 478.24 L143.8 478.25 L144.5 478.85 L145.09 477.59 L145.11 470.98 L145.2 471.43 L145.9 470.71 L146.6 470.69 L147.3 470.93 L148 471.29 L148.7 470.32 L149.4 470.73 L150.1 470.64 L150.8 470.88 L151.5 470.75 L152.2 470.91 L152.9 470.57 L153.6 470.72 L154.3 470.49 L155 470.49 L155.7 470.65 L156.14 470.65 L156.16 478.02 L156.4 478.9 L157.1 478.36 L157.8 477.96 L158.5 478.75 L159.2 478.16 L159.9 478.56 L160.6 478.39 L161.3 478.48 L162 478.45 L162.7 478.22 L163.4 478.41 L164.1 479.05 L164.8 477.68 L165.5 478.42 L166.2 478.54 L166.9 478.06 L167.6 477.96 L168.3 479.09 L169 478.28 L169.7 479.07 L170.4 478.57 L171.1 478.42 L171.8 478.55 L172.5 478.6 L173.2 478.78 L173.9 478.54 L174.6 478.45 L175.3 478.46 L176 478.83 L176.7 478.66 L177.4 478.08 L178.1 478.2 L178.8 478.51 L179.5 478.2 L180.2 478.28 L180.9 478.09 L181.6 478.32 L182.3 478.54 L183 478.72 L183.7 478.4 L184.4 479.06 L185.1 478.38 L185.8 479.42 L186.5 478.72 L187.2 478.56 L187.9 478.24 L188.6 477.5 L189.3 478.35 L190 478.46 L190.7 479.02 L191.4 477.96 L192.1 479.01 L192.8 478.32 L193.5 478.63 L194.2 477.59 L194.9 478.44 L195.6 478.29 L196.3 478.62 L197 478.43 L197.7 478.03 L198.4 478.7 L199.1 478.62 L199.8 478.59 L200.5 478.72 L201.2 478.75 L201.9 478.39 L202.6 477.97 L203.3 477.96 L204 478.83 L204.7 478.63 L205.4 478.43 L206.1 478.26 L206.8 478.41 L207.5 478.41 L208.2 478.29 L208.9 478.18 L209.6 479.09 L209.69 478.47 L209.71 475.31 L209.95 475.08 L210.19 475.27 L210.21 478.63 L210.3 478.64 L211 478.33 L211.7 478.42 L212.4 478.3 L213.1 478.05 L213.8 478.82 L214.5 478.52 L215.09 479.19 L215.11 470.46 L215.2 470.66 L215.9 470.98 L216.6 470.62 L217.3 470.26 L217.74 470.4 L217.76 478.43 L218 478.51 L218.7 478.37 L219.4 478.72 L220.1 478.72 L220.8 478.5 L221.5 478.41 L222.2 478.32" stroke="#0a0a0a" stroke-width="1.25" fill="none" stroke-linejoin="round"/>
<path d="M95.5 496.08 L96.2 496.19 L96.9 495.92 L97.6 496.04 L98.3 495.8 L99 495.45 L99.7 495.58 L100.4 496.15 L101.1 496.04 L101.8 496.41 L102.5 495.92 L103.2 496.18 L103.9 496.32 L104.6 496.22 L105.3 495.71 L106 495.84 L106.7 495.94 L107.4 495.58 L108.1 496.05 L108.8 496.23 L109.5 495.75 L110.2 496.53 L110.9 495.81 L111.6 495.84 L112.3 495.82 L112.49 495.67 L112.51 488.03 L112.75 487.91 L112.99 488.43 L113 488.09 L113.01 496.07 L113.7 495.83 L114.4 495.45 L115.1 495.87 L115.8 495.63 L116.5 496.2 L117.2 495.89 L117.9 496.43 L118.6 496.14 L119.3 496.17 L120 495.97 L120.7 495.97 L121.4 496.11 L122.1 496.2 L122.8 495.67 L123.5 496.06 L124.2 496.74 L124.9 495.87 L125.6 495.82 L126.3 495.68 L127 495.44 L127.7 496.28 L128.4 495.92 L129.1 496 L129.8 496.49 L130.5 496.7 L131.2 495.62 L131.9 496.24 L132.6 496.1 L133.3 496.03 L134 496.05 L134.7 495.89 L135.4 496.41 L136.1 496.1 L136.8 496.01 L137.5 496.3 L138.2 496.19 L138.9 496.05 L139.6 496.01 L140.3 496.46 L141 496.06 L141.7 495.87 L142.4 495.63 L143.1 495.79 L143.8 495.56 L144.5 495.94 L145.2 495.98 L145.9 495.24 L146.6 495.91 L147.3 496.11 L148 495.95 L148.7 495.6 L149.4 496.31 L150.1 495.68 L150.8 495.51 L151.5 495.55 L152.2 495.9 L152.9 496.22 L153.6 496.27 L154.3 495.97 L155 495.52 L155.7 495.69 L156.4 495.61 L157.1 495.84 L157.8 495.33 L158.5 495.94 L159.2 496.11 L159.9 495.85 L160.6 496.05 L161.3 495.6 L162 495.43 L162.7 495.7 L163.09 496.27 L163.11 488.23 L163.4 487.75 L164.1 488.29 L164.8 487.8 L165.5 488.38 L166.2 488.05 L166.9 487.76 L166.99 488.15 L167.01 495.65 L167.6 495.6 L168.3 495.44 L168.39 495.98 L168.41 487.88 L169 487.88 L169.7 487.77 L170.4 488.36 L171.1 487.76 L171.8 487.67 L172.5 488.3 L173.2 488.35 L173.59 488.01 L173.61 495.34 L173.9 495.71 L174.6 496.1 L175.3 495.91 L176 496.4 L176.7 495.46 L177.4 496.12 L178.1 495.7 L178.8 496.32 L179.5 495.88 L180.2 496.23 L180.9 495.69 L181.6 495.45 L182.3 495.54 L183 495.71 L183.7 495.57 L184.4 496.28 L185.1 496.33 L185.8 495.99 L186.5 495.57 L187.2 495.86 L187.9 495.68 L188.6 496.37 L189.3 496 L190 496.06 L190.7 495.77 L191.4 495.26 L192.1 495.65 L192.8 495.54 L193.5 496.02 L194.2 495.93 L194.9 495.64 L195.6 495.78 L196.3 496.4 L197 495.59 L197.7 495.61 L198.4 495.83 L199.1 495.68 L199.8 495.76 L200.5 496.07 L201.2 496.45 L201.9 495.33 L202.6 495.89 L203.3 495.91 L204 495.87 L204.7 495.84 L205.4 495.79 L206.1 496.22 L206.8 495.75 L207.5 495.86 L207.89 495.9 L207.91 493.03 L208.15 492.95 L208.2 493.32 L208.39 493 L208.41 495.96 L208.9 495.88 L209.6 495.58 L210.3 495.63 L211 495.56 L211.7 495.96 L212.4 495.67 L213.1 495.56 L213.8 495.98 L214.5 496.07 L215.2 495.34 L215.9 496.44 L216.6 495.91 L217.3 495.87 L218 496.24 L218.7 495.92 L219.4 495.71 L220.1 496.6 L220.8 495.56 L221.5 495.87 L222.2 496.17" stroke="#0a0a0a" stroke-width="1.25" fill="none" stroke-linejoin="round"/>
<line x1="96.7" y1="479.15" x2="222.5" y2="479.15" stroke="#F08C46" stroke-width="0.9" stroke-dasharray="3.7 2.6"/>
<line x1="96.7" y1="496.65" x2="222.5" y2="496.65" stroke="#F08C46" stroke-width="0.9" stroke-dasharray="3.7 2.6"/>
<text class="b" transform="translate(250.3 511.3) rotate(-90)" x="0" y="0" font-family='"Liberation Serif", serif' font-size="17.4" font-weight="bold" fill="#000" textLength="77.56" lengthAdjust="spacingAndGlyphs">Counts (×</text>
<text class="b" transform="translate(250.3 422.19) rotate(-90)" x="0" y="0" font-family='"Liberation Serif", serif' font-size="17.4" font-weight="bold" fill="#000" textLength="40.45" lengthAdjust="spacingAndGlyphs">1000)</text>
<text class="b" x="273.71" y="542.1" font-family='"Liberation Serif", serif' font-size="18" font-weight="bold" font-style="normal" fill="#000" textLength="103.28" lengthAdjust="spacingAndGlyphs">Current (pA)</text>
<line x1="272.5" y1="308.6" x2="272.5" y2="363.25" stroke="#555" stroke-width="1.3"/>
<line x1="271.85" y1="362.6" x2="370.4" y2="362.6" stroke="#555" stroke-width="1.3"/>
<line x1="270.7" y1="308.6" x2="272.5" y2="308.6" stroke="#555" stroke-width="0.8"/>
<text x="259.76" y="312.02" font-family='"Liberation Sans", sans-serif' font-size="9.8" font-weight="normal" font-style="normal" fill="#1a1a1a" textLength="11.34" lengthAdjust="spacingAndGlyphs">20</text>
<line x1="270.7" y1="335.6" x2="272.5" y2="335.6" stroke="#555" stroke-width="0.8"/>
<text x="259.76" y="339.02" font-family='"Liberation Sans", sans-serif' font-size="9.8" font-weight="normal" font-style="normal" fill="#1a1a1a" textLength="11.34" lengthAdjust="spacingAndGlyphs">10</text>
<line x1="270.7" y1="362.6" x2="272.5" y2="362.6" stroke="#555" stroke-width="0.8"/>
<text x="265.43" y="366.02" font-family='"Liberation Sans", sans-serif' font-size="9.8" font-weight="normal" font-style="normal" fill="#1a1a1a" textLength="5.67" lengthAdjust="spacingAndGlyphs">0</text>
<line x1="287.3" y1="362.6" x2="287.3" y2="364.4" stroke="#555" stroke-width="0.8"/>
<line x1="301.06" y1="362.6" x2="301.06" y2="364.4" stroke="#555" stroke-width="0.8"/>
<line x1="314.82" y1="362.6" x2="314.82" y2="364.4" stroke="#555" stroke-width="0.8"/>
<line x1="328.58" y1="362.6" x2="328.58" y2="364.4" stroke="#555" stroke-width="0.8"/>
<line x1="342.34" y1="362.6" x2="342.34" y2="364.4" stroke="#555" stroke-width="0.8"/>
<line x1="356.1" y1="362.6" x2="356.1" y2="364.4" stroke="#555" stroke-width="0.8"/>
<line x1="369.86" y1="362.6" x2="369.86" y2="364.4" stroke="#555" stroke-width="0.8"/>
<path d="M272.16 361.36 L272.49 361.16 L272.82 360.93 L273.15 360.66 L273.48 360.37 L273.81 360.03 L274.14 359.65 L274.47 359.23 L274.8 358.76 L275.13 358.24 L275.46 357.66 L275.79 357.02 L276.12 356.32 L276.45 355.56 L276.78 354.73 L277.11 353.83 L277.44 352.85 L277.77 351.81 L278.1 350.69 L278.43 349.49 L278.75 348.22 L279.08 346.87 L279.41 345.46 L279.74 343.97 L280.07 342.42 L280.4 340.82 L280.73 339.15 L281.06 337.45 L281.39 335.7 L281.72 333.92 L282.05 332.13 L282.38 330.32 L282.71 328.51 L283.04 326.72 L283.37 324.95 L283.7 323.22 L284.03 321.54 L284.36 319.93 L284.69 318.39 L285.02 316.95 L285.35 315.6 L285.68 314.37 L286 313.26 L286.33 312.29 L286.66 311.46 L286.99 310.78 L287.32 310.26 L287.65 309.91 L287.98 309.71 L288.31 309.69 L288.64 309.8 L288.97 310.05 L289.3 310.43 L289.63 310.94 L289.96 311.57 L290.29 312.33 L290.62 313.2 L290.95 314.17 L291.28 315.25 L291.61 316.42 L291.94 317.68 L292.27 319.01 L292.6 320.42 L292.93 321.88 L293.25 323.39 L293.58 324.93 L293.91 326.51 L294.24 328.12 L294.57 329.73 L294.9 331.35 L295.23 332.96 L295.56 334.56 L295.89 336.15 L296.22 337.7 L296.55 339.23 L296.88 340.71 L297.21 342.16 L297.54 343.56 L297.87 344.9 L298.2 346.2 L298.53 347.43 L298.86 348.61 L299.19 349.73 L299.52 350.8 L299.85 351.8 L300.18 352.74 L300.5 353.62 L300.83 354.44 L301.16 355.21 L301.49 355.92 L301.82 356.58 L302.15 357.19 L302.48 357.75 L302.81 358.26 L303.14 358.73 L303.47 359.15 L303.8 359.54 L304.13 359.89 L304.46 360.21 L304.79 360.49 L305.12 360.75 L305.45 360.98 L305.78 361.18 L306.11 361.36 L306.44 361.52 L306.77 361.67 L307.1 361.79 L307.43 361.9 L307.75 362 L308.08 362.08 L308.41 362.16 L308.74 362.22 L309.07 362.28 L309.4 362.33 L309.73 362.37 L310.06 362.4 L310.39 362.43 L310.72 362.46 L311.05 362.48 L311.38 362.5" stroke="#a0a8a8" stroke-width="0.9" fill="none"/>
<path d="M272.16 362.6 L272.16 361.81 L273.54 361.81 L273.54 360.79 L274.92 360.79 L274.92 358.83 L276.29 358.83 L276.29 355.2 L277.67 355.2 L277.67 350.59 L279.04 350.59 L279.04 343.19 L280.42 343.19 L280.42 333.93 L281.8 333.93 L281.8 324.73 L283.17 324.73 L283.17 317.38 L284.55 317.38 L284.55 310.1 L285.92 310.1 L285.92 308.78 L287.3 308.78 L287.3 309.75 L288.68 309.75 L288.68 312.33 L290.05 312.33 L290.05 317.3 L291.43 317.3 L291.43 323.7 L292.8 323.7 L292.8 330.13 L294.18 330.13 L294.18 337.2 L295.56 337.2 L295.56 342.54 L296.93 342.54 L296.93 347.55 L298.31 347.55 L298.31 351.94 L299.68 351.94 L299.68 355.17 L301.06 355.17 L301.06 357.76 L302.44 357.76 L302.44 359.36 L303.81 359.36 L303.81 360.58 L305.19 360.58 L305.19 361.46 L306.56 361.46 L306.56 361.94 L307.94 361.94 L307.94 362.24 L309.32 362.24 L309.32 362.41 L310.69 362.41 L310.69 362.5 L312.07 362.5 L312.07 362.55 L313.44 362.55 L313.44 362.58 L314.82 362.58 L314.82 362.6 Z" fill="#f47f7f" fill-opacity="1" stroke="none"/>
<line x1="272.16" y1="362.6" x2="272.16" y2="361.81" stroke="#f99" stroke-width="0.35"/>
<line x1="273.54" y1="362.6" x2="273.54" y2="360.79" stroke="#f99" stroke-width="0.35"/>
<line x1="274.92" y1="362.6" x2="274.92" y2="358.83" stroke="#f99" stroke-width="0.35"/>
<line x1="276.29" y1="362.6" x2="276.29" y2="355.2" stroke="#f99" stroke-width="0.35"/>
<line x1="277.67" y1="362.6" x2="277.67" y2="350.59" stroke="#f99" stroke-width="0.35"/>
<line x1="279.04" y1="362.6" x2="279.04" y2="343.19" stroke="#f99" stroke-width="0.35"/>
<line x1="280.42" y1="362.6" x2="280.42" y2="333.93" stroke="#f99" stroke-width="0.35"/>
<line x1="281.8" y1="362.6" x2="281.8" y2="324.73" stroke="#f99" stroke-width="0.35"/>
<line x1="283.17" y1="362.6" x2="283.17" y2="317.38" stroke="#f99" stroke-width="0.35"/>
<line x1="284.55" y1="362.6" x2="284.55" y2="310.1" stroke="#f99" stroke-width="0.35"/>
<line x1="285.92" y1="362.6" x2="285.92" y2="308.78" stroke="#f99" stroke-width="0.35"/>
<line x1="287.3" y1="362.6" x2="287.3" y2="309.75" stroke="#f99" stroke-width="0.35"/>
<line x1="288.68" y1="362.6" x2="288.68" y2="312.33" stroke="#f99" stroke-width="0.35"/>
<line x1="290.05" y1="362.6" x2="290.05" y2="317.3" stroke="#f99" stroke-width="0.35"/>
<line x1="291.43" y1="362.6" x2="291.43" y2="323.7" stroke="#f99" stroke-width="0.35"/>
<line x1="292.8" y1="362.6" x2="292.8" y2="330.13" stroke="#f99" stroke-width="0.35"/>
<line x1="294.18" y1="362.6" x2="294.18" y2="337.2" stroke="#f99" stroke-width="0.35"/>
<line x1="295.56" y1="362.6" x2="295.56" y2="342.54" stroke="#f99" stroke-width="0.35"/>
<line x1="296.93" y1="362.6" x2="296.93" y2="347.55" stroke="#f99" stroke-width="0.35"/>
<line x1="298.31" y1="362.6" x2="298.31" y2="351.94" stroke="#f99" stroke-width="0.35"/>
<line x1="299.68" y1="362.6" x2="299.68" y2="355.17" stroke="#f99" stroke-width="0.35"/>
<line x1="301.06" y1="362.6" x2="301.06" y2="357.76" stroke="#f99" stroke-width="0.35"/>
<line x1="302.44" y1="362.6" x2="302.44" y2="359.36" stroke="#f99" stroke-width="0.35"/>
<line x1="303.81" y1="362.6" x2="303.81" y2="360.58" stroke="#f99" stroke-width="0.35"/>
<line x1="305.19" y1="362.6" x2="305.19" y2="361.46" stroke="#f99" stroke-width="0.35"/>
<line x1="306.56" y1="362.6" x2="306.56" y2="361.94" stroke="#f99" stroke-width="0.35"/>
<line x1="307.94" y1="362.6" x2="307.94" y2="362.24" stroke="#f99" stroke-width="0.35"/>
<line x1="309.32" y1="362.6" x2="309.32" y2="362.41" stroke="#f99" stroke-width="0.35"/>
<line x1="310.69" y1="362.6" x2="310.69" y2="362.5" stroke="#f99" stroke-width="0.35"/>
<line x1="312.07" y1="362.6" x2="312.07" y2="362.55" stroke="#f99" stroke-width="0.35"/>
<line x1="313.44" y1="362.6" x2="313.44" y2="362.58" stroke="#f99" stroke-width="0.35"/>
<path d="M313.44 362.6 L313.44 362.43 L314.82 362.43 L314.82 362.49 L316.2 362.49 L316.2 362.4 L317.57 362.4 L317.57 362.47 L318.95 362.47 L318.95 362.41 L320.32 362.41 L320.32 362.43 L321.7 362.43 L321.7 362.37 L323.08 362.37 L323.08 362.42 L324.45 362.42 L324.45 362.35 L325.83 362.35 L325.83 362.45 L327.2 362.45 L327.2 362.32 L328.58 362.32 L328.58 362.35 L329.96 362.35 L329.96 362.26 L331.33 362.26 L331.33 362.21 L332.71 362.21 L332.71 362.02 L334.08 362.02 L334.08 362.39 L335.46 362.39 L335.46 361.93 L336.84 361.93 L336.84 362.22 L338.21 362.22 L338.21 361.57 L339.59 361.57 L339.59 362.27 L340.96 362.27 L340.96 362.02 L342.34 362.02 L342.34 362.18 L343.72 362.18 L343.72 361.4 L345.09 361.4 L345.09 362.14 L346.47 362.14 L346.47 361.89 L347.84 361.89 L347.84 362.09 L349.22 362.09 L349.22 362.36 L350.6 362.36 L350.6 362.19 L351.97 362.19 L351.97 362.14 L353.35 362.14 L353.35 362.3 L354.72 362.3 L354.72 362.25 L356.1 362.25 L356.1 362.39 L357.48 362.39 L357.48 362.39 L358.85 362.39 L358.85 362.43 L360.23 362.43 L360.23 362.4 L361.6 362.4 L361.6 362.33 L362.98 362.33 L362.98 362.41 L364.36 362.41 L364.36 362.43 L365.73 362.43 L365.73 362.47 L367.11 362.47 L367.11 362.47 L368.48 362.47 L368.48 362.6 Z" fill="#f47f7f" fill-opacity="1" stroke="none"/>
<path d="M286.41 308.87 L286.64 308.9 L286.88 309 L287.12 309.16 L287.36 309.39 L287.6 309.67 L287.84 310.02 L288.08 310.43 L288.32 310.9 L288.55 311.43 L288.79 312.01 L289.03 312.65 L289.27 313.33 L289.51 314.07 L289.75 314.85 L289.99 315.68 L290.23 316.55 L290.46 317.45 L290.7 318.39 L290.94 319.37 L291.18 320.37 L291.42 321.4 L291.66 322.46 L291.9 323.53 L292.14 324.62 L292.38 325.72 L292.61 326.84 L292.85 327.96 L293.09 329.09 L293.33 330.22 L293.57 331.35 L293.81 332.48 L294.05 333.6 L294.29 334.71 L294.52 335.82 L294.76 336.91 L295 337.98 L295.24 339.04 L295.48 340.08 L295.72 341.1 L295.96 342.1 L296.2 343.08 L296.43 344.03 L296.67 344.96 L296.91 345.86 L297.15 346.73 L297.39 347.58 L297.63 348.39 L297.87 349.18 L298.11 349.95 L298.34 350.68 L298.58 351.38 L298.82 352.06 L299.06 352.7 L299.3 353.32 L299.54 353.91 L299.78 354.47 L300.02 355.01 L300.25 355.51 L300.49 356 L300.73 356.45 L300.97 356.89 L301.21 357.29 L301.45 357.68 L301.69 358.04 L301.93 358.38 L302.16 358.7 L302.4 359 L302.64 359.28 L302.88 359.55 L303.12 359.79 L303.36 360.02 L303.6 360.23 L303.84 360.43 L304.08 360.61 L304.31 360.78 L304.55 360.94 L304.79 361.09 L305.03 361.22 L305.27 361.35 L305.51 361.46 L305.75 361.57 L305.99 361.66 L306.22 361.75 L306.46 361.83 L306.7 361.91 L306.94 361.98 L307.18 362.04 L307.42 362.09 L307.66 362.14 L307.9 362.19 L308.13 362.23 L308.37 362.27 L308.61 362.31 L308.85 362.34 L309.09 362.37 L309.33 362.39 L309.57 362.41 L309.81 362.43 L310.04 362.45 L310.28 362.47 L310.52 362.48 L310.76 362.5 L311 362.51 L311.24 362.52 L311.48 362.53 L311.72 362.54 L311.95 362.55 L312.19 362.55 L312.43 362.56 L312.67 362.56 L312.91 362.57 L313.15 362.57 L313.39 362.58 L313.63 362.58 L313.86 362.58 L314.1 362.58 L314.34 362.59 L314.58 362.59 L314.82 362.59" stroke="#6a2020" stroke-width="0.9" fill="none"/>
<path d="M314.82 362.6 L315.27 362.6 L315.72 362.6 L316.17 362.6 L316.62 362.6 L317.07 362.6 L317.53 362.6 L317.98 362.6 L318.43 362.6 L318.88 362.6 L319.33 362.6 L319.78 362.6 L320.23 362.6 L320.68 362.59 L321.13 362.59 L321.58 362.59 L322.04 362.59 L322.49 362.59 L322.94 362.58 L323.39 362.58 L323.84 362.58 L324.29 362.57 L324.74 362.57 L325.19 362.56 L325.64 362.56 L326.09 362.55 L326.54 362.54 L327 362.53 L327.45 362.52 L327.9 362.51 L328.35 362.5 L328.8 362.48 L329.25 362.47 L329.7 362.45 L330.15 362.43 L330.6 362.41 L331.05 362.39 L331.51 362.37 L331.96 362.34 L332.41 362.31 L332.86 362.29 L333.31 362.26 L333.76 362.23 L334.21 362.2 L334.66 362.17 L335.11 362.13 L335.56 362.1 L336.02 362.07 L336.47 362.04 L336.92 362.01 L337.37 361.98 L337.82 361.95 L338.27 361.92 L338.72 361.89 L339.17 361.87 L339.62 361.85 L340.07 361.83 L340.52 361.82 L340.98 361.81 L341.43 361.8 L341.88 361.79 L342.33 361.79 L342.78 361.79 L343.23 361.8 L343.68 361.81 L344.13 361.82 L344.58 361.83 L345.03 361.85 L345.49 361.87 L345.94 361.89 L346.39 361.92 L346.84 361.95 L347.29 361.97 L347.74 362 L348.19 362.04 L348.64 362.07 L349.09 362.1 L349.54 362.13 L349.99 362.16 L350.45 362.2 L350.9 362.23 L351.35 362.26 L351.8 362.29 L352.25 362.31 L352.7 362.34 L353.15 362.36 L353.6 362.39 L354.05 362.41 L354.5 362.43 L354.96 362.45 L355.41 362.47 L355.86 362.48 L356.31 362.5 L356.76 362.51 L357.21 362.52 L357.66 362.53 L358.11 362.54 L358.56 362.55 L359.01 362.56 L359.46 362.56 L359.92 362.57 L360.37 362.57 L360.82 362.58 L361.27 362.58 L361.72 362.58 L362.17 362.59 L362.62 362.59 L363.07 362.59 L363.52 362.59 L363.97 362.59 L364.43 362.6 L364.88 362.6 L365.33 362.6 L365.78 362.6 L366.23 362.6 L366.68 362.6 L367.13 362.6 L367.58 362.6 L368.03 362.6 L368.48 362.6" stroke="#8a2a2a" stroke-width="0.8" fill="none"/>
<line x1="323.1" y1="315.9" x2="323.1" y2="341.2" stroke="#999" stroke-width="0.9"/>
<line x1="322.65" y1="340.75" x2="368.6" y2="340.75" stroke="#999" stroke-width="0.9"/>
<line x1="321.9" y1="320.87" x2="323.1" y2="320.87" stroke="#999" stroke-width="0.8"/>
<text x="311.11" y="323.14" font-family='"Liberation Sans", sans-serif' font-size="6.5" font-weight="normal" font-style="normal" fill="#444">400</text>
<line x1="321.9" y1="330.81" x2="323.1" y2="330.81" stroke="#999" stroke-width="0.8"/>
<text x="311.11" y="333.08" font-family='"Liberation Sans", sans-serif' font-size="6.5" font-weight="normal" font-style="normal" fill="#444">200</text>
<line x1="321.9" y1="340.75" x2="323.1" y2="340.75" stroke="#999" stroke-width="0.8"/>
<text x="318.34" y="343.02" font-family='"Liberation Sans", sans-serif' font-size="6.5" font-weight="normal" font-style="normal" fill="#444">0</text>
<line x1="324" y1="340.75" x2="324" y2="341.95" stroke="#999" stroke-width="0.8"/>
<line x1="341.5" y1="340.75" x2="341.5" y2="341.95" stroke="#999" stroke-width="0.8"/>
<line x1="359" y1="340.75" x2="359" y2="341.95" stroke="#999" stroke-width="0.8"/>
<text x="322.14" y="347.9" font-family='"Liberation Sans", sans-serif' font-size="6.6" font-weight="normal" font-style="normal" fill="#444">6</text>
<text x="339.66" y="347.9" font-family='"Liberation Sans", sans-serif' font-size="6.6" font-weight="normal" font-style="normal" fill="#444">8</text>
<text x="355.21" y="347.9" font-family='"Liberation Sans", sans-serif' font-size="6.6" font-weight="normal" font-style="normal" fill="#444">10</text>
<path d="M323.12 340.75 L323.12 337.47 L325.05 337.47 L325.05 336.76 L326.98 336.76 L326.98 336.13 L328.9 336.13 L328.9 335.66 L330.82 335.66 L330.82 335.24 L332.75 335.24 L332.75 333.27 L334.68 333.27 L334.68 333.14 L336.6 333.14 L336.6 329.77 L338.52 329.77 L338.52 327.34 L340.45 327.34 L340.45 326.74 L342.38 326.74 L342.38 325.07 L344.3 325.07 L344.3 323.53 L346.22 323.53 L346.22 322.68 L348.15 322.68 L348.15 325.7 L350.07 325.7 L350.07 327.67 L352 327.67 L352 327.99 L353.92 327.99 L353.92 330.05 L355.85 330.05 L355.85 333.14 L357.77 333.14 L357.77 335.65 L359.7 335.65 L359.7 336.4 L361.62 336.4 L361.62 338.05 L363.55 338.05 L363.55 340.75 Z" fill="#f5bcbc" fill-opacity="1" stroke="none"/>
<line x1="323.12" y1="340.75" x2="323.12" y2="337.47" stroke="#fff4f4" stroke-width="0.55"/>
<line x1="325.05" y1="340.75" x2="325.05" y2="336.76" stroke="#fff4f4" stroke-width="0.55"/>
<line x1="326.98" y1="340.75" x2="326.98" y2="336.13" stroke="#fff4f4" stroke-width="0.55"/>
<line x1="328.9" y1="340.75" x2="328.9" y2="335.66" stroke="#fff4f4" stroke-width="0.55"/>
<line x1="330.82" y1="340.75" x2="330.82" y2="335.24" stroke="#fff4f4" stroke-width="0.55"/>
<line x1="332.75" y1="340.75" x2="332.75" y2="333.27" stroke="#fff4f4" stroke-width="0.55"/>
<line x1="334.68" y1="340.75" x2="334.68" y2="333.14" stroke="#fff4f4" stroke-width="0.55"/>
<line x1="336.6" y1="340.75" x2="336.6" y2="329.77" stroke="#fff4f4" stroke-width="0.55"/>
<line x1="338.52" y1="340.75" x2="338.52" y2="327.34" stroke="#fff4f4" stroke-width="0.55"/>
<line x1="340.45" y1="340.75" x2="340.45" y2="326.74" stroke="#fff4f4" stroke-width="0.55"/>
<line x1="342.38" y1="340.75" x2="342.38" y2="325.07" stroke="#fff4f4" stroke-width="0.55"/>
<line x1="344.3" y1="340.75" x2="344.3" y2="323.53" stroke="#fff4f4" stroke-width="0.55"/>
<line x1="346.22" y1="340.75" x2="346.22" y2="322.68" stroke="#fff4f4" stroke-width="0.55"/>
<line x1="348.15" y1="340.75" x2="348.15" y2="325.7" stroke="#fff4f4" stroke-width="0.55"/>
<line x1="350.07" y1="340.75" x2="350.07" y2="327.67" stroke="#fff4f4" stroke-width="0.55"/>
<line x1="352" y1="340.75" x2="352" y2="327.99" stroke="#fff4f4" stroke-width="0.55"/>
<line x1="353.92" y1="340.75" x2="353.92" y2="330.05" stroke="#fff4f4" stroke-width="0.55"/>
<line x1="355.85" y1="340.75" x2="355.85" y2="333.14" stroke="#fff4f4" stroke-width="0.55"/>
<line x1="357.77" y1="340.75" x2="357.77" y2="335.65" stroke="#fff4f4" stroke-width="0.55"/>
<line x1="359.7" y1="340.75" x2="359.7" y2="336.4" stroke="#fff4f4" stroke-width="0.55"/>
<line x1="361.62" y1="340.75" x2="361.62" y2="338.05" stroke="#fff4f4" stroke-width="0.55"/>
<path d="M323.12 338.96 L323.48 338.78 L323.83 338.59 L324.18 338.4 L324.54 338.21 L324.89 338.03 L325.24 337.85 L325.6 337.68 L325.95 337.52 L326.3 337.37 L326.65 337.23 L327.01 337.1 L327.36 336.98 L327.71 336.87 L328.07 336.76 L328.42 336.66 L328.77 336.56 L329.12 336.47 L329.48 336.36 L329.83 336.25 L330.18 336.13 L330.54 336 L330.89 335.85 L331.24 335.68 L331.6 335.5 L331.95 335.29 L332.3 335.07 L332.65 334.82 L333.01 334.56 L333.36 334.27 L333.71 333.97 L334.07 333.65 L334.42 333.31 L334.77 332.95 L335.12 332.58 L335.48 332.2 L335.83 331.81 L336.18 331.42 L336.54 331.01 L336.89 330.6 L337.24 330.19 L337.6 329.78 L337.95 329.36 L338.3 328.95 L338.65 328.55 L339.01 328.15 L339.36 327.75 L339.71 327.37 L340.07 326.99 L340.42 326.63 L340.77 326.28 L341.12 325.95 L341.48 325.64 L341.83 325.34 L342.18 325.06 L342.54 324.81 L342.89 324.57 L343.24 324.36 L343.6 324.18 L343.95 324.01 L344.3 323.88 L344.65 323.77 L345.01 323.69 L345.36 323.63 L345.71 323.61 L346.07 323.61 L346.42 323.64 L346.77 323.69 L347.12 323.78 L347.48 323.89 L347.83 324.03 L348.18 324.19 L348.54 324.38 L348.89 324.59 L349.24 324.83 L349.6 325.09 L349.95 325.36 L350.3 325.66 L350.65 325.98 L351.01 326.31 L351.36 326.66 L351.71 327.03 L352.07 327.4 L352.42 327.79 L352.77 328.18 L353.12 328.59 L353.48 328.99 L353.83 329.41 L354.18 329.83 L354.54 330.25 L354.89 330.66 L355.24 331.08 L355.6 331.5 L355.95 331.91 L356.3 332.32 L356.65 332.72 L357.01 333.12 L357.36 333.5 L357.71 333.88 L358.07 334.25 L358.42 334.61 L358.77 334.96 L359.12 335.3 L359.48 335.63 L359.83 335.94 L360.18 336.25 L360.54 336.54 L360.89 336.82 L361.24 337.08 L361.6 337.34 L361.95 337.58 L362.3 337.81 L362.65 338.02 L363.01 338.23 L363.36 338.42 L363.71 338.6 L364.07 338.77 L364.42 338.94 L364.77 339.09 L365.12 339.23" stroke="#c07070" stroke-width="0.8" fill="none"/>
<line x1="324.5" y1="349.15" x2="328.4" y2="360.9" stroke="#2659d4" stroke-width="1.9" stroke-dasharray="4.2 2.6"/>
<line x1="364.25" y1="348.3" x2="360.75" y2="361.75" stroke="#2659d4" stroke-width="1.9" stroke-dasharray="4.2 2.6"/>
<line x1="272.5" y1="380.3" x2="272.5" y2="435.05" stroke="#555" stroke-width="1.3"/>
<line x1="271.85" y1="434.4" x2="370.4" y2="434.4" stroke="#555" stroke-width="1.3"/>
<line x1="270.7" y1="380.3" x2="272.5" y2="380.3" stroke="#555" stroke-width="0.8"/>
<text x="259.76" y="383.72" font-family='"Liberation Sans", sans-serif' font-size="9.8" font-weight="normal" font-style="normal" fill="#1a1a1a" textLength="11.34" lengthAdjust="spacingAndGlyphs">20</text>
<line x1="270.7" y1="407.35" x2="272.5" y2="407.35" stroke="#555" stroke-width="0.8"/>
<text x="259.76" y="410.77" font-family='"Liberation Sans", sans-serif' font-size="9.8" font-weight="normal" font-style="normal" fill="#1a1a1a" textLength="11.34" lengthAdjust="spacingAndGlyphs">10</text>
<line x1="270.7" y1="434.4" x2="272.5" y2="434.4" stroke="#555" stroke-width="0.8"/>
<text x="265.43" y="437.82" font-family='"Liberation Sans", sans-serif' font-size="9.8" font-weight="normal" font-style="normal" fill="#1a1a1a" textLength="5.67" lengthAdjust="spacingAndGlyphs">0</text>
<line x1="287.3" y1="434.4" x2="287.3" y2="436.2" stroke="#555" stroke-width="0.8"/>
<line x1="301.06" y1="434.4" x2="301.06" y2="436.2" stroke="#555" stroke-width="0.8"/>
<line x1="314.82" y1="434.4" x2="314.82" y2="436.2" stroke="#555" stroke-width="0.8"/>
<line x1="328.58" y1="434.4" x2="328.58" y2="436.2" stroke="#555" stroke-width="0.8"/>
<line x1="342.34" y1="434.4" x2="342.34" y2="436.2" stroke="#555" stroke-width="0.8"/>
<line x1="356.1" y1="434.4" x2="356.1" y2="436.2" stroke="#555" stroke-width="0.8"/>
<line x1="369.86" y1="434.4" x2="369.86" y2="436.2" stroke="#555" stroke-width="0.8"/>
<path d="M272.16 433.72 L272.46 433.58 L272.77 433.43 L273.07 433.26 L273.37 433.05 L273.67 432.82 L273.97 432.55 L274.27 432.24 L274.57 431.89 L274.87 431.5 L275.17 431.06 L275.47 430.56 L275.77 430.01 L276.07 429.39 L276.37 428.71 L276.67 427.97 L276.97 427.15 L277.27 426.25 L277.58 425.28 L277.88 424.23 L278.18 423.1 L278.48 421.9 L278.78 420.61 L279.08 419.25 L279.38 417.82 L279.68 416.31 L279.98 414.75 L280.28 413.12 L280.58 411.45 L280.88 409.73 L281.18 407.99 L281.48 406.23 L281.78 404.45 L282.09 402.69 L282.39 400.94 L282.69 399.23 L282.99 397.56 L283.29 395.96 L283.59 394.44 L283.89 393 L284.19 391.68 L284.49 390.47 L284.79 389.4 L285.09 388.47 L285.39 387.69 L285.69 387.07 L285.99 386.63 L286.29 386.35 L286.59 386.25 L286.9 386.31 L287.2 386.52 L287.5 386.87 L287.8 387.35 L288.1 387.97 L288.4 388.72 L288.7 389.59 L289 390.58 L289.3 391.67 L289.6 392.85 L289.9 394.13 L290.2 395.48 L290.5 396.9 L290.8 398.37 L291.1 399.89 L291.4 401.44 L291.71 403.02 L292.01 404.61 L292.31 406.21 L292.61 407.8 L292.91 409.37 L293.21 410.92 L293.51 412.44 L293.81 413.93 L294.11 415.37 L294.41 416.76 L294.71 418.1 L295.01 419.38 L295.31 420.6 L295.61 421.76 L295.91 422.86 L296.22 423.89 L296.52 424.86 L296.82 425.77 L297.12 426.61 L297.42 427.39 L297.72 428.11 L298.02 428.78 L298.32 429.39 L298.62 429.94 L298.92 430.45 L299.22 430.91 L299.52 431.32 L299.82 431.7 L300.12 432.03 L300.42 432.33 L300.72 432.6 L301.03 432.84 L301.33 433.05 L301.63 433.23 L301.93 433.4 L302.23 433.54 L302.53 433.66 L302.83 433.77 L303.13 433.87 L303.43 433.95 L303.73 434.02 L304.03 434.08 L304.33 434.13 L304.63 434.17 L304.93 434.21 L305.23 434.24 L305.53 434.27 L305.84 434.29 L306.14 434.31 L306.44 434.33 L306.74 434.34 L307.04 434.35 L307.34 434.36 L307.64 434.37 L307.94 434.37" stroke="#a0a8a8" stroke-width="0.9" fill="none"/>
<path d="M272.16 434.4 L272.16 433.5 L273.54 433.5 L273.54 432.46 L274.92 432.46 L274.92 430.53 L276.29 430.53 L276.29 427.28 L277.67 427.28 L277.67 421.87 L279.04 421.87 L279.04 414.92 L280.42 414.92 L280.42 408.46 L281.8 408.46 L281.8 399.39 L283.17 399.39 L283.17 389.68 L284.55 389.68 L284.55 386.68 L285.92 386.68 L285.92 386.53 L287.3 386.53 L287.3 387.46 L288.68 387.46 L288.68 392.44 L290.05 392.44 L290.05 399.08 L291.43 399.08 L291.43 406.71 L292.8 406.71 L292.8 413.8 L294.18 413.8 L294.18 420.11 L295.56 420.11 L295.56 424.93 L296.93 424.93 L296.93 428.73 L298.31 428.73 L298.31 431.11 L299.68 431.11 L299.68 432.62 L301.06 432.62 L301.06 433.48 L302.44 433.48 L302.44 433.97 L303.81 433.97 L303.81 434.21 L305.19 434.21 L305.19 434.32 L306.56 434.32 L306.56 434.37 L307.94 434.37 L307.94 434.39 L309.32 434.39 L309.32 434.4 L310.69 434.4 L310.69 434.4 L312.07 434.4 L312.07 434.4 L313.44 434.4 L313.44 434.4 L314.82 434.4 L314.82 434.4 Z" fill="#f47f7f" fill-opacity="1" stroke="none"/>
<line x1="272.16" y1="434.4" x2="272.16" y2="433.5" stroke="#f99" stroke-width="0.35"/>
<line x1="273.54" y1="434.4" x2="273.54" y2="432.46" stroke="#f99" stroke-width="0.35"/>
<line x1="274.92" y1="434.4" x2="274.92" y2="430.53" stroke="#f99" stroke-width="0.35"/>
<line x1="276.29" y1="434.4" x2="276.29" y2="427.28" stroke="#f99" stroke-width="0.35"/>
<line x1="277.67" y1="434.4" x2="277.67" y2="421.87" stroke="#f99" stroke-width="0.35"/>
<line x1="279.04" y1="434.4" x2="279.04" y2="414.92" stroke="#f99" stroke-width="0.35"/>
<line x1="280.42" y1="434.4" x2="280.42" y2="408.46" stroke="#f99" stroke-width="0.35"/>
<line x1="281.8" y1="434.4" x2="281.8" y2="399.39" stroke="#f99" stroke-width="0.35"/>
<line x1="283.17" y1="434.4" x2="283.17" y2="389.68" stroke="#f99" stroke-width="0.35"/>
<line x1="284.55" y1="434.4" x2="284.55" y2="386.68" stroke="#f99" stroke-width="0.35"/>
<line x1="285.92" y1="434.4" x2="285.92" y2="386.53" stroke="#f99" stroke-width="0.35"/>
<line x1="287.3" y1="434.4" x2="287.3" y2="387.46" stroke="#f99" stroke-width="0.35"/>
<line x1="288.68" y1="434.4" x2="288.68" y2="392.44" stroke="#f99" stroke-width="0.35"/>
<line x1="290.05" y1="434.4" x2="290.05" y2="399.08" stroke="#f99" stroke-width="0.35"/>
<line x1="291.43" y1="434.4" x2="291.43" y2="406.71" stroke="#f99" stroke-width="0.35"/>
<line x1="292.8" y1="434.4" x2="292.8" y2="413.8" stroke="#f99" stroke-width="0.35"/>
<line x1="294.18" y1="434.4" x2="294.18" y2="420.11" stroke="#f99" stroke-width="0.35"/>
<line x1="295.56" y1="434.4" x2="295.56" y2="424.93" stroke="#f99" stroke-width="0.35"/>
<line x1="296.93" y1="434.4" x2="296.93" y2="428.73" stroke="#f99" stroke-width="0.35"/>
<line x1="298.31" y1="434.4" x2="298.31" y2="431.11" stroke="#f99" stroke-width="0.35"/>
<line x1="299.68" y1="434.4" x2="299.68" y2="432.62" stroke="#f99" stroke-width="0.35"/>
<line x1="301.06" y1="434.4" x2="301.06" y2="433.48" stroke="#f99" stroke-width="0.35"/>
<line x1="302.44" y1="434.4" x2="302.44" y2="433.97" stroke="#f99" stroke-width="0.35"/>
<line x1="303.81" y1="434.4" x2="303.81" y2="434.21" stroke="#f99" stroke-width="0.35"/>
<line x1="305.19" y1="434.4" x2="305.19" y2="434.32" stroke="#f99" stroke-width="0.35"/>
<line x1="306.56" y1="434.4" x2="306.56" y2="434.37" stroke="#f99" stroke-width="0.35"/>
<line x1="307.94" y1="434.4" x2="307.94" y2="434.39" stroke="#f99" stroke-width="0.35"/>
<line x1="309.32" y1="434.4" x2="309.32" y2="434.4" stroke="#f99" stroke-width="0.35"/>
<line x1="310.69" y1="434.4" x2="310.69" y2="434.4" stroke="#f99" stroke-width="0.35"/>
<line x1="312.07" y1="434.4" x2="312.07" y2="434.4" stroke="#f99" stroke-width="0.35"/>
<line x1="313.44" y1="434.4" x2="313.44" y2="434.4" stroke="#f99" stroke-width="0.35"/>
<path d="M313.44 434.4 L313.44 434.28 L314.82 434.28 L314.82 434.24 L316.2 434.24 L316.2 434.25 L317.57 434.25 L317.57 434.26 L318.95 434.26 L318.95 434.3 L320.32 434.3 L320.32 434.3 L321.7 434.3 L321.7 434.22 L323.08 434.22 L323.08 434.18 L324.45 434.18 L324.45 434.13 L325.83 434.13 L325.83 434.18 L327.2 434.18 L327.2 433.93 L328.58 433.93 L328.58 433.95 L329.96 433.95 L329.96 433.69 L331.33 433.69 L331.33 433.49 L332.71 433.49 L332.71 433.53 L334.08 433.53 L334.08 433.31 L335.46 433.31 L335.46 433.57 L336.84 433.57 L336.84 433.14 L338.21 433.14 L338.21 433.37 L339.59 433.37 L339.59 432.64 L340.96 432.64 L340.96 432.84 L342.34 432.84 L342.34 432.73 L343.72 432.73 L343.72 433.08 L345.09 433.08 L345.09 433.49 L346.47 433.49 L346.47 433.5 L347.84 433.5 L347.84 433.79 L349.22 433.79 L349.22 433.83 L350.6 433.83 L350.6 433.99 L351.97 433.99 L351.97 434.16 L353.35 434.16 L353.35 434.17 L354.72 434.17 L354.72 434.21 L356.1 434.21 L356.1 434.24 L357.48 434.24 L357.48 434.22 L358.85 434.22 L358.85 434.21 L360.23 434.21 L360.23 434.27 L361.6 434.27 L361.6 434.27 L362.98 434.27 L362.98 434.33 L364.36 434.33 L364.36 434.27 L365.73 434.27 L365.73 434.28 L367.11 434.28 L367.11 434.32 L368.48 434.32 L368.48 434.4 Z" fill="#f47f7f" fill-opacity="1" stroke="none"/>
<path d="M286.41 385.98 L286.64 386.02 L286.88 386.15 L287.12 386.37 L287.36 386.67 L287.6 387.05 L287.84 387.52 L288.08 388.06 L288.32 388.68 L288.55 389.37 L288.79 390.13 L289.03 390.95 L289.27 391.84 L289.51 392.78 L289.75 393.78 L289.99 394.82 L290.23 395.9 L290.46 397.02 L290.7 398.18 L290.94 399.36 L291.18 400.56 L291.42 401.78 L291.66 403.01 L291.9 404.25 L292.14 405.5 L292.38 406.74 L292.61 407.97 L292.85 409.2 L293.09 410.41 L293.33 411.6 L293.57 412.78 L293.81 413.93 L294.05 415.05 L294.29 416.14 L294.52 417.21 L294.76 418.24 L295 419.23 L295.24 420.19 L295.48 421.12 L295.72 422 L295.96 422.85 L296.2 423.66 L296.43 424.43 L296.67 425.16 L296.91 425.85 L297.15 426.51 L297.39 427.12 L297.63 427.7 L297.87 428.25 L298.11 428.76 L298.34 429.24 L298.58 429.69 L298.82 430.1 L299.06 430.49 L299.3 430.85 L299.54 431.18 L299.78 431.48 L300.02 431.76 L300.25 432.02 L300.49 432.26 L300.73 432.47 L300.97 432.67 L301.21 432.85 L301.45 433.02 L301.69 433.16 L301.93 433.3 L302.16 433.42 L302.4 433.53 L302.64 433.63 L302.88 433.72 L303.12 433.8 L303.36 433.87 L303.6 433.93 L303.84 433.99 L304.08 434.04 L304.31 434.09 L304.55 434.13 L304.79 434.16 L305.03 434.19 L305.27 434.22 L305.51 434.24 L305.75 434.26 L305.99 434.28 L306.22 434.3 L306.46 434.31 L306.7 434.33 L306.94 434.34 L307.18 434.34 L307.42 434.35 L307.66 434.36 L307.9 434.37 L308.13 434.37 L308.37 434.38 L308.61 434.38 L308.85 434.38 L309.09 434.39 L309.33 434.39 L309.57 434.39 L309.81 434.39 L310.04 434.39 L310.28 434.39 L310.52 434.39 L310.76 434.4 L311 434.4 L311.24 434.4 L311.48 434.4 L311.72 434.4 L311.95 434.4 L312.19 434.4 L312.43 434.4 L312.67 434.4 L312.91 434.4 L313.15 434.4 L313.39 434.4 L313.63 434.4 L313.86 434.4 L314.1 434.4 L314.34 434.4 L314.58 434.4 L314.82 434.4" stroke="#6a2020" stroke-width="0.9" fill="none"/>
<path d="M318.26 434.4 L318.64 434.39 L319.01 434.39 L319.39 434.39 L319.76 434.39 L320.14 434.39 L320.51 434.39 L320.89 434.38 L321.27 434.38 L321.64 434.38 L322.02 434.37 L322.39 434.37 L322.77 434.36 L323.15 434.35 L323.52 434.34 L323.9 434.33 L324.27 434.32 L324.65 434.31 L325.02 434.3 L325.4 434.28 L325.78 434.27 L326.15 434.25 L326.53 434.22 L326.9 434.2 L327.28 434.17 L327.65 434.15 L328.03 434.12 L328.41 434.08 L328.78 434.05 L329.16 434.01 L329.53 433.97 L329.91 433.92 L330.29 433.87 L330.66 433.83 L331.04 433.77 L331.41 433.72 L331.79 433.67 L332.16 433.61 L332.54 433.55 L332.92 433.49 L333.29 433.43 L333.67 433.37 L334.04 433.31 L334.42 433.25 L334.8 433.2 L335.17 433.14 L335.55 433.09 L335.92 433.04 L336.3 432.99 L336.67 432.95 L337.05 432.91 L337.43 432.87 L337.8 432.84 L338.18 432.82 L338.55 432.8 L338.93 432.79 L339.3 432.78 L339.68 432.78 L340.06 432.78 L340.43 432.79 L340.81 432.81 L341.18 432.83 L341.56 432.86 L341.94 432.89 L342.31 432.93 L342.69 432.97 L343.06 433.01 L343.44 433.06 L343.81 433.11 L344.19 433.17 L344.57 433.23 L344.94 433.28 L345.32 433.34 L345.69 433.4 L346.07 433.46 L346.44 433.52 L346.82 433.58 L347.2 433.64 L347.57 433.69 L347.95 433.75 L348.32 433.8 L348.7 433.85 L349.08 433.9 L349.45 433.94 L349.83 433.99 L350.2 434.03 L350.58 434.06 L350.95 434.1 L351.33 434.13 L351.71 434.16 L352.08 434.19 L352.46 434.21 L352.83 434.24 L353.21 434.26 L353.59 434.27 L353.96 434.29 L354.34 434.3 L354.71 434.32 L355.09 434.33 L355.46 434.34 L355.84 434.35 L356.22 434.36 L356.59 434.36 L356.97 434.37 L357.34 434.37 L357.72 434.38 L358.09 434.38 L358.47 434.38 L358.85 434.39 L359.22 434.39 L359.6 434.39 L359.97 434.39 L360.35 434.39 L360.73 434.4 L361.1 434.4 L361.48 434.4 L361.85 434.4 L362.23 434.4 L362.6 434.4 L362.98 434.4" stroke="#8a2a2a" stroke-width="0.9" fill="none"/>
<line x1="323.1" y1="386.9" x2="323.1" y2="412.35" stroke="#999" stroke-width="0.9"/>
<line x1="322.65" y1="411.9" x2="368.6" y2="411.9" stroke="#999" stroke-width="0.9"/>
<line x1="321.9" y1="398.01" x2="323.1" y2="398.01" stroke="#999" stroke-width="0.8"/>
<text x="311.11" y="400.28" font-family='"Liberation Sans", sans-serif' font-size="6.5" font-weight="normal" font-style="normal" fill="#444">500</text>
<line x1="321.9" y1="411.9" x2="323.1" y2="411.9" stroke="#999" stroke-width="0.8"/>
<text x="318.34" y="414.17" font-family='"Liberation Sans", sans-serif' font-size="6.5" font-weight="normal" font-style="normal" fill="#444">0</text>
<line x1="325.4" y1="411.9" x2="325.4" y2="413.1" stroke="#999" stroke-width="0.8"/>
<line x1="343.08" y1="411.9" x2="343.08" y2="413.1" stroke="#999" stroke-width="0.8"/>
<line x1="360.76" y1="411.9" x2="360.76" y2="413.1" stroke="#999" stroke-width="0.8"/>
<text x="323.54" y="418.9" font-family='"Liberation Sans", sans-serif' font-size="6.6" font-weight="normal" font-style="normal" fill="#444">6</text>
<text x="341.24" y="418.9" font-family='"Liberation Sans", sans-serif' font-size="6.6" font-weight="normal" font-style="normal" fill="#444">8</text>
<text x="356.97" y="418.9" font-family='"Liberation Sans", sans-serif' font-size="6.6" font-weight="normal" font-style="normal" fill="#444">10</text>
<path d="M323.63 411.9 L323.63 404.46 L325.58 404.46 L325.58 402.59 L327.52 402.59 L327.52 401.93 L329.47 401.93 L329.47 400.48 L331.41 400.48 L331.41 399.4 L333.36 399.4 L333.36 396.69 L335.3 396.69 L335.3 397.27 L337.25 397.27 L337.25 395.78 L339.19 395.78 L339.19 394.17 L341.14 394.17 L341.14 396.67 L343.08 396.67 L343.08 397.98 L345.02 397.98 L345.02 400.37 L346.97 400.37 L346.97 403.01 L348.91 403.01 L348.91 404.6 L350.86 404.6 L350.86 406.39 L352.8 406.39 L352.8 408.3 L354.75 408.3 L354.75 409.31 L356.69 409.31 L356.69 410.17 L358.64 410.17 L358.64 410.86 L360.58 410.86 L360.58 411.9 Z" fill="#f5bcbc" fill-opacity="1" stroke="none"/>
<line x1="323.63" y1="411.9" x2="323.63" y2="404.46" stroke="#fff4f4" stroke-width="0.55"/>
<line x1="325.58" y1="411.9" x2="325.58" y2="402.59" stroke="#fff4f4" stroke-width="0.55"/>
<line x1="327.52" y1="411.9" x2="327.52" y2="401.93" stroke="#fff4f4" stroke-width="0.55"/>
<line x1="329.47" y1="411.9" x2="329.47" y2="400.48" stroke="#fff4f4" stroke-width="0.55"/>
<line x1="331.41" y1="411.9" x2="331.41" y2="399.4" stroke="#fff4f4" stroke-width="0.55"/>
<line x1="333.36" y1="411.9" x2="333.36" y2="396.69" stroke="#fff4f4" stroke-width="0.55"/>
<line x1="335.3" y1="411.9" x2="335.3" y2="397.27" stroke="#fff4f4" stroke-width="0.55"/>
<line x1="337.25" y1="411.9" x2="337.25" y2="395.78" stroke="#fff4f4" stroke-width="0.55"/>
<line x1="339.19" y1="411.9" x2="339.19" y2="394.17" stroke="#fff4f4" stroke-width="0.55"/>
<line x1="341.14" y1="411.9" x2="341.14" y2="396.67" stroke="#fff4f4" stroke-width="0.55"/>
<line x1="343.08" y1="411.9" x2="343.08" y2="397.98" stroke="#fff4f4" stroke-width="0.55"/>
<line x1="345.02" y1="411.9" x2="345.02" y2="400.37" stroke="#fff4f4" stroke-width="0.55"/>
<line x1="346.97" y1="411.9" x2="346.97" y2="403.01" stroke="#fff4f4" stroke-width="0.55"/>
<line x1="348.91" y1="411.9" x2="348.91" y2="404.6" stroke="#fff4f4" stroke-width="0.55"/>
<line x1="350.86" y1="411.9" x2="350.86" y2="406.39" stroke="#fff4f4" stroke-width="0.55"/>
<line x1="352.8" y1="411.9" x2="352.8" y2="408.3" stroke="#fff4f4" stroke-width="0.55"/>
<line x1="354.75" y1="411.9" x2="354.75" y2="409.31" stroke="#fff4f4" stroke-width="0.55"/>
<line x1="356.69" y1="411.9" x2="356.69" y2="410.17" stroke="#fff4f4" stroke-width="0.55"/>
<line x1="358.64" y1="411.9" x2="358.64" y2="410.86" stroke="#fff4f4" stroke-width="0.55"/>
<path d="M323.63 408.04 L323.94 407.8 L324.26 407.55 L324.57 407.3 L324.88 407.04 L325.19 406.77 L325.5 406.48 L325.82 406.2 L326.13 405.9 L326.44 405.6 L326.75 405.29 L327.06 404.97 L327.38 404.64 L327.69 404.31 L328 403.98 L328.31 403.64 L328.62 403.3 L328.94 402.95 L329.25 402.6 L329.56 402.25 L329.87 401.9 L330.18 401.55 L330.5 401.2 L330.81 400.85 L331.12 400.51 L331.43 400.17 L331.74 399.83 L332.06 399.5 L332.37 399.18 L332.68 398.86 L332.99 398.56 L333.3 398.26 L333.62 397.97 L333.93 397.7 L334.24 397.44 L334.55 397.19 L334.86 396.95 L335.18 396.74 L335.49 396.53 L335.8 396.35 L336.11 396.18 L336.42 396.03 L336.74 395.89 L337.05 395.78 L337.36 395.69 L337.67 395.61 L337.98 395.56 L338.3 395.52 L338.61 395.51 L338.92 395.52 L339.23 395.55 L339.54 395.59 L339.86 395.66 L340.17 395.75 L340.48 395.85 L340.79 395.98 L341.1 396.13 L341.42 396.29 L341.73 396.47 L342.04 396.67 L342.35 396.88 L342.66 397.11 L342.98 397.35 L343.29 397.61 L343.6 397.88 L343.91 398.16 L344.22 398.46 L344.54 398.76 L344.85 399.07 L345.16 399.39 L345.47 399.72 L345.78 400.06 L346.1 400.39 L346.41 400.74 L346.72 401.08 L347.03 401.43 L347.34 401.78 L347.66 402.14 L347.97 402.49 L348.28 402.83 L348.59 403.18 L348.9 403.53 L349.22 403.87 L349.53 404.2 L349.84 404.53 L350.15 404.86 L350.46 405.18 L350.78 405.49 L351.09 405.8 L351.4 406.1 L351.71 406.39 L352.02 406.67 L352.34 406.95 L352.65 407.21 L352.96 407.47 L353.27 407.72 L353.58 407.96 L353.9 408.19 L354.21 408.41 L354.52 408.62 L354.83 408.83 L355.14 409.02 L355.46 409.2 L355.77 409.38 L356.08 409.55 L356.39 409.71 L356.7 409.86 L357.02 410 L357.33 410.14 L357.64 410.26 L357.95 410.39 L358.26 410.5 L358.58 410.6 L358.89 410.7 L359.2 410.8 L359.51 410.89 L359.82 410.97 L360.14 411.04 L360.45 411.11 L360.76 411.18" stroke="#c07070" stroke-width="0.8" fill="none"/>
<line x1="324.5" y1="420.65" x2="327.5" y2="433.6" stroke="#2659d4" stroke-width="1.9" stroke-dasharray="4.2 2.6"/>
<line x1="360.75" y1="420.65" x2="355.85" y2="434.1" stroke="#2659d4" stroke-width="1.9" stroke-dasharray="4.2 2.6"/>
<line x1="272.2" y1="453" x2="272.2" y2="508.35" stroke="#555" stroke-width="1.3"/>
<line x1="271.55" y1="507.7" x2="370.4" y2="507.7" stroke="#555" stroke-width="1.3"/>
<line x1="270.4" y1="453" x2="272.2" y2="453" stroke="#555" stroke-width="0.8"/>
<text x="259.46" y="456.42" font-family='"Liberation Sans", sans-serif' font-size="9.8" font-weight="normal" font-style="normal" fill="#1a1a1a" textLength="11.34" lengthAdjust="spacingAndGlyphs">20</text>
<line x1="270.4" y1="480.35" x2="272.2" y2="480.35" stroke="#555" stroke-width="0.8"/>
<text x="259.46" y="483.77" font-family='"Liberation Sans", sans-serif' font-size="9.8" font-weight="normal" font-style="normal" fill="#1a1a1a" textLength="11.34" lengthAdjust="spacingAndGlyphs">10</text>
<line x1="270.4" y1="507.7" x2="272.2" y2="507.7" stroke="#555" stroke-width="0.8"/>
<text x="265.13" y="511.12" font-family='"Liberation Sans", sans-serif' font-size="9.8" font-weight="normal" font-style="normal" fill="#1a1a1a" textLength="5.67" lengthAdjust="spacingAndGlyphs">0</text>
<line x1="287.3" y1="507.7" x2="287.3" y2="509.5" stroke="#555" stroke-width="0.8"/>
<line x1="301.06" y1="507.7" x2="301.06" y2="509.5" stroke="#555" stroke-width="0.8"/>
<line x1="314.82" y1="507.7" x2="314.82" y2="509.5" stroke="#555" stroke-width="0.8"/>
<line x1="328.58" y1="507.7" x2="328.58" y2="509.5" stroke="#555" stroke-width="0.8"/>
<line x1="342.34" y1="507.7" x2="342.34" y2="509.5" stroke="#555" stroke-width="0.8"/>
<line x1="356.1" y1="507.7" x2="356.1" y2="509.5" stroke="#555" stroke-width="0.8"/>
<line x1="369.86" y1="507.7" x2="369.86" y2="509.5" stroke="#555" stroke-width="0.8"/>
<text x="284.58" y="518.78" font-family='"Liberation Sans", sans-serif' font-size="9.4" font-weight="normal" font-style="normal" fill="#1a1a1a" textLength="5.44" lengthAdjust="spacingAndGlyphs">0</text>
<text x="312.13" y="518.73" font-family='"Liberation Sans", sans-serif' font-size="9.4" font-weight="normal" font-style="normal" fill="#1a1a1a" textLength="5.44" lengthAdjust="spacingAndGlyphs">4</text>
<text x="339.62" y="518.78" font-family='"Liberation Sans", sans-serif' font-size="9.4" font-weight="normal" font-style="normal" fill="#1a1a1a" textLength="5.44" lengthAdjust="spacingAndGlyphs">8</text>
<text x="364.3" y="518.78" font-family='"Liberation Sans", sans-serif' font-size="9.4" font-weight="normal" font-style="normal" fill="#1a1a1a" textLength="10.87" lengthAdjust="spacingAndGlyphs">12</text>
<path d="M272.16 506.76 L272.46 506.59 L272.77 506.39 L273.07 506.17 L273.37 505.91 L273.67 505.61 L273.97 505.28 L274.27 504.9 L274.57 504.48 L274.87 504 L275.17 503.48 L275.47 502.89 L275.77 502.24 L276.07 501.53 L276.37 500.75 L276.67 499.9 L276.97 498.98 L277.27 497.99 L277.58 496.93 L277.88 495.79 L278.18 494.58 L278.48 493.3 L278.78 491.95 L279.08 490.54 L279.38 489.07 L279.68 487.56 L279.98 486 L280.28 484.4 L280.58 482.78 L280.88 481.14 L281.18 479.5 L281.48 477.87 L281.78 476.26 L282.09 474.68 L282.39 473.16 L282.69 471.69 L282.99 470.31 L283.29 469.01 L283.59 467.81 L283.89 466.73 L284.19 465.77 L284.49 464.95 L284.79 464.27 L285.09 463.74 L285.39 463.38 L285.69 463.17 L285.99 463.12 L286.29 463.22 L286.59 463.45 L286.9 463.81 L287.2 464.29 L287.5 464.9 L287.8 465.63 L288.1 466.46 L288.4 467.4 L288.7 468.44 L289 469.56 L289.3 470.77 L289.6 472.04 L289.9 473.37 L290.2 474.74 L290.5 476.16 L290.8 477.61 L291.1 479.07 L291.4 480.55 L291.71 482.02 L292.01 483.49 L292.31 484.94 L292.61 486.37 L292.91 487.77 L293.21 489.13 L293.51 490.45 L293.81 491.73 L294.11 492.95 L294.41 494.12 L294.71 495.24 L295.01 496.3 L295.31 497.3 L295.61 498.23 L295.91 499.12 L296.22 499.94 L296.52 500.7 L296.82 501.41 L297.12 502.06 L297.42 502.66 L297.72 503.21 L298.02 503.71 L298.32 504.17 L298.62 504.58 L298.92 504.96 L299.22 505.29 L299.52 505.59 L299.82 505.86 L300.12 506.1 L300.42 506.31 L300.72 506.5 L301.03 506.67 L301.33 506.81 L301.63 506.94 L301.93 507.05 L302.23 507.15 L302.53 507.23 L302.83 507.3 L303.13 507.36 L303.43 507.42 L303.73 507.46 L304.03 507.5 L304.33 507.53 L304.63 507.56 L304.93 507.59 L305.23 507.61 L305.53 507.62 L305.84 507.64 L306.14 507.65 L306.44 507.66 L306.74 507.67 L307.04 507.67 L307.34 507.68 L307.64 507.68 L307.94 507.69" stroke="#a0a8a8" stroke-width="0.9" fill="none"/>
<path d="M272.16 507.7 L272.16 507.38 L273.54 507.38 L273.54 506.83 L274.92 506.83 L274.92 505.65 L276.29 505.65 L276.29 502.9 L277.67 502.9 L277.67 498.57 L279.04 498.57 L279.04 491.92 L280.42 491.92 L280.42 484.54 L281.8 484.54 L281.8 476.13 L283.17 476.13 L283.17 467.37 L284.55 467.37 L284.55 463.27 L285.92 463.27 L285.92 464.63 L287.3 464.63 L287.3 466.46 L288.68 466.46 L288.68 471.33 L290.05 471.33 L290.05 478.36 L291.43 478.36 L291.43 485.87 L292.8 485.87 L292.8 492.09 L294.18 492.09 L294.18 495.79 L295.56 495.79 L295.56 499.07 L296.93 499.07 L296.93 501.53 L298.31 501.53 L298.31 503.16 L299.68 503.16 L299.68 504.3 L301.06 504.3 L301.06 504.99 L302.44 504.99 L302.44 505.68 L303.81 505.68 L303.81 506.17 L305.19 506.17 L305.19 506.62 L306.56 506.62 L306.56 506.92 L307.94 506.92 L307.94 507.14 L309.32 507.14 L309.32 507.34 L310.69 507.34 L310.69 507.47 L312.07 507.47 L312.07 507.55 L313.44 507.55 L313.44 507.6 L314.82 507.6 L314.82 507.64 L316.2 507.64 L316.2 507.67 L317.57 507.67 L317.57 507.7 Z" fill="#f47f7f" fill-opacity="1" stroke="none"/>
<line x1="272.16" y1="507.7" x2="272.16" y2="507.38" stroke="#f99" stroke-width="0.35"/>
<line x1="273.54" y1="507.7" x2="273.54" y2="506.83" stroke="#f99" stroke-width="0.35"/>
<line x1="274.92" y1="507.7" x2="274.92" y2="505.65" stroke="#f99" stroke-width="0.35"/>
<line x1="276.29" y1="507.7" x2="276.29" y2="502.9" stroke="#f99" stroke-width="0.35"/>
<line x1="277.67" y1="507.7" x2="277.67" y2="498.57" stroke="#f99" stroke-width="0.35"/>
<line x1="279.04" y1="507.7" x2="279.04" y2="491.92" stroke="#f99" stroke-width="0.35"/>
<line x1="280.42" y1="507.7" x2="280.42" y2="484.54" stroke="#f99" stroke-width="0.35"/>
<line x1="281.8" y1="507.7" x2="281.8" y2="476.13" stroke="#f99" stroke-width="0.35"/>
<line x1="283.17" y1="507.7" x2="283.17" y2="467.37" stroke="#f99" stroke-width="0.35"/>
<line x1="284.55" y1="507.7" x2="284.55" y2="463.27" stroke="#f99" stroke-width="0.35"/>
<line x1="285.92" y1="507.7" x2="285.92" y2="464.63" stroke="#f99" stroke-width="0.35"/>
<line x1="287.3" y1="507.7" x2="287.3" y2="466.46" stroke="#f99" stroke-width="0.35"/>
<line x1="288.68" y1="507.7" x2="288.68" y2="471.33" stroke="#f99" stroke-width="0.35"/>
<line x1="290.05" y1="507.7" x2="290.05" y2="478.36" stroke="#f99" stroke-width="0.35"/>
<line x1="291.43" y1="507.7" x2="291.43" y2="485.87" stroke="#f99" stroke-width="0.35"/>
<line x1="292.8" y1="507.7" x2="292.8" y2="492.09" stroke="#f99" stroke-width="0.35"/>
<line x1="294.18" y1="507.7" x2="294.18" y2="495.79" stroke="#f99" stroke-width="0.35"/>
<line x1="295.56" y1="507.7" x2="295.56" y2="499.07" stroke="#f99" stroke-width="0.35"/>
<line x1="296.93" y1="507.7" x2="296.93" y2="501.53" stroke="#f99" stroke-width="0.35"/>
<line x1="298.31" y1="507.7" x2="298.31" y2="503.16" stroke="#f99" stroke-width="0.35"/>
<line x1="299.68" y1="507.7" x2="299.68" y2="504.3" stroke="#f99" stroke-width="0.35"/>
<line x1="301.06" y1="507.7" x2="301.06" y2="504.99" stroke="#f99" stroke-width="0.35"/>
<line x1="302.44" y1="507.7" x2="302.44" y2="505.68" stroke="#f99" stroke-width="0.35"/>
<line x1="303.81" y1="507.7" x2="303.81" y2="506.17" stroke="#f99" stroke-width="0.35"/>
<line x1="305.19" y1="507.7" x2="305.19" y2="506.62" stroke="#f99" stroke-width="0.35"/>
<line x1="306.56" y1="507.7" x2="306.56" y2="506.92" stroke="#f99" stroke-width="0.35"/>
<line x1="307.94" y1="507.7" x2="307.94" y2="507.14" stroke="#f99" stroke-width="0.35"/>
<line x1="309.32" y1="507.7" x2="309.32" y2="507.34" stroke="#f99" stroke-width="0.35"/>
<line x1="310.69" y1="507.7" x2="310.69" y2="507.47" stroke="#f99" stroke-width="0.35"/>
<line x1="312.07" y1="507.7" x2="312.07" y2="507.55" stroke="#f99" stroke-width="0.35"/>
<line x1="313.44" y1="507.7" x2="313.44" y2="507.6" stroke="#f99" stroke-width="0.35"/>
<line x1="314.82" y1="507.7" x2="314.82" y2="507.64" stroke="#f99" stroke-width="0.35"/>
<line x1="316.2" y1="507.7" x2="316.2" y2="507.67" stroke="#f99" stroke-width="0.35"/>
<path d="M314.82 507.7 L314.82 507.57 L316.2 507.57 L316.2 507.58 L317.57 507.58 L317.57 507.62 L318.95 507.62 L318.95 507.59 L320.32 507.59 L320.32 507.5 L321.7 507.5 L321.7 507.55 L323.08 507.55 L323.08 507.53 L324.45 507.53 L324.45 507.53 L325.83 507.53 L325.83 507.56 L327.2 507.56 L327.2 507.57 L328.58 507.57 L328.58 507.55 L329.96 507.55 L329.96 507.52 L331.33 507.52 L331.33 507.52 L332.71 507.52 L332.71 507.5 L334.08 507.5 L334.08 507.49 L335.46 507.49 L335.46 507.53 L336.84 507.53 L336.84 507.46 L338.21 507.46 L338.21 507.47 L339.59 507.47 L339.59 507.22 L340.96 507.22 L340.96 507.54 L342.34 507.54 L342.34 507.23 L343.72 507.23 L343.72 506.73 L345.09 506.73 L345.09 507.14 L346.47 507.14 L346.47 507.26 L347.84 507.26 L347.84 507.02 L349.22 507.02 L349.22 506.76 L350.6 506.76 L350.6 507.07 L351.97 507.07 L351.97 506.97 L353.35 506.97 L353.35 507.12 L354.72 507.12 L354.72 507.25 L356.1 507.25 L356.1 506.85 L357.48 506.85 L357.48 507.32 L358.85 507.32 L358.85 507.44 L360.23 507.44 L360.23 507.47 L361.6 507.47 L361.6 507.45 L362.98 507.45 L362.98 507.48 L364.36 507.48 L364.36 507.48 L365.73 507.48 L365.73 507.53 L367.11 507.53 L367.11 507.61 L368.48 507.61 L368.48 507.7 Z" fill="#f47f7f" fill-opacity="1" stroke="none"/>
<path d="M285.58 462.85 L285.84 462.89 L286.09 463.04 L286.35 463.28 L286.61 463.62 L286.87 464.05 L287.12 464.58 L287.38 465.18 L287.64 465.88 L287.9 466.64 L288.15 467.49 L288.41 468.4 L288.67 469.38 L288.92 470.41 L289.18 471.49 L289.44 472.62 L289.7 473.79 L289.95 474.99 L290.21 476.22 L290.47 477.46 L290.73 478.73 L290.98 479.99 L291.24 481.27 L291.5 482.53 L291.75 483.79 L292.01 485.04 L292.27 486.27 L292.53 487.47 L292.78 488.65 L293.04 489.8 L293.3 490.92 L293.56 492 L293.81 493.05 L294.07 494.05 L294.33 495.01 L294.58 495.94 L294.84 496.81 L295.1 497.65 L295.36 498.44 L295.61 499.19 L295.87 499.89 L296.13 500.55 L296.39 501.17 L296.64 501.75 L296.9 502.29 L297.16 502.79 L297.41 503.26 L297.67 503.68 L297.93 504.08 L298.19 504.44 L298.44 504.78 L298.7 505.08 L298.96 505.36 L299.22 505.62 L299.47 505.85 L299.73 506.05 L299.99 506.24 L300.24 506.41 L300.5 506.56 L300.76 506.7 L301.02 506.82 L301.27 506.93 L301.53 507.03 L301.79 507.11 L302.05 507.19 L302.3 507.26 L302.56 507.32 L302.82 507.37 L303.07 507.41 L303.33 507.45 L303.59 507.49 L303.85 507.52 L304.1 507.54 L304.36 507.57 L304.62 507.59 L304.88 507.6 L305.13 507.62 L305.39 507.63 L305.65 507.64 L305.9 507.65 L306.16 507.66 L306.42 507.67 L306.68 507.67 L306.93 507.68 L307.19 507.68 L307.45 507.68 L307.71 507.69 L307.96 507.69 L308.22 507.69 L308.48 507.69 L308.73 507.69 L308.99 507.69 L309.25 507.7 L309.51 507.7 L309.76 507.7 L310.02 507.7 L310.28 507.7 L310.54 507.7 L310.79 507.7 L311.05 507.7 L311.31 507.7 L311.57 507.7 L311.82 507.7 L312.08 507.7 L312.34 507.7 L312.59 507.7 L312.85 507.7 L313.11 507.7 L313.37 507.7 L313.62 507.7 L313.88 507.7 L314.14 507.7 L314.4 507.7 L314.65 507.7 L314.91 507.7 L315.17 507.7 L315.42 507.7 L315.68 507.7 L315.94 507.7 L316.2 507.7" stroke="#6a2020" stroke-width="0.9" fill="none"/>
<line x1="324.9" y1="460.9" x2="324.9" y2="486.2" stroke="#999" stroke-width="0.9"/>
<line x1="324.45" y1="485.75" x2="368.6" y2="485.75" stroke="#999" stroke-width="0.9"/>
<line x1="323.7" y1="462.08" x2="324.9" y2="462.08" stroke="#999" stroke-width="0.8"/>
<text x="312.91" y="464.35" font-family='"Liberation Sans", sans-serif' font-size="6.5" font-weight="normal" font-style="normal" fill="#444">200</text>
<line x1="323.7" y1="473.92" x2="324.9" y2="473.92" stroke="#999" stroke-width="0.8"/>
<text x="312.91" y="476.19" font-family='"Liberation Sans", sans-serif' font-size="6.5" font-weight="normal" font-style="normal" fill="#444">100</text>
<line x1="323.7" y1="485.75" x2="324.9" y2="485.75" stroke="#999" stroke-width="0.8"/>
<text x="320.14" y="488.02" font-family='"Liberation Sans", sans-serif' font-size="6.5" font-weight="normal" font-style="normal" fill="#444">0</text>
<line x1="327.5" y1="485.75" x2="327.5" y2="486.95" stroke="#999" stroke-width="0.8"/>
<line x1="343.9" y1="485.75" x2="343.9" y2="486.95" stroke="#999" stroke-width="0.8"/>
<line x1="360.3" y1="485.75" x2="360.3" y2="486.95" stroke="#999" stroke-width="0.8"/>
<text x="325.64" y="492.9" font-family='"Liberation Sans", sans-serif' font-size="6.6" font-weight="normal" font-style="normal" fill="#444">6</text>
<text x="342.06" y="492.9" font-family='"Liberation Sans", sans-serif' font-size="6.6" font-weight="normal" font-style="normal" fill="#444">8</text>
<text x="356.51" y="492.9" font-family='"Liberation Sans", sans-serif' font-size="6.6" font-weight="normal" font-style="normal" fill="#444">10</text>
<path d="M327.5 485.75 L327.5 485.35 L329.3 485.35 L329.3 485.09 L331.11 485.09 L331.11 484.65 L332.91 484.65 L332.91 484.16 L334.72 484.16 L334.72 483.12 L336.52 483.12 L336.52 481.97 L338.32 481.97 L338.32 480.21 L340.13 480.21 L340.13 479.27 L341.93 479.27 L341.93 476.5 L343.74 476.5 L343.74 474.6 L345.54 474.6 L345.54 474.28 L347.34 474.28 L347.34 472.74 L349.15 472.74 L349.15 472.54 L350.95 472.54 L350.95 470.74 L352.76 470.74 L352.76 475.25 L354.56 475.25 L354.56 474.28 L356.36 474.28 L356.36 477.02 L358.17 477.02 L358.17 477.84 L359.97 477.84 L359.97 478.88 L361.78 478.88 L361.78 480.91 L363.58 480.91 L363.58 481.3 L365.38 481.3 L365.38 482.08 L367.19 482.08 L367.19 482.31 L368.99 482.31 L368.99 485.75 Z" fill="#f5bcbc" fill-opacity="1" stroke="none"/>
<line x1="327.5" y1="485.75" x2="327.5" y2="485.35" stroke="#fff4f4" stroke-width="0.55"/>
<line x1="329.3" y1="485.75" x2="329.3" y2="485.09" stroke="#fff4f4" stroke-width="0.55"/>
<line x1="331.11" y1="485.75" x2="331.11" y2="484.65" stroke="#fff4f4" stroke-width="0.55"/>
<line x1="332.91" y1="485.75" x2="332.91" y2="484.16" stroke="#fff4f4" stroke-width="0.55"/>
<line x1="334.72" y1="485.75" x2="334.72" y2="483.12" stroke="#fff4f4" stroke-width="0.55"/>
<line x1="336.52" y1="485.75" x2="336.52" y2="481.97" stroke="#fff4f4" stroke-width="0.55"/>
<line x1="338.32" y1="485.75" x2="338.32" y2="480.21" stroke="#fff4f4" stroke-width="0.55"/>
<line x1="340.13" y1="485.75" x2="340.13" y2="479.27" stroke="#fff4f4" stroke-width="0.55"/>
<line x1="341.93" y1="485.75" x2="341.93" y2="476.5" stroke="#fff4f4" stroke-width="0.55"/>
<line x1="343.74" y1="485.75" x2="343.74" y2="474.6" stroke="#fff4f4" stroke-width="0.55"/>
<line x1="345.54" y1="485.75" x2="345.54" y2="474.28" stroke="#fff4f4" stroke-width="0.55"/>
<line x1="347.34" y1="485.75" x2="347.34" y2="472.74" stroke="#fff4f4" stroke-width="0.55"/>
<line x1="349.15" y1="485.75" x2="349.15" y2="472.54" stroke="#fff4f4" stroke-width="0.55"/>
<line x1="350.95" y1="485.75" x2="350.95" y2="470.74" stroke="#fff4f4" stroke-width="0.55"/>
<line x1="352.76" y1="485.75" x2="352.76" y2="475.25" stroke="#fff4f4" stroke-width="0.55"/>
<line x1="354.56" y1="485.75" x2="354.56" y2="474.28" stroke="#fff4f4" stroke-width="0.55"/>
<line x1="356.36" y1="485.75" x2="356.36" y2="477.02" stroke="#fff4f4" stroke-width="0.55"/>
<line x1="358.17" y1="485.75" x2="358.17" y2="477.84" stroke="#fff4f4" stroke-width="0.55"/>
<line x1="359.97" y1="485.75" x2="359.97" y2="478.88" stroke="#fff4f4" stroke-width="0.55"/>
<line x1="361.78" y1="485.75" x2="361.78" y2="480.91" stroke="#fff4f4" stroke-width="0.55"/>
<line x1="363.58" y1="485.75" x2="363.58" y2="481.3" stroke="#fff4f4" stroke-width="0.55"/>
<line x1="365.38" y1="485.75" x2="365.38" y2="482.08" stroke="#fff4f4" stroke-width="0.55"/>
<line x1="367.19" y1="485.75" x2="367.19" y2="482.31" stroke="#fff4f4" stroke-width="0.55"/>
<path d="M327.5 485.47 L327.85 485.43 L328.2 485.39 L328.55 485.35 L328.91 485.3 L329.26 485.25 L329.61 485.19 L329.96 485.13 L330.31 485.06 L330.66 484.98 L331.01 484.9 L331.37 484.81 L331.72 484.71 L332.07 484.6 L332.42 484.49 L332.77 484.36 L333.12 484.23 L333.47 484.09 L333.83 483.94 L334.18 483.77 L334.53 483.6 L334.88 483.41 L335.23 483.22 L335.58 483.01 L335.93 482.79 L336.29 482.56 L336.64 482.32 L336.99 482.07 L337.34 481.8 L337.69 481.53 L338.04 481.24 L338.39 480.94 L338.75 480.63 L339.1 480.31 L339.45 479.99 L339.8 479.65 L340.15 479.31 L340.5 478.96 L340.85 478.6 L341.21 478.24 L341.56 477.87 L341.91 477.51 L342.26 477.14 L342.61 476.77 L342.96 476.4 L343.31 476.04 L343.67 475.68 L344.02 475.32 L344.37 474.97 L344.72 474.64 L345.07 474.31 L345.42 473.99 L345.77 473.69 L346.13 473.4 L346.48 473.13 L346.83 472.88 L347.18 472.64 L347.53 472.43 L347.88 472.23 L348.23 472.06 L348.59 471.92 L348.94 471.79 L349.29 471.69 L349.64 471.62 L349.99 471.57 L350.34 471.55 L350.69 471.56 L351.05 471.59 L351.4 471.64 L351.75 471.72 L352.1 471.83 L352.45 471.96 L352.8 472.12 L353.15 472.3 L353.51 472.5 L353.86 472.72 L354.21 472.96 L354.56 473.22 L354.91 473.5 L355.26 473.79 L355.61 474.1 L355.97 474.42 L356.32 474.75 L356.67 475.09 L357.02 475.44 L357.37 475.8 L357.72 476.16 L358.07 476.52 L358.43 476.89 L358.78 477.26 L359.13 477.63 L359.48 478 L359.83 478.36 L360.18 478.72 L360.53 479.07 L360.89 479.42 L361.24 479.76 L361.59 480.1 L361.94 480.42 L362.29 480.74 L362.64 481.04 L362.99 481.34 L363.35 481.62 L363.7 481.89 L364.05 482.15 L364.4 482.4 L364.75 482.64 L365.1 482.87 L365.45 483.08 L365.81 483.29 L366.16 483.48 L366.51 483.66 L366.86 483.83 L367.21 483.99 L367.56 484.14 L367.91 484.28 L368.27 484.41 L368.62 484.53 L368.97 484.64 L369.32 484.74" stroke="#c07070" stroke-width="0.8" fill="none"/>
<line x1="324" y1="494.15" x2="328.4" y2="507.1" stroke="#2659d4" stroke-width="1.9" stroke-dasharray="4.2 2.6"/>
<line x1="366.35" y1="491.35" x2="362.5" y2="507.1" stroke="#2659d4" stroke-width="1.9" stroke-dasharray="4.2 2.6"/>
<line x1="390.8" y1="443.5" x2="390.8" y2="520" stroke="#f3f3f3" stroke-width="0.8"/>
<text class="b" x="409.92" y="283" font-family='"Liberation Serif", serif' font-size="20.2" font-weight="bold" font-style="normal" fill="#000" textLength="27.26" lengthAdjust="spacingAndGlyphs">(d)</text>
<line x1="477.5" y1="315.3" x2="477.5" y2="507.1" stroke="#111" stroke-width="1.2"/>
<line x1="476.9" y1="506.5" x2="786.3" y2="506.5" stroke="#111" stroke-width="1.2"/>
<line x1="472.2" y1="502.8" x2="477.5" y2="502.8" stroke="#111" stroke-width="1.2"/>
<text class="b" x="449.92" y="508" font-family='"Liberation Serif", serif' font-size="15.5" font-weight="bold" font-style="normal" fill="#000">0.0</text>
<line x1="472.2" y1="455.93" x2="477.5" y2="455.93" stroke="#111" stroke-width="1.2"/>
<text class="b" x="450.13" y="461.12" font-family='"Liberation Serif", serif' font-size="15.5" font-weight="bold" font-style="normal" fill="#000">0.1</text>
<line x1="472.2" y1="409.05" x2="477.5" y2="409.05" stroke="#111" stroke-width="1.2"/>
<text class="b" x="449.99" y="414.25" font-family='"Liberation Serif", serif' font-size="15.5" font-weight="bold" font-style="normal" fill="#000">0.2</text>
<line x1="472.2" y1="362.18" x2="477.5" y2="362.18" stroke="#111" stroke-width="1.2"/>
<text class="b" x="449.85" y="367.38" font-family='"Liberation Serif", serif' font-size="15.5" font-weight="bold" font-style="normal" fill="#000">0.3</text>
<line x1="472.2" y1="315.3" x2="477.5" y2="315.3" stroke="#111" stroke-width="1.2"/>
<text class="b" x="449.61" y="320.5" font-family='"Liberation Serif", serif' font-size="15.5" font-weight="bold" font-style="normal" fill="#000">0.4</text>
<line x1="481.3" y1="506.5" x2="481.3" y2="512.1" stroke="#111" stroke-width="1.1"/>
<line x1="518.28" y1="506.5" x2="518.28" y2="509.7" stroke="#111" stroke-width="1.1"/>
<text class="b" x="515.96" y="519.6" font-family='"Liberation Serif", serif' font-size="9.3" font-weight="bold" font-style="normal" fill="#000">2</text>
<line x1="539.91" y1="506.5" x2="539.91" y2="509.7" stroke="#111" stroke-width="1.1"/>
<line x1="555.26" y1="506.5" x2="555.26" y2="509.7" stroke="#111" stroke-width="1.1"/>
<text class="b" x="552.96" y="519.6" font-family='"Liberation Serif", serif' font-size="9.3" font-weight="bold" font-style="normal" fill="#000">4</text>
<line x1="567.17" y1="506.5" x2="567.17" y2="509.7" stroke="#111" stroke-width="1.1"/>
<line x1="576.9" y1="506.5" x2="576.9" y2="509.7" stroke="#111" stroke-width="1.1"/>
<text class="b" x="574.55" y="519.6" font-family='"Liberation Serif", serif' font-size="9.3" font-weight="bold" font-style="normal" fill="#000">6</text>
<line x1="585.12" y1="506.5" x2="585.12" y2="509.7" stroke="#111" stroke-width="1.1"/>
<line x1="592.24" y1="506.5" x2="592.24" y2="509.7" stroke="#111" stroke-width="1.1"/>
<text class="b" x="589.92" y="519.6" font-family='"Liberation Serif", serif' font-size="9.3" font-weight="bold" font-style="normal" fill="#000">8</text>
<line x1="598.53" y1="506.5" x2="598.53" y2="509.7" stroke="#111" stroke-width="1.1"/>
<line x1="604.15" y1="506.5" x2="604.15" y2="512.1" stroke="#111" stroke-width="1.1"/>
<line x1="641.13" y1="506.5" x2="641.13" y2="509.7" stroke="#111" stroke-width="1.1"/>
<text class="b" x="638.81" y="519.6" font-family='"Liberation Serif", serif' font-size="9.3" font-weight="bold" font-style="normal" fill="#000">2</text>
<line x1="662.76" y1="506.5" x2="662.76" y2="509.7" stroke="#111" stroke-width="1.1"/>
<line x1="678.11" y1="506.5" x2="678.11" y2="509.7" stroke="#111" stroke-width="1.1"/>
<text class="b" x="675.81" y="519.6" font-family='"Liberation Serif", serif' font-size="9.3" font-weight="bold" font-style="normal" fill="#000">4</text>
<line x1="690.02" y1="506.5" x2="690.02" y2="509.7" stroke="#111" stroke-width="1.1"/>
<line x1="699.75" y1="506.5" x2="699.75" y2="509.7" stroke="#111" stroke-width="1.1"/>
<text class="b" x="697.4" y="519.6" font-family='"Liberation Serif", serif' font-size="9.3" font-weight="bold" font-style="normal" fill="#000">6</text>
<line x1="707.97" y1="506.5" x2="707.97" y2="509.7" stroke="#111" stroke-width="1.1"/>
<line x1="715.09" y1="506.5" x2="715.09" y2="509.7" stroke="#111" stroke-width="1.1"/>
<text class="b" x="712.77" y="519.6" font-family='"Liberation Serif", serif' font-size="9.3" font-weight="bold" font-style="normal" fill="#000">8</text>
<line x1="721.38" y1="506.5" x2="721.38" y2="509.7" stroke="#111" stroke-width="1.1"/>
<line x1="727" y1="506.5" x2="727" y2="512.1" stroke="#111" stroke-width="1.1"/>
<line x1="763.98" y1="506.5" x2="763.98" y2="509.7" stroke="#111" stroke-width="1.1"/>
<text class="b" x="761.66" y="519.6" font-family='"Liberation Serif", serif' font-size="9.3" font-weight="bold" font-style="normal" fill="#000">2</text>
<line x1="785.61" y1="506.5" x2="785.61" y2="509.7" stroke="#111" stroke-width="1.1"/>
<text class="b" x="471.6" y="533.4" font-family='"Liberation Serif", serif' font-size="15.2" font-weight="bold" font-style="normal" fill="#000">0.1</text>
<text class="b" x="600.13" y="533.4" font-family='"Liberation Serif", serif' font-size="15.2" font-weight="bold" font-style="normal" fill="#000">1</text>
<text class="b" x="719.08" y="533.4" font-family='"Liberation Serif", serif' font-size="15.2" font-weight="bold" font-style="normal" fill="#000">10</text>
<text class="b" x="582.53" y="549.4" font-family='"Liberation Serif", serif' font-size="15.8" font-weight="bold" font-style="normal" fill="#000" textLength="101.46" lengthAdjust="spacingAndGlyphs">Log [Pip] (µM)</text>
<text transform="translate(439.2 416.9) rotate(-90)" font-family='"Liberation Serif", serif' font-weight="bold" font-style="italic" font-size="15.5">P<tspan font-size="15">o</tspan></text>
<circle cx="507.25" cy="321.3" r="3.6" fill="#050505"/>
<circle cx="507.25" cy="333.8" r="3.6" fill="#fa0a0a"/>
<circle cx="507.25" cy="346.3" r="3.6" fill="#0a0af5"/>
<text class="b" x="522.85" y="324.7" font-family='"Liberation Serif", serif' font-size="11.2" font-weight="bold" font-style="normal" fill="#000" textLength="18.22" lengthAdjust="spacingAndGlyphs">WT</text>
<text class="b" x="522.83" y="337.3" font-family='"Liberation Serif", serif' font-size="11.2" font-weight="bold" font-style="normal" fill="#000" textLength="31.8" lengthAdjust="spacingAndGlyphs">T551V</text>
<text class="b" x="522.81" y="349.6" font-family='"Liberation Serif", serif' font-size="11.2" font-weight="bold" font-style="normal" fill="#000" textLength="31.77" lengthAdjust="spacingAndGlyphs">E571A</text>
<path d="M481.3 501.92 L483.21 501.9 L485.13 501.88 L487.04 501.86 L488.96 501.83 L490.87 501.81 L492.78 501.79 L494.7 501.77 L496.61 501.74 L498.53 501.72 L500.44 501.69 L502.35 501.67 L504.27 501.64 L506.18 501.62 L508.09 501.59 L510.01 501.57 L511.92 501.54 L513.84 501.51 L515.75 501.48 L517.66 501.45 L519.58 501.42 L521.49 501.39 L523.41 501.36 L525.32 501.33 L527.23 501.3 L529.15 501.27 L531.06 501.24 L532.98 501.2 L534.89 501.17 L536.8 501.14 L538.72 501.1 L540.63 501.06 L542.55 501.03 L544.46 500.99 L546.37 500.95 L548.29 500.91 L550.2 500.88 L552.12 500.84 L554.03 500.8 L555.94 500.75 L557.86 500.71 L559.77 500.67 L561.68 500.62 L563.6 500.58 L565.51 500.53 L567.43 500.49 L569.34 500.44 L571.25 500.39 L573.17 500.34 L575.08 500.3 L577 500.24 L578.91 500.19 L580.82 500.14 L582.74 500.09 L584.65 500.03 L586.57 499.98 L588.48 499.92 L590.39 499.86 L592.31 499.8 L594.22 499.75 L596.14 499.68 L598.05 499.62 L599.96 499.56 L601.88 499.5 L603.79 499.43 L605.71 499.36 L607.62 499.3 L609.53 499.23 L611.45 499.16 L613.36 499.09 L615.27 499.01 L617.19 498.94 L619.1 498.86 L621.02 498.79 L622.93 498.71 L624.84 498.63 L626.76 498.55 L628.67 498.46 L630.59 498.38 L632.5 498.29 L634.41 498.21 L636.33 498.12 L638.24 498.03 L640.16 497.93 L642.07 497.84 L643.98 497.74 L645.9 497.65 L647.81 497.55 L649.73 497.45 L651.64 497.34 L653.55 497.24 L655.47 497.13 L657.38 497.02 L659.3 496.91 L661.21 496.8 L663.12 496.68 L665.04 496.57 L666.95 496.45 L668.86 496.33 L670.78 496.2 L672.69 496.08 L674.61 495.95 L676.52 495.82 L678.43 495.68 L680.35 495.55 L682.26 495.41 L684.18 495.27 L686.09 495.13 L688 494.98 L689.92 494.83 L691.83 494.68 L693.75 494.53 L695.66 494.37 L697.57 494.21 L699.49 494.05 L701.4 493.88 L703.32 493.71 L705.23 493.54 L707.14 493.37 L709.06 493.19 L710.97 493.01 L712.89 492.82 L714.8 492.64 L716.71 492.44 L718.63 492.25 L720.54 492.05 L722.45 491.85 L724.37 491.64 L726.28 491.43 L728.2 491.22 L730.11 491 L732.02 490.78 L733.94 490.55 L735.85 490.32 L737.77 490.09 L739.68 489.85 L741.59 489.61 L743.51 489.36 L745.42 489.11 L747.34 488.85 L749.25 488.59 L751.16 488.32 L753.08 488.05 L754.99 487.78 L756.91 487.5 L758.82 487.21 L760.73 486.92 L762.65 486.62 L764.56 486.32 L766.48 486.01 L768.39 485.7 L770.3 485.38 L772.22 485.06 L774.13 484.72 L776.04 484.39 L777.96 484.04 L779.87 483.69 L781.79 483.34 L783.7 482.97 L785.61 482.61" stroke="#2030d0" stroke-width="1.8" fill="none" stroke-dasharray="1.9 1.5"/>
<path d="M481.3 500.81 L483.21 500.77 L485.13 500.74 L487.04 500.71 L488.96 500.67 L490.87 500.63 L492.78 500.6 L494.7 500.56 L496.61 500.52 L498.53 500.48 L500.44 500.44 L502.35 500.4 L504.27 500.36 L506.18 500.32 L508.09 500.28 L510.01 500.23 L511.92 500.19 L513.84 500.14 L515.75 500.1 L517.66 500.05 L519.58 500 L521.49 499.96 L523.41 499.91 L525.32 499.86 L527.23 499.81 L529.15 499.75 L531.06 499.7 L532.98 499.65 L534.89 499.59 L536.8 499.54 L538.72 499.48 L540.63 499.42 L542.55 499.36 L544.46 499.3 L546.37 499.24 L548.29 499.18 L550.2 499.12 L552.12 499.05 L554.03 498.99 L555.94 498.92 L557.86 498.85 L559.77 498.78 L561.68 498.71 L563.6 498.64 L565.51 498.56 L567.43 498.49 L569.34 498.41 L571.25 498.34 L573.17 498.26 L575.08 498.18 L577 498.1 L578.91 498.01 L580.82 497.93 L582.74 497.84 L584.65 497.75 L586.57 497.66 L588.48 497.57 L590.39 497.48 L592.31 497.38 L594.22 497.29 L596.14 497.19 L598.05 497.09 L599.96 496.99 L601.88 496.88 L603.79 496.78 L605.71 496.67 L607.62 496.56 L609.53 496.45 L611.45 496.34 L613.36 496.22 L615.27 496.1 L617.19 495.98 L619.1 495.86 L621.02 495.74 L622.93 495.61 L624.84 495.48 L626.76 495.35 L628.67 495.22 L630.59 495.08 L632.5 494.94 L634.41 494.8 L636.33 494.66 L638.24 494.51 L640.16 494.36 L642.07 494.21 L643.98 494.06 L645.9 493.9 L647.81 493.74 L649.73 493.58 L651.64 493.41 L653.55 493.24 L655.47 493.07 L657.38 492.89 L659.3 492.72 L661.21 492.53 L663.12 492.35 L665.04 492.16 L666.95 491.97 L668.86 491.77 L670.78 491.57 L672.69 491.37 L674.61 491.16 L676.52 490.95 L678.43 490.74 L680.35 490.52 L682.26 490.3 L684.18 490.07 L686.09 489.84 L688 489.61 L689.92 489.37 L691.83 489.12 L693.75 488.88 L695.66 488.62 L697.57 488.37 L699.49 488.11 L701.4 487.84 L703.32 487.57 L705.23 487.29 L707.14 487.01 L709.06 486.72 L710.97 486.43 L712.89 486.14 L714.8 485.83 L716.71 485.53 L718.63 485.21 L720.54 484.89 L722.45 484.57 L724.37 484.24 L726.28 483.9 L728.2 483.55 L730.11 483.21 L732.02 482.85 L733.94 482.49 L735.85 482.12 L737.77 481.74 L739.68 481.36 L741.59 480.97 L743.51 480.57 L745.42 480.17 L747.34 479.75 L749.25 479.33 L751.16 478.91 L753.08 478.47 L754.99 478.03 L756.91 477.58 L758.82 477.12 L760.73 476.65 L762.65 476.17 L764.56 475.69 L766.48 475.2 L768.39 474.69 L770.3 474.18 L772.22 473.66 L774.13 473.13 L776.04 472.59 L777.96 472.04 L779.87 471.48 L781.79 470.9 L783.7 470.32 L785.61 469.73" stroke="#111" stroke-width="1.8" fill="none" stroke-dasharray="1.9 1.5"/>
<path d="M481.3 502.26 L483.21 502.2 L485.13 502.14 L487.04 502.08 L488.96 502.02 L490.87 501.96 L492.78 501.89 L494.7 501.83 L496.61 501.76 L498.53 501.69 L500.44 501.61 L502.35 501.54 L504.27 501.47 L506.18 501.39 L508.09 501.31 L510.01 501.23 L511.92 501.14 L513.84 501.06 L515.75 500.97 L517.66 500.88 L519.58 500.79 L521.49 500.69 L523.41 500.59 L525.32 500.49 L527.23 500.39 L529.15 500.29 L531.06 500.18 L532.98 500.07 L534.89 499.96 L536.8 499.84 L538.72 499.72 L540.63 499.6 L542.55 499.47 L544.46 499.35 L546.37 499.21 L548.29 499.08 L550.2 498.94 L552.12 498.8 L554.03 498.65 L555.94 498.5 L557.86 498.35 L559.77 498.19 L561.68 498.03 L563.6 497.87 L565.51 497.7 L567.43 497.52 L569.34 497.35 L571.25 497.16 L573.17 496.97 L575.08 496.78 L577 496.59 L578.91 496.38 L580.82 496.18 L582.74 495.96 L584.65 495.75 L586.57 495.52 L588.48 495.29 L590.39 495.06 L592.31 494.82 L594.22 494.57 L596.14 494.32 L598.05 494.06 L599.96 493.79 L601.88 493.52 L603.79 493.24 L605.71 492.95 L607.62 492.65 L609.53 492.35 L611.45 492.04 L613.36 491.72 L615.27 491.4 L617.19 491.06 L619.1 490.72 L621.02 490.37 L622.93 490 L624.84 489.63 L626.76 489.25 L628.67 488.87 L630.59 488.47 L632.5 488.06 L634.41 487.64 L636.33 487.21 L638.24 486.77 L640.16 486.31 L642.07 485.85 L643.98 485.37 L645.9 484.88 L647.81 484.38 L649.73 483.87 L651.64 483.34 L653.55 482.8 L655.47 482.25 L657.38 481.68 L659.3 481.1 L661.21 480.5 L663.12 479.89 L665.04 479.26 L666.95 478.61 L668.86 477.95 L670.78 477.28 L672.69 476.58 L674.61 475.87 L676.52 475.14 L678.43 474.39 L680.35 473.62 L682.26 472.83 L684.18 472.02 L686.09 471.19 L688 470.34 L689.92 469.47 L691.83 468.58 L693.75 467.66 L695.66 466.72 L697.57 465.75 L699.49 464.77 L701.4 463.75 L703.32 462.71 L705.23 461.64 L707.14 460.55 L709.06 459.43 L710.97 458.28 L712.89 457.1 L714.8 455.89 L716.71 454.65 L718.63 453.37 L720.54 452.07 L722.45 450.73 L724.37 449.36 L726.28 447.95 L728.2 446.51 L730.11 445.03 L732.02 443.51 L733.94 441.95 L735.85 440.35 L737.77 438.72 L739.68 437.04 L741.59 435.32 L743.51 433.55 L745.42 431.74 L747.34 429.88 L749.25 427.98 L751.16 426.02 L753.08 424.02 L754.99 421.97 L756.91 419.86 L758.82 417.7 L760.73 415.48 L762.65 413.21 L764.56 410.88 L766.48 408.49 L768.39 406.04 L770.3 403.53 L772.22 400.95 L774.13 398.31 L776.04 395.59 L777.96 392.81 L779.87 389.96 L781.79 387.04 L783.7 384.04 L785.61 380.97" stroke="#e03030" stroke-width="1.8" fill="none" stroke-dasharray="1.9 1.5"/>
<line x1="604.15" y1="484.6" x2="604.15" y2="492.2" stroke="#cf4c4c" stroke-width="1.1"/>
<line x1="601.85" y1="484.6" x2="606.45" y2="484.6" stroke="#cf4c4c" stroke-width="1.1"/>
<line x1="601.85" y1="492.2" x2="606.45" y2="492.2" stroke="#cf4c4c" stroke-width="1.1"/>
<line x1="662.76" y1="483.3" x2="662.76" y2="491.2" stroke="#cf4c4c" stroke-width="1.1"/>
<line x1="660.46" y1="483.3" x2="665.06" y2="483.3" stroke="#cf4c4c" stroke-width="1.1"/>
<line x1="660.46" y1="491.2" x2="665.06" y2="491.2" stroke="#cf4c4c" stroke-width="1.1"/>
<line x1="727" y1="434.2" x2="727" y2="455.2" stroke="#cf4c4c" stroke-width="1.1"/>
<line x1="724.7" y1="434.2" x2="729.3" y2="434.2" stroke="#cf4c4c" stroke-width="1.1"/>
<line x1="724.7" y1="455.2" x2="729.3" y2="455.2" stroke="#cf4c4c" stroke-width="1.1"/>
<line x1="785.61" y1="357.8" x2="785.61" y2="405.2" stroke="#cf4c4c" stroke-width="1.1"/>
<line x1="783.31" y1="357.8" x2="787.91" y2="357.8" stroke="#cf4c4c" stroke-width="1.1"/>
<line x1="783.31" y1="405.2" x2="787.91" y2="405.2" stroke="#cf4c4c" stroke-width="1.1"/>
<circle cx="481.3" cy="501.3" r="3.2" fill="#050505"/>
<circle cx="539.91" cy="498.5" r="3.2" fill="#050505"/>
<circle cx="604.15" cy="496.6" r="3.2" fill="#050505"/>
<circle cx="662.76" cy="491.9" r="3.2" fill="#050505"/>
<circle cx="727" cy="486.7" r="3.2" fill="#050505"/>
<circle cx="785.61" cy="468" r="3.2" fill="#050505"/>
<circle cx="481.3" cy="497.8" r="3.2" fill="#fa0a0a"/>
<circle cx="539.91" cy="493.6" r="3.2" fill="#fa0a0a"/>
<circle cx="604.15" cy="488.5" r="3.2" fill="#fa0a0a"/>
<circle cx="662.76" cy="487.3" r="3.2" fill="#fa0a0a"/>
<circle cx="727" cy="444.6" r="3.2" fill="#fa0a0a"/>
<circle cx="785.61" cy="381.7" r="3.2" fill="#fa0a0a"/>
<circle cx="481.3" cy="502.6" r="3.2" fill="#0a0af5"/>
<circle cx="539.91" cy="501.6" r="3.2" fill="#0a0af5"/>
<circle cx="604.15" cy="498.4" r="3.2" fill="#0a0af5"/>
<circle cx="662.76" cy="495.8" r="3.2" fill="#0a0af5"/>
<circle cx="727" cy="493.2" r="3.2" fill="#0a0af5"/>
<circle cx="785.61" cy="480.8" r="3.2" fill="#0a0af5"/>
<text class="a" x="716.89" y="409.56" font-family='"Liberation Sans", sans-serif' font-size="16.5" fill="#2a2a2a">*</text>
<text class="a" x="724.79" y="409.56" font-family='"Liberation Sans", sans-serif' font-size="16.5" fill="#2a2a2a">*</text>
<text class="a" x="732.69" y="409.56" font-family='"Liberation Sans", sans-serif' font-size="16.5" fill="#2a2a2a">*</text>
<text class="a" x="776.09" y="336.06" font-family='"Liberation Sans", sans-serif' font-size="16.5" fill="#2a2a2a">*</text>
<text class="a" x="783.99" y="336.06" font-family='"Liberation Sans", sans-serif' font-size="16.5" fill="#2a2a2a">*</text>
<text class="a" x="791.89" y="336.06" font-family='"Liberation Sans", sans-serif' font-size="16.5" fill="#2a2a2a">*</text>
</svg>
</body></html>
